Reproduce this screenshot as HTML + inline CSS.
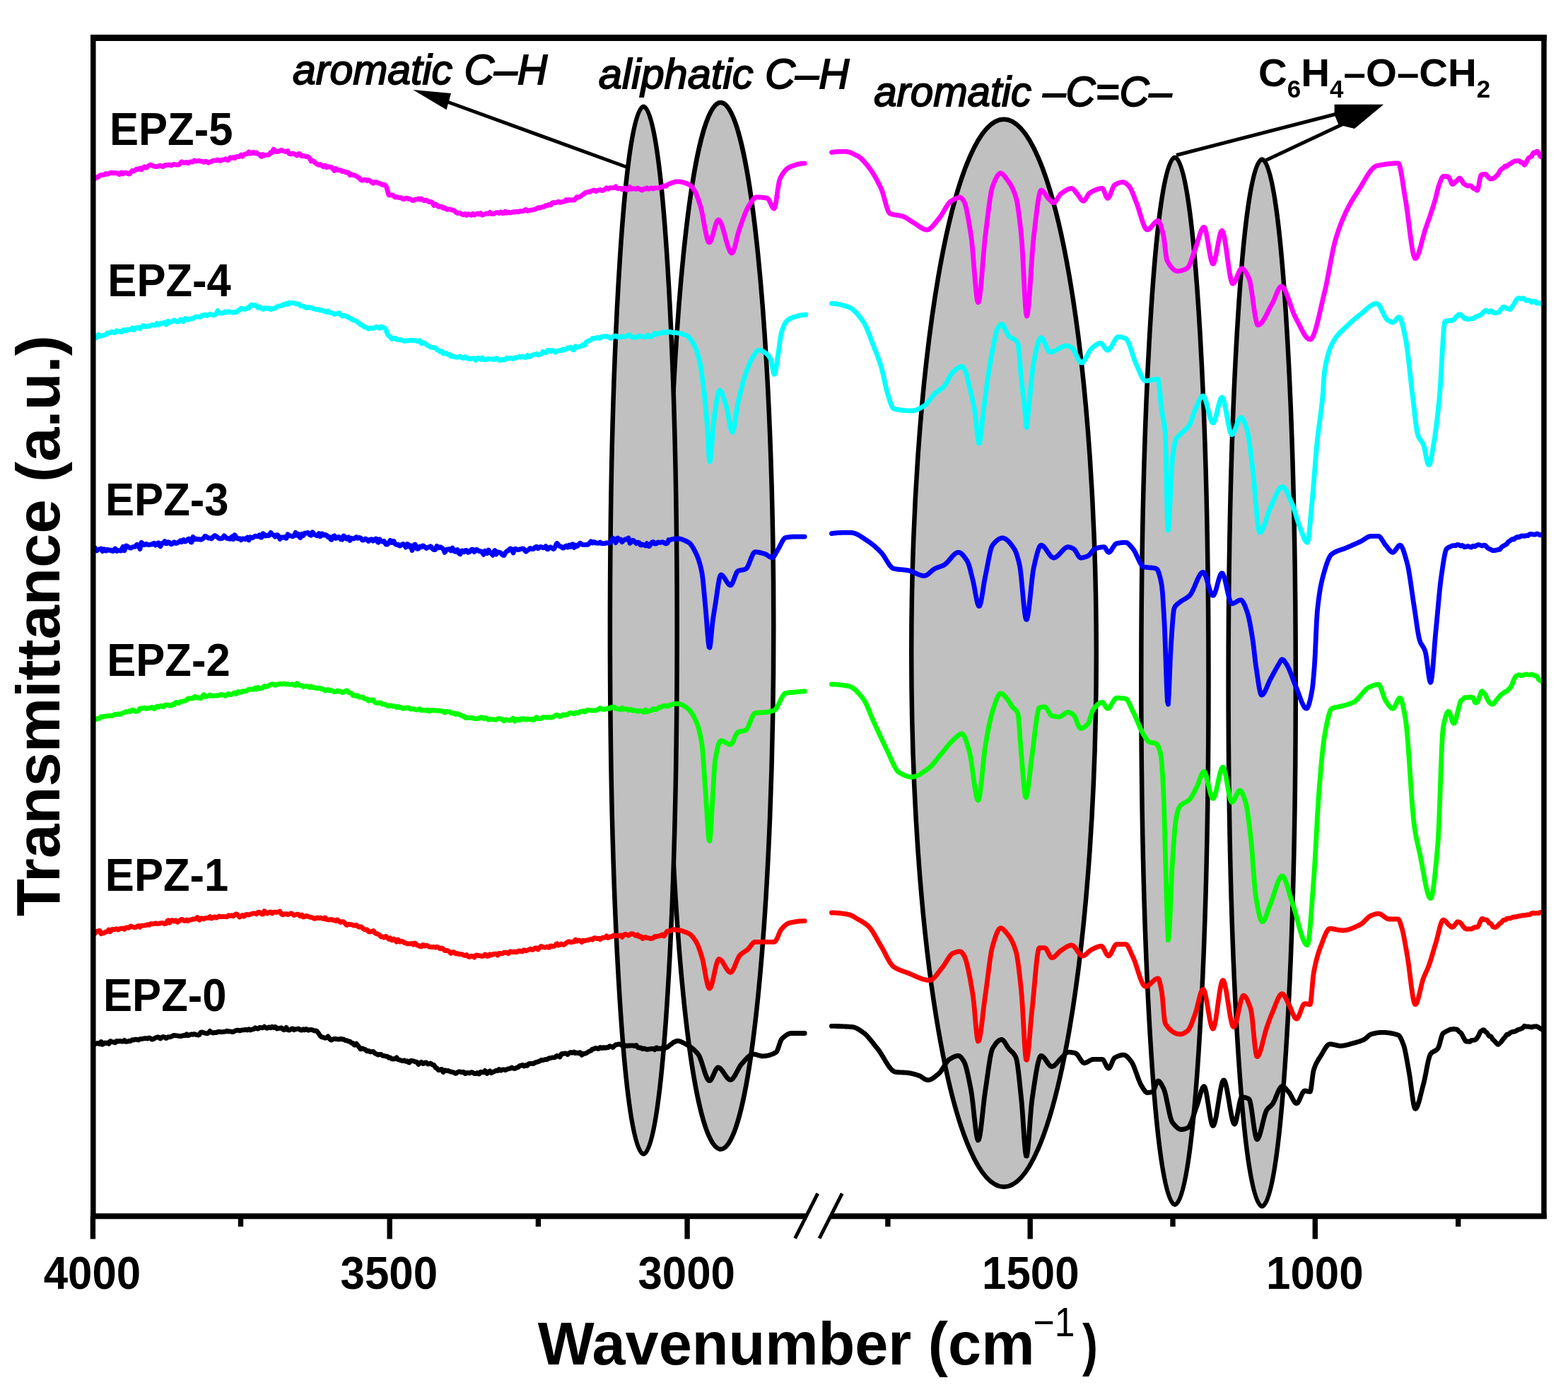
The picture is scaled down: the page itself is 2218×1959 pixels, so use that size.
<!DOCTYPE html>
<html><head><meta charset="utf-8"><title>FTIR spectra EPZ-0 to EPZ-5</title>
<style>
html,body{margin:0;padding:0;background:#fff;}
svg{display:block;}
text{font-family:"Liberation Sans",Arial,sans-serif;fill:#000;}
</style></head><body>
<svg xmlns="http://www.w3.org/2000/svg" width="2218" height="1959" viewBox="0 0 2218 1959">
<rect x="0" y="0" width="2218" height="1959" fill="#fff"/>

<g fill="#C0C0C0" stroke="#000" stroke-width="6.5">
<ellipse cx="1019.5" cy="885.2" rx="74.8" ry="740.3"/>
<ellipse cx="910.3" cy="891.5" rx="47.4" ry="740.8"/>
<ellipse cx="1420.0" cy="923.8" rx="130.8" ry="755.0"/>
<ellipse cx="1661.9" cy="963.3" rx="47.6" ry="740.6"/>
<ellipse cx="1785.2" cy="965.9" rx="47.6" ry="740.3"/>
</g>
<g fill="none" stroke-width="6.8" stroke-linejoin="round" stroke-linecap="round">
<path stroke="#000000" d="M132.0 1479.0L133.0 1477.8L134.0 1476.5L135.0 1476.2L136.0 1476.2L137.0 1475.9L138.0 1475.5L139.0 1475.6L140.0 1476.5L141.0 1476.8L142.0 1475.2L143.0 1473.5L144.0 1475.4L145.0 1477.3L146.0 1476.6L147.0 1475.2L148.0 1474.9L149.0 1475.4L150.0 1475.5L151.0 1475.1L152.0 1474.9L153.0 1475.7L154.0 1476.4L155.0 1474.6L156.0 1472.7L157.0 1472.9L158.0 1473.7L159.0 1473.9L160.0 1473.8L161.0 1473.9L162.0 1474.6L163.0 1474.9L164.0 1473.7L165.0 1472.4L166.0 1472.8L167.0 1473.2L168.0 1472.9L169.0 1472.4L170.0 1472.4L171.0 1472.8L172.0 1473.1L173.0 1473.2L174.0 1473.2L175.0 1472.3L176.0 1471.3L177.0 1472.3L178.0 1473.4L179.0 1473.4L180.0 1473.2L181.0 1472.9L182.0 1472.6L183.0 1472.4L184.0 1472.5L185.0 1472.4L186.0 1471.6L187.0 1470.7L188.0 1470.8L189.0 1471.0L190.0 1470.7L191.0 1470.1L192.0 1470.1L193.0 1470.3L194.0 1470.6L195.0 1470.9L196.0 1471.0L197.0 1470.3L198.0 1469.6L199.0 1469.6L200.0 1469.7L201.0 1469.5L202.0 1469.2L203.0 1469.0L204.0 1468.9L205.0 1468.7L206.0 1468.7L207.0 1468.8L208.0 1469.0L209.0 1469.2L210.0 1468.6L211.0 1467.9L212.0 1468.3L213.0 1468.8L214.0 1469.4L215.0 1470.1L216.0 1470.2L217.0 1469.6L218.0 1469.1L219.0 1468.5L220.0 1468.0L221.0 1467.5L222.0 1467.1L223.0 1467.0L224.0 1466.9L225.0 1467.6L226.0 1468.7L227.0 1469.0L228.0 1468.1L229.0 1467.3L230.0 1466.8L231.0 1466.4L232.0 1466.7L233.0 1467.0L234.0 1467.8L235.0 1468.6L236.0 1468.3L237.0 1467.2L238.0 1466.6L239.0 1466.8L240.0 1466.8L241.0 1466.6L242.0 1466.3L243.0 1465.9L244.0 1465.4L245.0 1464.9L246.0 1464.4L247.0 1464.4L248.0 1464.7L249.0 1464.9L250.0 1464.8L251.0 1464.9L252.0 1465.2L253.0 1465.5L254.0 1465.5L255.0 1465.5L256.0 1465.5L257.0 1465.4L258.0 1465.1L259.0 1464.7L260.0 1464.5L261.0 1464.7L262.0 1464.7L263.0 1463.8L264.0 1462.9L265.0 1463.8L266.0 1464.7L267.0 1464.5L268.0 1464.0L269.0 1463.5L270.0 1463.0L271.0 1462.8L272.0 1463.1L273.0 1463.3L274.0 1462.9L275.0 1462.5L276.0 1463.0L277.0 1463.5L278.0 1463.7L279.0 1463.8L280.0 1464.0L281.0 1464.2L282.0 1463.6L283.0 1461.7L284.0 1460.2L285.0 1460.1L286.0 1460.0L287.0 1460.3L288.0 1460.7L289.0 1461.0L290.0 1461.2L291.0 1461.5L292.0 1461.8L293.0 1461.8L294.0 1461.4L295.0 1460.9L296.0 1459.6L297.0 1458.4L298.0 1459.2L299.0 1459.9L300.0 1460.5L301.0 1461.0L302.0 1460.9L303.0 1460.6L304.0 1460.4L305.0 1460.6L306.0 1460.6L307.0 1460.1L308.0 1459.5L309.0 1459.5L310.0 1459.4L311.0 1459.5L312.0 1459.6L313.0 1459.7L314.0 1459.7L315.0 1459.7L316.0 1459.5L317.0 1459.3L318.0 1459.2L319.0 1459.1L320.0 1458.6L321.0 1458.2L322.0 1458.4L323.0 1458.9L324.0 1459.0L325.0 1458.8L326.0 1458.8L327.0 1459.2L328.0 1459.6L329.0 1459.5L330.0 1459.5L331.0 1458.9L332.0 1458.3L333.0 1457.9L334.0 1457.6L335.0 1457.3L336.0 1457.1L337.0 1457.1L338.0 1457.6L339.0 1457.9L340.0 1457.6L341.0 1457.4L342.0 1457.1L343.0 1456.8L344.0 1456.8L345.0 1456.9L346.0 1456.7L347.0 1456.2L348.0 1456.2L349.0 1456.7L350.0 1457.0L351.0 1456.3L352.0 1455.6L353.0 1456.3L354.0 1457.0L355.0 1456.7L356.0 1456.2L357.0 1455.9L358.0 1455.9L359.0 1455.5L360.0 1454.5L361.0 1453.8L362.0 1454.3L363.0 1454.9L364.0 1455.0L365.0 1455.2L366.0 1454.5L367.0 1453.5L368.0 1453.3L369.0 1453.5L370.0 1453.7L371.0 1453.8L372.0 1453.7L373.0 1452.9L374.0 1452.1L375.0 1452.9L376.0 1453.7L377.0 1454.1L378.0 1454.3L379.0 1453.9L380.0 1453.1L381.0 1452.8L382.0 1453.4L383.0 1453.8L384.0 1453.0L385.0 1452.2L386.0 1452.8L387.0 1453.5L388.0 1453.1L389.0 1452.4L390.0 1452.9L391.0 1454.4L392.0 1455.1L393.0 1454.8L394.0 1454.6L395.0 1454.4L396.0 1454.3L397.0 1454.0L398.0 1453.7L399.0 1454.6L400.0 1455.7L401.0 1456.4L402.0 1456.8L403.0 1456.3L404.0 1454.5L405.0 1453.4L406.0 1455.0L407.0 1456.7L408.0 1456.9L409.0 1457.2L410.0 1456.8L411.0 1456.3L412.0 1455.6L413.0 1454.9L414.0 1454.9L415.0 1456.0L416.0 1456.8L417.0 1456.3L418.0 1455.9L419.0 1455.7L420.0 1455.5L421.0 1455.3L422.0 1455.0L423.0 1455.4L424.0 1456.3L425.0 1456.9L426.0 1457.1L427.0 1457.1L428.0 1456.4L429.0 1455.7L430.0 1456.3L431.0 1456.9L432.0 1456.3L433.0 1455.5L434.0 1455.8L435.0 1456.8L436.0 1457.3L437.0 1456.9L438.0 1456.6L439.0 1456.6L440.0 1456.5L441.0 1456.6L442.0 1456.7L443.0 1457.2L444.0 1457.7L445.0 1458.0L446.0 1458.0L447.0 1458.0L448.0 1458.4L449.0 1459.4L450.0 1460.7L451.0 1462.2L452.0 1463.8L453.0 1465.1L454.0 1466.2L455.0 1466.8L456.0 1467.1L457.0 1467.2L458.0 1467.5L459.0 1468.0L460.0 1468.3L461.0 1468.0L462.0 1467.7L463.0 1466.8L464.0 1465.9L465.0 1467.3L466.0 1469.2L467.0 1470.3L468.0 1471.0L469.0 1471.2L470.0 1470.4L471.0 1469.8L472.0 1469.6L473.0 1469.4L474.0 1469.5L475.0 1469.6L476.0 1469.7L477.0 1469.8L478.0 1469.9L479.0 1470.1L480.0 1470.0L481.0 1469.5L482.0 1469.3L483.0 1469.7L484.0 1470.1L485.0 1470.0L486.0 1469.9L487.0 1470.6L488.0 1471.4L489.0 1471.7L490.0 1471.6L491.0 1471.8L492.0 1472.5L493.0 1473.0L494.0 1473.0L495.0 1473.1L496.0 1474.1L497.0 1475.1L498.0 1475.4L499.0 1475.5L500.0 1476.5L501.0 1478.0L502.0 1478.3L503.0 1476.9L504.0 1476.0L505.0 1477.2L506.0 1478.4L507.0 1479.8L508.0 1481.1L509.0 1482.5L510.0 1483.9L511.0 1483.9L512.0 1483.1L513.0 1482.8L514.0 1483.5L515.0 1484.0L516.0 1484.3L517.0 1484.6L518.0 1485.7L519.0 1486.9L520.0 1486.7L521.0 1486.3L522.0 1486.6L523.0 1487.5L524.0 1487.9L525.0 1487.7L526.0 1487.6L527.0 1487.4L528.0 1487.3L529.0 1488.4L530.0 1489.5L531.0 1490.1L532.0 1490.5L533.0 1491.0L534.0 1491.7L535.0 1492.0L536.0 1491.6L537.0 1491.3L538.0 1491.3L539.0 1491.3L540.0 1492.2L541.0 1493.1L542.0 1493.3L543.0 1493.4L544.0 1493.6L545.0 1493.9L546.0 1494.1L547.0 1494.2L548.0 1494.4L549.0 1495.3L550.0 1496.2L551.0 1496.0L552.0 1495.9L553.0 1496.7L554.0 1497.7L555.0 1498.0L556.0 1497.8L557.0 1497.7L558.0 1497.8L559.0 1497.6L560.0 1496.7L561.0 1495.8L562.0 1497.2L563.0 1498.5L564.0 1498.9L565.0 1499.1L566.0 1499.4L567.0 1499.8L568.0 1500.2L569.0 1500.6L570.0 1500.7L571.0 1500.3L572.0 1499.8L573.0 1500.6L574.0 1501.4L575.0 1501.2L576.0 1500.7L577.0 1501.4L578.0 1502.8L579.0 1503.1L580.0 1501.7L581.0 1500.5L582.0 1500.4L583.0 1500.4L584.0 1500.6L585.0 1500.8L586.0 1501.3L587.0 1501.8L588.0 1502.0L589.0 1502.0L590.0 1502.6L591.0 1504.3L592.0 1505.4L593.0 1504.3L594.0 1503.2L595.0 1502.8L596.0 1502.3L597.0 1503.2L598.0 1504.5L599.0 1504.5L600.0 1503.7L601.0 1503.1L602.0 1502.8L603.0 1502.8L604.0 1503.9L605.0 1505.0L606.0 1504.9L607.0 1504.9L608.0 1504.5L609.0 1504.0L610.0 1504.5L611.0 1505.5L612.0 1506.2L613.0 1506.1L614.0 1506.6L615.0 1508.2L616.0 1510.0L617.0 1510.5L618.0 1510.9L619.0 1512.2L620.0 1513.4L621.0 1513.7L622.0 1513.3L623.0 1512.8L624.0 1512.4L625.0 1512.4L626.0 1514.5L627.0 1516.5L628.0 1515.2L629.0 1513.9L630.0 1514.0L631.0 1514.3L632.0 1514.5L633.0 1514.4L634.0 1514.5L635.0 1514.9L636.0 1515.3L637.0 1515.7L638.0 1516.1L639.0 1516.2L640.0 1516.3L641.0 1516.7L642.0 1517.0L643.0 1517.6L644.0 1518.3L645.0 1518.3L646.0 1517.5L647.0 1516.7L648.0 1516.3L649.0 1515.8L650.0 1515.9L651.0 1516.0L652.0 1516.3L653.0 1516.7L654.0 1516.5L655.0 1516.1L656.0 1516.3L657.0 1517.6L658.0 1518.6L659.0 1517.9L660.0 1517.3L661.0 1517.4L662.0 1517.6L663.0 1517.7L664.0 1517.9L665.0 1517.6L666.0 1516.9L667.0 1516.6L668.0 1516.8L669.0 1517.2L670.0 1517.9L671.0 1518.7L672.0 1518.6L673.0 1518.6L674.0 1518.1L675.0 1517.5L676.0 1517.9L677.0 1519.0L678.0 1519.0L679.0 1517.4L680.0 1516.1L681.0 1516.5L682.0 1516.9L683.0 1516.9L684.0 1516.9L685.0 1515.8L686.0 1514.4L687.0 1515.2L688.0 1517.4L689.0 1518.4L690.0 1517.5L691.0 1516.6L692.0 1515.8L693.0 1514.9L694.0 1516.3L695.0 1517.7L696.0 1517.3L697.0 1516.4L698.0 1516.0L699.0 1515.7L700.0 1515.3L701.0 1514.6L702.0 1514.1L703.0 1514.3L704.0 1514.5L705.0 1513.5L706.0 1512.5L707.0 1513.1L708.0 1514.1L709.0 1514.0L710.0 1513.3L711.0 1512.8L712.0 1512.9L713.0 1513.0L714.0 1513.4L715.0 1513.7L716.0 1513.1L717.0 1512.4L718.0 1512.1L719.0 1511.9L720.0 1511.7L721.0 1511.5L722.0 1511.1L723.0 1510.4L724.0 1510.0L725.0 1510.6L726.0 1511.2L727.0 1511.3L728.0 1511.5L729.0 1511.1L730.0 1510.5L731.0 1510.2L732.0 1510.0L733.0 1509.5L734.0 1508.5L735.0 1507.6L736.0 1507.4L737.0 1507.2L738.0 1506.7L739.0 1506.2L740.0 1506.9L741.0 1508.0L742.0 1507.9L743.0 1506.9L744.0 1506.5L745.0 1507.1L746.0 1507.3L747.0 1505.9L748.0 1504.6L749.0 1504.5L750.0 1504.4L751.0 1504.3L752.0 1504.3L753.0 1504.4L754.0 1504.5L755.0 1504.3L756.0 1503.5L757.0 1502.9L758.0 1502.7L759.0 1502.5L760.0 1502.1L761.0 1501.7L762.0 1501.4L763.0 1501.2L764.0 1500.6L765.0 1499.7L766.0 1499.2L767.0 1499.5L768.0 1499.7L769.0 1499.3L770.0 1498.9L771.0 1498.7L772.0 1498.5L773.0 1498.4L774.0 1498.5L775.0 1498.0L776.0 1497.1L777.0 1496.6L778.0 1496.7L779.0 1496.6L780.0 1496.2L781.0 1495.8L782.0 1495.9L783.0 1495.9L784.0 1495.8L785.0 1495.7L786.0 1494.9L787.0 1493.8L788.0 1493.2L789.0 1493.7L790.0 1494.2L791.0 1494.6L792.0 1495.0L793.0 1493.0L794.0 1490.9L795.0 1490.5L796.0 1490.5L797.0 1490.4L798.0 1490.1L799.0 1489.9L800.0 1490.0L801.0 1490.2L802.0 1490.9L803.0 1491.6L804.0 1490.6L805.0 1489.6L806.0 1489.0L807.0 1488.5L808.0 1488.6L809.0 1489.1L810.0 1489.1L811.0 1488.4L812.0 1488.0L813.0 1488.8L814.0 1489.7L815.0 1489.2L816.0 1488.8L817.0 1489.2L818.0 1489.8L819.0 1489.6L820.0 1488.7L821.0 1488.9L822.0 1490.9L823.0 1492.3L824.0 1491.3L825.0 1490.4L826.0 1490.4L827.0 1490.4L828.0 1490.1L829.0 1489.8L830.0 1489.3L831.0 1488.6L832.0 1488.0L833.0 1487.3L834.0 1486.7L835.0 1486.4L836.0 1486.1L837.0 1485.0L838.0 1484.0L839.0 1483.8L840.0 1483.8L841.0 1483.3L842.0 1482.5L843.0 1482.3L844.0 1482.8L845.0 1483.3L846.0 1483.3L847.0 1483.4L848.0 1482.4L849.0 1481.4L850.0 1481.9L851.0 1482.7L852.0 1482.5L853.0 1481.7L854.0 1481.4L855.0 1482.0L856.0 1482.4L857.0 1481.9L858.0 1481.5L859.0 1481.7L860.0 1481.9L861.0 1481.1L862.0 1479.9L863.0 1479.7L864.0 1480.0L865.0 1480.5L866.0 1481.2L867.0 1481.5L868.0 1480.4L869.0 1479.3L870.0 1478.5L871.0 1477.7L872.0 1477.6L873.0 1477.6L874.0 1477.3L875.0 1477.0L876.0 1476.9L877.0 1477.0L878.0 1477.3L879.0 1478.1L880.0 1478.9L881.0 1479.7L882.0 1480.5L883.0 1479.9L884.0 1479.1L885.0 1478.9L886.0 1479.3L887.0 1479.4L888.0 1479.1L889.0 1479.0L890.0 1479.0L891.0 1479.0L892.0 1478.9L893.0 1478.8L894.0 1478.8L895.0 1478.8L896.0 1479.0L897.0 1479.4L898.0 1479.3L899.0 1478.7L900.0 1478.5L901.0 1479.9L902.0 1481.4L903.0 1481.7L904.0 1482.1L905.0 1482.0L906.0 1481.9L907.0 1482.4L908.0 1483.3L909.0 1483.7L910.0 1483.3L911.0 1483.0L912.0 1483.3L913.0 1483.6L914.0 1484.0L915.0 1484.4L916.0 1484.3L917.0 1484.1L918.0 1484.0L919.0 1483.8L920.0 1483.6L921.0 1483.5L922.0 1483.4L923.0 1483.3L924.0 1483.3L925.0 1484.0L926.0 1484.7L927.0 1483.6L928.0 1482.0L929.0 1482.0L930.0 1483.1L931.0 1483.5L932.0 1483.1L933.0 1482.8L934.0 1483.2L935.0 1483.5L936.0 1483.3L937.0 1483.0L938.0 1481.5L939.0 1479.7L940.0 1479.9L941.0 1481.4L942.0 1482.1L943.0 1481.7L944.0 1481.1L945.0 1480.4L946.0 1479.6L947.0 1478.7L948.0 1477.8L949.0 1477.2L950.0 1476.7L951.0 1475.8L952.0 1474.8L953.0 1474.1L954.0 1473.8L955.0 1473.4L956.0 1472.8L957.0 1472.4L958.0 1472.3L959.0 1472.4L960.0 1472.4L961.0 1472.6L962.0 1472.9L963.0 1473.3L964.0 1473.7L965.0 1474.2L966.0 1474.7L967.0 1475.2L968.0 1475.7L969.0 1476.3L970.0 1476.8L971.0 1477.4L972.0 1477.9L973.0 1478.5L974.0 1479.1L975.0 1479.7L976.0 1480.4L977.0 1481.1L978.0 1481.8L979.0 1482.6L980.0 1483.4L981.0 1484.3L982.0 1485.2L983.0 1486.1L984.0 1487.1L985.0 1488.2L986.0 1489.3L987.0 1490.5L988.0 1491.8L989.0 1493.5L990.0 1495.7L991.0 1498.3L992.0 1501.2L993.0 1504.2L994.0 1507.4L995.0 1510.6L996.0 1513.8L997.0 1516.9L998.0 1519.8L999.0 1522.4L1000.0 1524.7L1001.0 1526.5L1002.0 1527.8L1003.0 1528.6L1004.0 1528.6L1005.0 1528.0L1006.0 1526.8L1007.0 1525.1L1008.0 1523.1L1009.0 1520.9L1010.0 1518.6L1011.0 1516.3L1012.0 1514.2L1013.0 1512.4L1014.0 1511.0L1015.0 1510.1L1016.0 1509.9L1017.0 1510.1L1018.0 1510.7L1019.0 1511.4L1020.0 1512.4L1021.0 1513.6L1022.0 1514.9L1023.0 1516.3L1024.0 1517.8L1025.0 1519.3L1026.0 1520.8L1027.0 1522.2L1028.0 1523.6L1029.0 1524.7L1030.0 1525.8L1031.0 1526.6L1032.0 1527.1L1033.0 1527.4L1034.0 1527.3L1035.0 1526.9L1036.0 1526.1L1037.0 1525.0L1038.0 1523.7L1039.0 1522.2L1040.0 1520.5L1041.0 1518.7L1042.0 1516.8L1043.0 1514.9L1044.0 1513.0L1045.0 1511.1L1046.0 1509.3L1047.0 1507.7L1048.0 1506.2L1049.0 1504.9L1050.0 1503.9L1051.0 1502.8L1052.0 1501.7L1053.0 1500.5L1054.0 1499.4L1055.0 1498.3L1056.0 1497.2L1057.0 1496.2L1058.0 1495.2L1059.0 1494.3L1060.0 1493.5L1061.0 1492.7L1062.0 1492.1L1063.0 1491.7L1064.0 1491.3L1065.0 1491.1L1066.0 1491.1L1067.0 1491.2L1068.0 1491.3L1069.0 1491.5L1070.0 1491.8L1071.0 1492.1L1072.0 1492.4L1073.0 1492.7L1074.0 1493.0L1075.0 1493.2L1076.0 1493.5L1077.0 1493.6L1078.0 1493.8L1079.0 1493.8L1080.0 1493.8L1081.0 1493.7L1082.0 1493.7L1083.0 1493.6L1084.0 1493.4L1085.0 1493.2L1086.0 1493.0L1087.0 1492.8L1088.0 1492.6L1089.0 1492.3L1090.0 1491.9L1091.0 1491.6L1092.0 1491.2L1093.0 1490.8L1094.0 1490.4L1095.0 1489.9L1096.0 1489.4L1097.0 1488.8L1098.0 1488.3L1099.0 1486.9L1100.0 1484.7L1101.0 1482.0L1102.0 1478.9L1103.0 1475.8L1104.0 1473.0L1105.0 1470.8L1106.0 1469.4L1107.0 1468.4L1108.0 1467.5L1109.0 1466.6L1110.0 1465.8L1111.0 1465.0L1112.0 1464.3L1113.0 1463.6L1114.0 1463.0L1115.0 1462.5L1116.0 1462.1L1117.0 1461.8L1118.0 1461.6L1119.0 1461.5L1120.0 1461.5L1121.0 1461.5L1122.0 1461.5L1123.0 1461.5L1124.0 1461.5L1125.0 1461.5L1126.0 1461.5L1127.0 1461.5L1128.0 1461.5L1129.0 1461.5L1130.0 1461.5L1131.0 1461.5L1132.0 1461.5L1133.0 1461.5L1134.0 1461.5L1135.0 1461.5L1136.0 1461.5L1137.0 1461.5L1138.0 1461.5L1138.2 1461.5"/>
<path stroke="#000000" d="M1176.4 1451.4L1177.4 1451.4L1178.4 1451.4L1179.4 1451.4L1180.4 1451.4L1181.4 1451.4L1182.4 1451.4L1183.4 1451.5L1184.4 1451.5L1185.4 1451.5L1186.4 1451.5L1187.4 1451.6L1188.4 1451.6L1189.4 1451.6L1190.4 1451.7L1191.4 1451.7L1192.4 1451.8L1193.4 1451.8L1194.4 1451.9L1195.4 1451.9L1196.4 1452.0L1197.4 1452.0L1198.4 1452.1L1199.4 1452.1L1200.4 1452.2L1201.4 1452.3L1202.4 1452.3L1203.4 1452.4L1204.4 1452.5L1205.4 1452.6L1206.4 1452.7L1207.4 1452.9L1208.4 1453.1L1209.4 1453.5L1210.4 1453.9L1211.4 1454.3L1212.4 1454.8L1213.4 1455.4L1214.4 1456.0L1215.4 1456.6L1216.4 1457.2L1217.4 1457.9L1218.4 1458.6L1219.4 1459.3L1220.4 1460.0L1221.4 1460.7L1222.4 1461.4L1223.4 1462.2L1224.4 1463.1L1225.4 1464.1L1226.4 1465.1L1227.4 1466.2L1228.4 1467.3L1229.4 1468.5L1230.4 1469.6L1231.4 1470.9L1232.4 1472.1L1233.4 1473.4L1234.4 1474.6L1235.4 1475.9L1236.4 1477.2L1237.4 1478.5L1238.4 1479.7L1239.4 1481.0L1240.4 1482.2L1241.4 1483.4L1242.4 1484.7L1243.4 1486.1L1244.4 1487.5L1245.4 1489.0L1246.4 1490.6L1247.4 1492.2L1248.4 1493.9L1249.4 1495.5L1250.4 1497.2L1251.4 1498.9L1252.4 1500.6L1253.4 1502.2L1254.4 1503.8L1255.4 1505.4L1256.4 1506.9L1257.4 1508.3L1258.4 1509.7L1259.4 1510.9L1260.4 1512.1L1261.4 1513.1L1262.4 1514.0L1263.4 1514.8L1264.4 1515.4L1265.4 1515.9L1266.4 1516.2L1267.4 1516.3L1268.4 1516.4L1269.4 1516.5L1270.4 1516.6L1271.4 1516.7L1272.4 1516.7L1273.4 1516.8L1274.4 1516.8L1275.4 1516.9L1276.4 1516.9L1277.4 1517.0L1278.4 1517.0L1279.4 1517.1L1280.4 1517.1L1281.4 1517.2L1282.4 1517.3L1283.4 1517.4L1284.4 1517.5L1285.4 1517.6L1286.4 1517.8L1287.4 1517.9L1288.4 1518.1L1289.4 1518.3L1290.4 1518.6L1291.4 1518.8L1292.4 1519.1L1293.4 1519.3L1294.4 1519.6L1295.4 1519.9L1296.4 1520.2L1297.4 1520.5L1298.4 1520.9L1299.4 1521.2L1300.4 1521.6L1301.4 1522.0L1302.4 1522.6L1303.4 1523.2L1304.4 1523.9L1305.4 1524.6L1306.4 1525.2L1307.4 1525.9L1308.4 1526.5L1309.4 1526.9L1310.4 1527.3L1311.4 1527.6L1312.4 1527.7L1313.4 1527.7L1314.4 1527.5L1315.4 1527.2L1316.4 1526.8L1317.4 1526.4L1318.4 1525.9L1319.4 1525.3L1320.4 1524.6L1321.4 1523.9L1322.4 1523.1L1323.4 1522.3L1324.4 1521.5L1325.4 1520.7L1326.4 1519.9L1327.4 1519.0L1328.4 1518.2L1329.4 1517.1L1330.4 1515.9L1331.4 1514.5L1332.4 1513.0L1333.4 1511.4L1334.4 1509.8L1335.4 1508.1L1336.4 1506.5L1337.4 1504.9L1338.4 1503.4L1339.4 1502.0L1340.4 1500.8L1341.4 1499.7L1342.4 1498.8L1343.4 1498.2L1344.4 1497.6L1345.4 1497.0L1346.4 1496.4L1347.4 1495.8L1348.4 1495.3L1349.4 1494.9L1350.4 1494.4L1351.4 1494.1L1352.4 1493.8L1353.4 1493.5L1354.4 1493.4L1355.4 1493.3L1356.4 1493.4L1357.4 1493.8L1358.4 1494.6L1359.4 1495.5L1360.4 1496.8L1361.4 1498.1L1362.4 1499.6L1363.4 1501.2L1364.4 1503.2L1365.4 1505.8L1366.4 1509.0L1367.4 1512.7L1368.4 1516.9L1369.4 1521.4L1370.4 1526.1L1371.4 1531.0L1372.4 1536.1L1373.4 1541.2L1374.4 1547.1L1375.4 1554.6L1376.4 1563.2L1377.4 1572.5L1378.4 1581.9L1379.4 1590.9L1380.4 1599.0L1381.4 1605.7L1382.4 1610.5L1383.4 1612.8L1384.4 1612.2L1385.4 1609.1L1386.4 1603.9L1387.4 1597.0L1388.4 1588.9L1389.4 1579.9L1390.4 1570.7L1391.4 1561.5L1392.4 1552.8L1393.4 1545.1L1394.4 1538.5L1395.4 1531.7L1396.4 1524.6L1397.4 1517.4L1398.4 1510.4L1399.4 1503.7L1400.4 1497.6L1401.4 1492.2L1402.4 1487.8L1403.4 1484.5L1404.4 1482.5L1405.4 1480.8L1406.4 1479.2L1407.4 1477.8L1408.4 1476.4L1409.4 1475.1L1410.4 1474.0L1411.4 1473.0L1412.4 1472.2L1413.4 1471.5L1414.4 1470.9L1415.4 1470.6L1416.4 1470.4L1417.4 1470.5L1418.4 1471.0L1419.4 1471.9L1420.4 1473.1L1421.4 1474.5L1422.4 1476.1L1423.4 1477.8L1424.4 1479.5L1425.4 1481.1L1426.4 1482.5L1427.4 1483.8L1428.4 1484.9L1429.4 1485.9L1430.4 1486.8L1431.4 1487.7L1432.4 1488.7L1433.4 1489.8L1434.4 1491.1L1435.4 1492.6L1436.4 1494.4L1437.4 1496.7L1438.4 1500.7L1439.4 1506.8L1440.4 1514.3L1441.4 1523.0L1442.4 1532.4L1443.4 1542.1L1444.4 1551.6L1445.4 1561.8L1446.4 1575.0L1447.4 1589.8L1448.4 1604.8L1449.4 1618.4L1450.4 1628.9L1451.4 1635.0L1452.4 1635.1L1453.4 1630.0L1454.4 1620.9L1455.4 1609.1L1456.4 1595.8L1457.4 1582.2L1458.4 1569.6L1459.4 1559.1L1460.4 1551.7L1461.4 1544.9L1462.4 1538.1L1463.4 1531.4L1464.4 1524.9L1465.4 1518.7L1466.4 1513.0L1467.4 1507.7L1468.4 1503.1L1469.4 1499.3L1470.4 1496.3L1471.4 1494.3L1472.4 1493.4L1473.4 1493.4L1474.4 1493.8L1475.4 1494.6L1476.4 1495.6L1477.4 1496.7L1478.4 1498.1L1479.4 1499.5L1480.4 1501.0L1481.4 1502.5L1482.4 1504.0L1483.4 1505.3L1484.4 1506.5L1485.4 1507.4L1486.4 1508.1L1487.4 1508.5L1488.4 1508.6L1489.4 1508.3L1490.4 1507.9L1491.4 1507.2L1492.4 1506.3L1493.4 1505.3L1494.4 1504.3L1495.4 1503.1L1496.4 1501.9L1497.4 1500.7L1498.4 1499.6L1499.4 1498.5L1500.4 1497.5L1501.4 1496.5L1502.4 1495.5L1503.4 1494.3L1504.4 1493.2L1505.4 1492.0L1506.4 1490.9L1507.4 1490.0L1508.4 1489.1L1509.4 1488.6L1510.4 1488.2L1511.4 1488.2L1512.4 1488.2L1513.4 1488.3L1514.4 1488.4L1515.4 1488.5L1516.4 1488.6L1517.4 1488.8L1518.4 1489.0L1519.4 1489.2L1520.4 1489.4L1521.4 1489.6L1522.4 1490.2L1523.4 1491.1L1524.4 1492.3L1525.4 1493.7L1526.4 1495.3L1527.4 1496.9L1528.4 1498.4L1529.4 1499.9L1530.4 1501.2L1531.4 1502.3L1532.4 1503.1L1533.4 1503.5L1534.4 1503.5L1535.4 1503.3L1536.4 1502.9L1537.4 1502.5L1538.4 1502.0L1539.4 1501.4L1540.4 1500.8L1541.4 1500.2L1542.4 1499.7L1543.4 1499.2L1544.4 1498.8L1545.4 1498.5L1546.4 1498.4L1547.4 1498.4L1548.4 1498.4L1549.4 1498.4L1550.4 1498.4L1551.4 1498.4L1552.4 1498.4L1553.4 1498.4L1554.4 1498.4L1555.4 1498.4L1556.4 1498.4L1557.4 1498.4L1558.4 1498.4L1559.4 1498.4L1560.4 1499.0L1561.4 1500.3L1562.4 1502.1L1563.4 1504.2L1564.4 1506.3L1565.4 1508.3L1566.4 1509.9L1567.4 1510.9L1568.4 1511.1L1569.4 1510.3L1570.4 1508.8L1571.4 1506.8L1572.4 1504.5L1573.4 1502.0L1574.4 1499.7L1575.4 1497.8L1576.4 1496.4L1577.4 1495.7L1578.4 1495.2L1579.4 1494.7L1580.4 1494.3L1581.4 1493.8L1582.4 1493.5L1583.4 1493.1L1584.4 1492.8L1585.4 1492.6L1586.4 1492.4L1587.4 1492.2L1588.4 1492.1L1589.4 1492.1L1590.4 1492.2L1591.4 1492.5L1592.4 1493.0L1593.4 1493.7L1594.4 1494.6L1595.4 1495.6L1596.4 1496.7L1597.4 1497.9L1598.4 1499.1L1599.4 1500.4L1600.4 1501.7L1601.4 1503.3L1602.4 1505.2L1603.4 1507.4L1604.4 1509.8L1605.4 1512.4L1606.4 1515.1L1607.4 1517.9L1608.4 1520.7L1609.4 1523.5L1610.4 1526.2L1611.4 1528.8L1612.4 1531.2L1613.4 1533.4L1614.4 1535.3L1615.4 1536.9L1616.4 1538.5L1617.4 1540.1L1618.4 1541.6L1619.4 1543.0L1620.4 1544.2L1621.4 1545.0L1622.4 1545.5L1623.4 1545.5L1624.4 1545.4L1625.4 1545.3L1626.4 1545.2L1627.4 1545.0L1628.4 1544.8L1629.4 1544.5L1630.4 1544.2L1631.4 1543.3L1632.4 1541.3L1633.4 1538.7L1634.4 1535.9L1635.4 1533.1L1636.4 1530.8L1637.4 1529.3L1638.4 1529.0L1639.4 1529.4L1640.4 1530.3L1641.4 1531.5L1642.4 1533.0L1643.4 1534.8L1644.4 1536.6L1645.4 1538.5L1646.4 1540.7L1647.4 1543.6L1648.4 1547.3L1649.4 1551.5L1650.4 1556.2L1651.4 1561.0L1652.4 1565.9L1653.4 1570.7L1654.4 1575.3L1655.4 1579.4L1656.4 1582.9L1657.4 1585.7L1658.4 1587.5L1659.4 1588.8L1660.4 1590.0L1661.4 1591.2L1662.4 1592.3L1663.4 1593.4L1664.4 1594.3L1665.4 1595.2L1666.4 1595.9L1667.4 1596.5L1668.4 1597.0L1669.4 1597.4L1670.4 1597.6L1671.4 1597.6L1672.4 1597.5L1673.4 1597.4L1674.4 1597.2L1675.4 1597.0L1676.4 1596.7L1677.4 1596.3L1678.4 1595.9L1679.4 1595.5L1680.4 1595.0L1681.4 1594.1L1682.4 1592.8L1683.4 1591.0L1684.4 1588.8L1685.4 1586.3L1686.4 1583.6L1687.4 1580.7L1688.4 1577.7L1689.4 1574.7L1690.4 1571.6L1691.4 1568.7L1692.4 1565.9L1693.4 1563.2L1694.4 1560.2L1695.4 1556.7L1696.4 1553.1L1697.4 1549.5L1698.4 1546.0L1699.4 1542.8L1700.4 1540.1L1701.4 1538.1L1702.4 1536.9L1703.4 1536.7L1704.4 1538.2L1705.4 1541.4L1706.4 1546.0L1707.4 1551.5L1708.4 1557.7L1709.4 1564.2L1710.4 1570.8L1711.4 1577.0L1712.4 1582.6L1713.4 1587.3L1714.4 1590.6L1715.4 1592.3L1716.4 1592.2L1717.4 1590.5L1718.4 1587.5L1719.4 1583.3L1720.4 1578.3L1721.4 1572.6L1722.4 1566.5L1723.4 1560.1L1724.4 1553.7L1725.4 1547.6L1726.4 1541.9L1727.4 1536.9L1728.4 1532.7L1729.4 1529.7L1730.4 1528.0L1731.4 1527.8L1732.4 1529.2L1733.4 1531.8L1734.4 1535.6L1735.4 1540.2L1736.4 1545.5L1737.4 1551.3L1738.4 1557.3L1739.4 1563.4L1740.4 1569.4L1741.4 1574.9L1742.4 1579.9L1743.4 1584.1L1744.4 1587.4L1745.4 1589.4L1746.4 1590.0L1747.4 1588.8L1748.4 1585.8L1749.4 1581.6L1750.4 1576.4L1751.4 1570.9L1752.4 1565.4L1753.4 1560.2L1754.4 1556.0L1755.4 1553.0L1756.4 1551.8L1757.4 1551.8L1758.4 1551.9L1759.4 1552.0L1760.4 1552.2L1761.4 1552.4L1762.4 1552.7L1763.4 1553.0L1764.4 1553.4L1765.4 1553.8L1766.4 1554.3L1767.4 1555.3L1768.4 1558.4L1769.4 1563.3L1770.4 1569.4L1771.4 1576.3L1772.4 1583.7L1773.4 1591.0L1774.4 1597.8L1775.4 1603.7L1776.4 1608.3L1777.4 1611.0L1778.4 1611.6L1779.4 1610.7L1780.4 1609.0L1781.4 1606.6L1782.4 1603.5L1783.4 1599.9L1784.4 1596.0L1785.4 1591.9L1786.4 1587.8L1787.4 1583.7L1788.4 1579.8L1789.4 1576.3L1790.4 1573.3L1791.4 1570.9L1792.4 1569.3L1793.4 1568.0L1794.4 1567.0L1795.4 1566.1L1796.4 1565.3L1797.4 1564.4L1798.4 1563.5L1799.4 1562.4L1800.4 1561.0L1801.4 1559.3L1802.4 1557.3L1803.4 1555.1L1804.4 1552.7L1805.4 1550.3L1806.4 1547.8L1807.4 1545.4L1808.4 1543.2L1809.4 1541.2L1810.4 1539.4L1811.4 1538.0L1812.4 1537.1L1813.4 1536.6L1814.4 1536.7L1815.4 1537.0L1816.4 1537.7L1817.4 1538.5L1818.4 1539.5L1819.4 1540.6L1820.4 1541.7L1821.4 1542.9L1822.4 1544.0L1823.4 1545.2L1824.4 1546.6L1825.4 1548.4L1826.4 1550.2L1827.4 1552.1L1828.4 1554.1L1829.4 1555.9L1830.4 1557.5L1831.4 1558.9L1832.4 1560.0L1833.4 1560.6L1834.4 1560.7L1835.4 1560.1L1836.4 1558.8L1837.4 1557.1L1838.4 1555.0L1839.4 1552.7L1840.4 1550.4L1841.4 1548.2L1842.4 1546.1L1843.4 1544.5L1844.4 1543.4L1845.4 1542.9L1846.4 1542.9L1847.4 1543.1L1848.4 1543.3L1849.4 1543.6L1850.4 1543.8L1851.4 1544.0L1852.4 1544.2L1853.4 1544.1L1854.4 1540.5L1855.4 1533.4L1856.4 1525.1L1857.4 1517.6L1858.4 1513.1L1859.4 1510.1L1860.4 1507.5L1861.4 1505.2L1862.4 1503.1L1863.4 1501.3L1864.4 1499.5L1865.4 1497.9L1866.4 1496.4L1867.4 1494.9L1868.4 1493.3L1869.4 1491.7L1870.4 1489.9L1871.4 1488.2L1872.4 1486.4L1873.4 1484.7L1874.4 1483.1L1875.4 1481.5L1876.4 1480.2L1877.4 1479.0L1878.4 1478.0L1879.4 1477.3L1880.4 1476.9L1881.4 1476.8L1882.4 1476.9L1883.4 1477.0L1884.4 1477.1L1885.4 1477.3L1886.4 1477.5L1887.4 1477.7L1888.4 1478.0L1889.4 1478.2L1890.4 1478.4L1891.4 1478.7L1892.4 1478.9L1893.4 1479.0L1894.4 1479.2L1895.4 1479.3L1896.4 1479.3L1897.4 1479.3L1898.4 1479.2L1899.4 1479.1L1900.4 1479.0L1901.4 1478.8L1902.4 1478.6L1903.4 1478.4L1904.4 1478.2L1905.4 1478.0L1906.4 1477.7L1907.4 1477.4L1908.4 1477.1L1909.4 1476.9L1910.4 1476.6L1911.4 1476.3L1912.4 1476.0L1913.4 1475.7L1914.4 1475.4L1915.4 1475.2L1916.4 1474.9L1917.4 1474.7L1918.4 1474.4L1919.4 1474.1L1920.4 1473.8L1921.4 1473.5L1922.4 1473.2L1923.4 1472.8L1924.4 1472.5L1925.4 1472.1L1926.4 1471.7L1927.4 1471.3L1928.4 1470.9L1929.4 1470.4L1930.4 1469.9L1931.4 1469.2L1932.4 1468.3L1933.4 1467.4L1934.4 1466.5L1935.4 1465.6L1936.4 1464.7L1937.4 1463.9L1938.4 1463.3L1939.4 1462.9L1940.4 1462.6L1941.4 1462.3L1942.4 1462.1L1943.4 1461.8L1944.4 1461.6L1945.4 1461.4L1946.4 1461.2L1947.4 1461.0L1948.4 1460.8L1949.4 1460.7L1950.4 1460.6L1951.4 1460.5L1952.4 1460.4L1953.4 1460.3L1954.4 1460.3L1955.4 1460.3L1956.4 1460.3L1957.4 1460.3L1958.4 1460.4L1959.4 1460.4L1960.4 1460.5L1961.4 1460.6L1962.4 1460.7L1963.4 1460.8L1964.4 1460.9L1965.4 1461.0L1966.4 1461.2L1967.4 1461.4L1968.4 1461.5L1969.4 1461.7L1970.4 1462.0L1971.4 1462.2L1972.4 1462.4L1973.4 1462.7L1974.4 1463.0L1975.4 1463.3L1976.4 1463.6L1977.4 1464.0L1978.4 1464.4L1979.4 1465.3L1980.4 1466.7L1981.4 1468.5L1982.4 1470.6L1983.4 1472.9L1984.4 1475.5L1985.4 1478.1L1986.4 1481.3L1987.4 1485.4L1988.4 1490.1L1989.4 1495.4L1990.4 1501.0L1991.4 1506.7L1992.4 1512.4L1993.4 1517.9L1994.4 1524.3L1995.4 1531.6L1996.4 1539.4L1997.4 1547.1L1998.4 1554.3L1999.4 1560.5L2000.4 1565.2L2001.4 1567.9L2002.4 1568.3L2003.4 1567.5L2004.4 1565.9L2005.4 1563.6L2006.4 1560.7L2007.4 1557.3L2008.4 1553.6L2009.4 1549.7L2010.4 1545.7L2011.4 1541.6L2012.4 1537.7L2013.4 1534.0L2014.4 1530.1L2015.4 1525.5L2016.4 1520.5L2017.4 1515.3L2018.4 1510.0L2019.4 1505.0L2020.4 1500.4L2021.4 1496.4L2022.4 1493.2L2023.4 1491.1L2024.4 1489.9L2025.4 1488.9L2026.4 1488.2L2027.4 1487.6L2028.4 1487.1L2029.4 1486.6L2030.4 1486.1L2031.4 1485.4L2032.4 1484.6L2033.4 1483.7L2034.4 1482.2L2035.4 1479.7L2036.4 1476.4L2037.4 1472.6L2038.4 1468.9L2039.4 1465.5L2040.4 1462.9L2041.4 1461.5L2042.4 1460.8L2043.4 1460.2L2044.4 1459.6L2045.4 1459.0L2046.4 1458.5L2047.4 1458.0L2048.4 1457.5L2049.4 1457.1L2050.4 1456.6L2051.4 1456.1L2052.4 1455.9L2053.4 1455.9L2054.4 1455.8L2055.4 1455.6L2056.4 1455.4L2057.4 1455.6L2058.4 1455.8L2059.4 1455.8L2060.4 1455.9L2061.4 1456.3L2062.4 1457.4L2063.4 1458.6L2064.4 1459.6L2065.4 1460.2L2066.4 1460.8L2067.4 1462.3L2068.4 1464.0L2069.4 1466.0L2070.4 1468.0L2071.4 1469.8L2072.4 1471.5L2073.4 1472.7L2074.4 1473.2L2075.4 1473.1L2076.4 1472.9L2077.4 1473.3L2078.4 1473.7L2079.4 1473.4L2080.4 1472.4L2081.4 1471.5L2082.4 1471.4L2083.4 1471.3L2084.4 1471.2L2085.4 1471.1L2086.4 1470.9L2087.4 1470.4L2088.4 1469.4L2089.4 1468.2L2090.4 1466.7L2091.4 1465.1L2092.4 1462.8L2093.4 1460.5L2094.4 1459.0L2095.4 1458.2L2096.4 1457.9L2097.4 1457.0L2098.4 1456.6L2099.4 1457.0L2100.4 1458.2L2101.4 1459.6L2102.4 1460.2L2103.4 1461.0L2104.4 1462.3L2105.4 1463.9L2106.4 1465.5L2107.4 1465.6L2108.4 1465.6L2109.4 1466.5L2110.4 1468.2L2111.4 1470.0L2112.4 1470.9L2113.4 1471.8L2114.4 1472.8L2115.4 1474.1L2116.4 1475.2L2117.4 1476.3L2118.4 1477.1L2119.4 1477.3L2120.4 1476.6L2121.4 1475.6L2122.4 1474.8L2123.4 1473.7L2124.4 1472.4L2125.4 1471.0L2126.4 1469.6L2127.4 1468.5L2128.4 1467.5L2129.4 1466.2L2130.4 1464.6L2131.4 1463.2L2132.4 1463.2L2133.4 1463.2L2134.4 1462.7L2135.4 1461.7L2136.4 1460.7L2137.4 1460.3L2138.4 1459.8L2139.4 1459.5L2140.4 1459.3L2141.4 1459.1L2142.4 1459.0L2143.4 1458.8L2144.4 1458.3L2145.4 1457.6L2146.4 1456.9L2147.4 1456.6L2148.4 1456.2L2149.4 1455.9L2150.4 1455.6L2151.4 1455.3L2152.4 1454.8L2153.4 1454.3L2154.4 1453.5L2155.4 1452.4L2156.4 1451.2L2157.4 1451.6L2158.4 1452.0L2159.4 1452.2L2160.4 1452.1L2161.4 1452.0L2162.4 1452.1L2163.4 1452.3L2164.4 1452.5L2165.4 1452.7L2166.4 1453.0L2167.4 1452.6L2168.4 1452.2L2169.4 1452.0L2170.4 1452.0L2171.4 1451.9L2172.4 1451.8L2173.4 1451.7L2174.4 1452.0L2175.4 1452.6L2176.4 1453.2L2177.4 1453.8L2178.4 1454.4L2179.4 1455.0L2180.4 1455.6L2181.3 1456.2"/>
<path stroke="#FF0000" d="M132.0 1320.1L133.0 1320.4L134.0 1320.8L135.0 1319.5L136.0 1317.8L137.0 1317.2L138.0 1317.3L139.0 1317.1L140.0 1316.5L141.0 1316.4L142.0 1318.6L143.0 1320.8L144.0 1320.3L145.0 1319.8L146.0 1319.7L147.0 1319.8L148.0 1319.3L149.0 1318.4L150.0 1317.9L151.0 1317.8L152.0 1317.5L153.0 1316.2L154.0 1315.0L155.0 1316.4L156.0 1317.8L157.0 1316.7L158.0 1315.0L159.0 1314.4L160.0 1314.5L161.0 1314.5L162.0 1314.5L163.0 1314.4L164.0 1314.1L165.0 1313.7L166.0 1314.4L167.0 1315.0L168.0 1314.6L169.0 1313.9L170.0 1313.6L171.0 1313.5L172.0 1313.4L173.0 1313.2L174.0 1313.1L175.0 1313.8L176.0 1314.4L177.0 1313.3L178.0 1312.1L179.0 1312.0L180.0 1312.0L181.0 1312.2L182.0 1312.3L183.0 1311.9L184.0 1310.8L185.0 1309.9L186.0 1310.3L187.0 1310.8L188.0 1311.2L189.0 1311.5L190.0 1311.7L191.0 1311.9L192.0 1311.6L193.0 1310.9L194.0 1310.3L195.0 1309.8L196.0 1309.5L197.0 1310.4L198.0 1311.4L199.0 1310.4L200.0 1309.4L201.0 1309.2L202.0 1309.2L203.0 1309.2L204.0 1309.1L205.0 1309.0L206.0 1308.7L207.0 1308.4L208.0 1308.0L209.0 1307.7L210.0 1308.0L211.0 1308.4L212.0 1307.7L213.0 1306.8L214.0 1306.5L215.0 1306.7L216.0 1306.8L217.0 1306.7L218.0 1306.6L219.0 1306.2L220.0 1305.8L221.0 1306.1L222.0 1306.5L223.0 1306.5L224.0 1306.4L225.0 1306.3L226.0 1306.1L227.0 1305.9L228.0 1305.7L229.0 1305.5L230.0 1305.7L231.0 1305.9L232.0 1306.4L233.0 1306.8L234.0 1306.5L235.0 1306.1L236.0 1304.5L237.0 1302.3L238.0 1301.8L239.0 1303.8L240.0 1305.1L241.0 1303.5L242.0 1301.8L243.0 1301.7L244.0 1301.6L245.0 1302.3L246.0 1303.1L247.0 1302.9L248.0 1302.0L249.0 1302.0L250.0 1303.4L251.0 1304.3L252.0 1303.7L253.0 1303.2L254.0 1302.3L255.0 1301.4L256.0 1300.8L257.0 1300.3L258.0 1300.6L259.0 1301.4L260.0 1302.1L261.0 1302.4L262.0 1302.5L263.0 1301.8L264.0 1301.1L265.0 1301.9L266.0 1302.7L267.0 1302.2L268.0 1301.4L269.0 1301.1L270.0 1301.1L271.0 1300.9L272.0 1300.2L273.0 1299.7L274.0 1300.0L275.0 1300.2L276.0 1299.8L277.0 1299.4L278.0 1298.6L279.0 1297.6L280.0 1298.5L281.0 1300.6L282.0 1301.3L283.0 1299.9L284.0 1298.8L285.0 1298.8L286.0 1298.8L287.0 1299.4L288.0 1299.9L289.0 1299.4L290.0 1298.7L291.0 1298.4L292.0 1298.4L293.0 1298.4L294.0 1298.4L295.0 1298.3L296.0 1297.4L297.0 1296.5L298.0 1297.8L299.0 1299.0L300.0 1298.8L301.0 1298.1L302.0 1297.5L303.0 1296.9L304.0 1296.9L305.0 1297.6L306.0 1298.1L307.0 1297.7L308.0 1297.3L309.0 1296.6L310.0 1295.9L311.0 1296.1L312.0 1296.6L313.0 1296.7L314.0 1296.6L315.0 1296.5L316.0 1296.6L317.0 1296.7L318.0 1296.6L319.0 1296.6L320.0 1296.7L321.0 1296.8L322.0 1295.9L323.0 1294.9L324.0 1294.8L325.0 1295.3L326.0 1295.4L327.0 1294.9L328.0 1294.6L329.0 1295.2L330.0 1295.9L331.0 1294.9L332.0 1293.9L333.0 1293.3L334.0 1292.8L335.0 1293.0L336.0 1293.8L337.0 1294.9L338.0 1296.3L339.0 1297.2L340.0 1296.4L341.0 1295.7L342.0 1295.0L343.0 1294.4L344.0 1295.2L345.0 1296.3L346.0 1295.8L347.0 1294.4L348.0 1293.5L349.0 1293.3L350.0 1293.3L351.0 1293.7L352.0 1294.1L353.0 1293.7L354.0 1293.3L355.0 1292.9L356.0 1292.6L357.0 1292.3L358.0 1292.0L359.0 1291.8L360.0 1291.8L361.0 1292.0L362.0 1292.4L363.0 1292.9L364.0 1291.6L365.0 1290.3L366.0 1290.2L367.0 1290.4L368.0 1291.0L369.0 1291.9L370.0 1292.7L371.0 1293.2L372.0 1293.1L373.0 1290.9L374.0 1288.6L375.0 1289.7L376.0 1290.8L377.0 1291.5L378.0 1292.1L379.0 1291.7L380.0 1290.8L381.0 1290.2L382.0 1290.0L383.0 1290.1L384.0 1291.1L385.0 1292.0L386.0 1291.2L387.0 1290.3L388.0 1290.2L389.0 1290.1L390.0 1290.2L391.0 1290.4L392.0 1290.4L393.0 1290.1L394.0 1289.7L395.0 1289.4L396.0 1289.0L397.0 1290.9L398.0 1292.8L399.0 1293.4L400.0 1293.8L401.0 1293.6L402.0 1293.0L403.0 1292.6L404.0 1292.6L405.0 1292.6L406.0 1293.1L407.0 1293.6L408.0 1293.4L409.0 1293.2L410.0 1292.6L411.0 1292.0L412.0 1291.9L413.0 1292.3L414.0 1292.9L415.0 1293.9L416.0 1294.6L417.0 1294.3L418.0 1294.0L419.0 1293.5L420.0 1293.1L421.0 1293.1L422.0 1293.3L423.0 1294.1L424.0 1295.5L425.0 1295.8L426.0 1294.7L427.0 1294.1L428.0 1295.5L429.0 1297.0L430.0 1296.8L431.0 1296.6L432.0 1296.1L433.0 1295.5L434.0 1295.5L435.0 1296.0L436.0 1296.4L437.0 1296.8L438.0 1297.1L439.0 1297.3L440.0 1297.6L441.0 1297.7L442.0 1297.8L443.0 1298.4L444.0 1299.1L445.0 1299.3L446.0 1299.2L447.0 1298.9L448.0 1298.3L449.0 1298.0L450.0 1298.3L451.0 1298.6L452.0 1298.4L453.0 1298.2L454.0 1298.4L455.0 1298.8L456.0 1299.2L457.0 1299.6L458.0 1299.5L459.0 1298.4L460.0 1297.9L461.0 1299.3L462.0 1300.7L463.0 1300.7L464.0 1300.8L465.0 1300.9L466.0 1301.0L467.0 1300.8L468.0 1300.4L469.0 1300.4L470.0 1301.0L471.0 1301.4L472.0 1301.5L473.0 1301.6L474.0 1302.1L475.0 1302.7L476.0 1302.0L477.0 1301.0L478.0 1301.3L479.0 1302.6L480.0 1303.5L481.0 1304.1L482.0 1304.5L483.0 1304.0L484.0 1303.6L485.0 1303.7L486.0 1303.9L487.0 1304.8L488.0 1305.9L489.0 1307.0L490.0 1308.2L491.0 1308.5L492.0 1307.8L493.0 1307.2L494.0 1307.4L495.0 1307.7L496.0 1307.6L497.0 1307.6L498.0 1308.0L499.0 1308.6L500.0 1309.0L501.0 1309.2L502.0 1309.1L503.0 1308.6L504.0 1308.4L505.0 1309.3L506.0 1310.2L507.0 1310.8L508.0 1311.4L509.0 1311.1L510.0 1310.7L511.0 1311.0L512.0 1311.9L513.0 1312.8L514.0 1313.7L515.0 1314.4L516.0 1314.7L517.0 1314.9L518.0 1314.9L519.0 1314.8L520.0 1316.0L521.0 1317.4L522.0 1318.0L523.0 1317.9L524.0 1317.8L525.0 1317.6L526.0 1317.4L527.0 1317.0L528.0 1316.5L529.0 1317.8L530.0 1319.1L531.0 1319.8L532.0 1320.5L533.0 1320.9L534.0 1321.0L535.0 1321.4L536.0 1322.0L537.0 1322.7L538.0 1323.9L539.0 1325.1L540.0 1325.0L541.0 1324.9L542.0 1325.4L543.0 1326.0L544.0 1325.6L545.0 1324.6L546.0 1324.4L547.0 1325.4L548.0 1326.5L549.0 1327.4L550.0 1328.4L551.0 1327.7L552.0 1326.9L553.0 1328.2L554.0 1329.9L555.0 1329.8L556.0 1328.5L557.0 1328.0L558.0 1328.6L559.0 1329.4L560.0 1330.8L561.0 1332.2L562.0 1330.6L563.0 1329.1L564.0 1330.2L565.0 1331.9L566.0 1332.2L567.0 1331.4L568.0 1331.1L569.0 1331.4L570.0 1331.8L571.0 1332.7L572.0 1333.5L573.0 1333.7L574.0 1333.9L575.0 1334.3L576.0 1334.9L577.0 1335.0L578.0 1334.8L579.0 1334.8L580.0 1334.9L581.0 1334.9L582.0 1334.6L583.0 1334.3L584.0 1335.2L585.0 1336.1L586.0 1335.3L587.0 1334.0L588.0 1334.5L589.0 1336.2L590.0 1337.2L591.0 1337.1L592.0 1337.2L593.0 1337.9L594.0 1338.6L595.0 1338.7L596.0 1338.8L597.0 1337.8L598.0 1336.5L599.0 1336.6L600.0 1337.7L601.0 1338.2L602.0 1337.6L603.0 1337.2L604.0 1337.4L605.0 1337.7L606.0 1338.5L607.0 1339.2L608.0 1339.4L609.0 1339.3L610.0 1339.4L611.0 1339.6L612.0 1339.6L613.0 1339.5L614.0 1339.5L615.0 1339.8L616.0 1340.1L617.0 1339.6L618.0 1339.2L619.0 1339.5L620.0 1340.0L621.0 1340.7L622.0 1341.6L623.0 1341.9L624.0 1341.4L625.0 1341.0L626.0 1341.6L627.0 1342.3L628.0 1343.3L629.0 1344.4L630.0 1344.5L631.0 1344.5L632.0 1344.5L633.0 1344.5L634.0 1344.8L635.0 1345.8L636.0 1346.7L637.0 1347.5L638.0 1348.4L639.0 1347.6L640.0 1346.8L641.0 1346.6L642.0 1346.7L643.0 1347.4L644.0 1348.4L645.0 1349.0L646.0 1348.7L647.0 1348.6L648.0 1349.1L649.0 1349.5L650.0 1349.6L651.0 1349.6L652.0 1349.7L653.0 1349.7L654.0 1350.0L655.0 1350.6L656.0 1351.1L657.0 1351.4L658.0 1351.5L659.0 1351.0L660.0 1350.5L661.0 1351.7L662.0 1352.8L663.0 1353.3L664.0 1353.6L665.0 1353.2L666.0 1352.6L667.0 1352.2L668.0 1352.5L669.0 1352.8L670.0 1353.4L671.0 1354.1L672.0 1352.7L673.0 1351.3L674.0 1351.0L675.0 1351.1L676.0 1351.3L677.0 1351.6L678.0 1351.8L679.0 1352.0L680.0 1352.1L681.0 1352.4L682.0 1352.6L683.0 1352.3L684.0 1352.1L685.0 1351.1L686.0 1350.0L687.0 1350.3L688.0 1351.7L689.0 1352.5L690.0 1352.4L691.0 1352.2L692.0 1351.0L693.0 1349.8L694.0 1350.4L695.0 1351.0L696.0 1350.6L697.0 1349.8L698.0 1349.5L699.0 1349.5L700.0 1349.4L701.0 1349.1L702.0 1349.1L703.0 1350.1L704.0 1351.1L705.0 1349.7L706.0 1348.3L707.0 1348.3L708.0 1348.6L709.0 1348.8L710.0 1348.9L711.0 1348.7L712.0 1347.8L713.0 1347.2L714.0 1347.3L715.0 1347.5L716.0 1347.5L717.0 1347.4L718.0 1348.0L719.0 1348.8L720.0 1348.1L721.0 1346.5L722.0 1345.7L723.0 1346.3L724.0 1346.7L725.0 1346.7L726.0 1346.6L727.0 1346.3L728.0 1345.9L729.0 1346.4L730.0 1347.0L731.0 1346.8L732.0 1346.0L733.0 1345.4L734.0 1345.0L735.0 1344.8L736.0 1345.3L737.0 1345.8L738.0 1345.9L739.0 1345.9L740.0 1345.0L741.0 1343.8L742.0 1343.7L743.0 1344.4L744.0 1344.8L745.0 1344.6L746.0 1344.3L747.0 1343.7L748.0 1343.2L749.0 1342.7L750.0 1342.1L751.0 1342.6L752.0 1343.3L753.0 1343.4L754.0 1343.1L755.0 1342.6L756.0 1341.6L757.0 1340.9L758.0 1340.9L759.0 1341.0L760.0 1342.0L761.0 1342.9L762.0 1342.0L763.0 1340.7L764.0 1339.6L765.0 1338.7L766.0 1338.5L767.0 1339.2L768.0 1339.8L769.0 1339.9L770.0 1339.9L771.0 1340.1L772.0 1340.2L773.0 1339.6L774.0 1338.9L775.0 1339.2L776.0 1340.3L777.0 1340.3L778.0 1338.9L779.0 1337.8L780.0 1338.0L781.0 1338.2L782.0 1338.5L783.0 1338.8L784.0 1338.3L785.0 1337.6L786.0 1336.4L787.0 1335.0L788.0 1334.7L789.0 1336.1L790.0 1337.1L791.0 1336.7L792.0 1336.3L793.0 1335.7L794.0 1335.0L795.0 1335.5L796.0 1336.2L797.0 1336.3L798.0 1336.1L799.0 1335.6L800.0 1334.6L801.0 1333.7L802.0 1333.0L803.0 1332.4L804.0 1332.0L805.0 1331.7L806.0 1332.1L807.0 1332.7L808.0 1332.8L809.0 1332.4L810.0 1332.2L811.0 1332.2L812.0 1332.0L813.0 1330.5L814.0 1329.1L815.0 1330.2L816.0 1331.4L817.0 1331.0L818.0 1330.2L819.0 1330.0L820.0 1330.3L821.0 1330.9L822.0 1332.0L823.0 1332.7L824.0 1331.4L825.0 1330.1L826.0 1330.5L827.0 1330.8L828.0 1330.5L829.0 1330.1L830.0 1329.9L831.0 1329.9L832.0 1329.8L833.0 1329.3L834.0 1328.9L835.0 1328.6L836.0 1328.4L837.0 1328.8L838.0 1329.3L839.0 1328.3L840.0 1327.0L841.0 1326.6L842.0 1326.8L843.0 1327.1L844.0 1327.5L845.0 1327.8L846.0 1327.5L847.0 1327.2L848.0 1328.0L849.0 1328.8L850.0 1328.0L851.0 1326.9L852.0 1326.3L853.0 1326.1L854.0 1326.1L855.0 1326.1L856.0 1326.0L857.0 1324.9L858.0 1323.9L859.0 1325.3L860.0 1326.6L861.0 1326.1L862.0 1325.1L863.0 1324.9L864.0 1325.2L865.0 1325.1L866.0 1324.2L867.0 1323.5L868.0 1323.1L869.0 1322.7L870.0 1323.2L871.0 1323.8L872.0 1323.7L873.0 1323.5L874.0 1323.6L875.0 1323.8L876.0 1323.7L877.0 1323.0L878.0 1322.8L879.0 1324.2L880.0 1325.5L881.0 1324.2L882.0 1322.9L883.0 1322.1L884.0 1321.3L885.0 1321.3L886.0 1321.7L887.0 1322.2L888.0 1322.8L889.0 1323.2L890.0 1322.5L891.0 1321.8L892.0 1321.2L893.0 1320.6L894.0 1320.6L895.0 1320.8L896.0 1321.3L897.0 1322.0L898.0 1322.7L899.0 1323.2L900.0 1323.5L901.0 1322.7L902.0 1322.0L903.0 1323.4L904.0 1325.0L905.0 1324.7L906.0 1324.1L907.0 1324.9L908.0 1326.7L909.0 1327.5L910.0 1326.7L911.0 1326.0L912.0 1325.7L913.0 1325.4L914.0 1326.0L915.0 1326.5L916.0 1326.7L917.0 1326.7L918.0 1327.0L919.0 1327.3L920.0 1327.5L921.0 1327.5L922.0 1327.4L923.0 1327.0L924.0 1326.6L925.0 1325.6L926.0 1324.6L927.0 1324.7L928.0 1325.0L929.0 1324.8L930.0 1324.3L931.0 1324.1L932.0 1324.0L933.0 1323.9L934.0 1323.4L935.0 1322.8L936.0 1322.4L937.0 1321.9L938.0 1322.8L939.0 1324.0L940.0 1323.2L941.0 1321.1L942.0 1319.4L943.0 1318.1L944.0 1317.1L945.0 1317.0L946.0 1316.9L947.0 1316.8L948.0 1316.7L949.0 1316.2L950.0 1315.6L951.0 1315.0L952.0 1314.6L953.0 1314.6L954.0 1314.9L955.0 1315.2L956.0 1315.3L957.0 1315.4L958.0 1315.3L959.0 1315.3L960.0 1315.6L961.0 1315.8L962.0 1316.0L963.0 1316.2L964.0 1316.5L965.0 1316.8L966.0 1317.1L967.0 1317.5L968.0 1317.8L969.0 1318.2L970.0 1318.5L971.0 1318.9L972.0 1319.3L973.0 1319.8L974.0 1320.2L975.0 1320.7L976.0 1321.4L977.0 1322.2L978.0 1323.2L979.0 1324.2L980.0 1325.4L981.0 1326.7L982.0 1328.1L983.0 1329.5L984.0 1331.0L985.0 1332.6L986.0 1334.5L987.0 1336.7L988.0 1339.1L989.0 1341.9L990.0 1344.7L991.0 1347.8L992.0 1350.9L993.0 1354.1L994.0 1357.9L995.0 1362.6L996.0 1367.8L997.0 1373.4L998.0 1378.9L999.0 1384.3L1000.0 1389.1L1001.0 1393.1L1002.0 1396.2L1003.0 1397.9L1004.0 1398.1L1005.0 1396.9L1006.0 1394.7L1007.0 1391.6L1008.0 1387.8L1009.0 1383.5L1010.0 1379.0L1011.0 1374.3L1012.0 1369.9L1013.0 1365.7L1014.0 1362.1L1015.0 1359.2L1016.0 1357.3L1017.0 1356.5L1018.0 1356.7L1019.0 1357.2L1020.0 1358.1L1021.0 1359.2L1022.0 1360.6L1023.0 1362.2L1024.0 1363.8L1025.0 1365.6L1026.0 1367.3L1027.0 1369.0L1028.0 1370.6L1029.0 1372.0L1030.0 1373.3L1031.0 1374.3L1032.0 1375.0L1033.0 1375.3L1034.0 1375.1L1035.0 1374.4L1036.0 1373.2L1037.0 1371.5L1038.0 1369.6L1039.0 1367.3L1040.0 1364.9L1041.0 1362.5L1042.0 1360.0L1043.0 1357.6L1044.0 1355.4L1045.0 1353.5L1046.0 1351.9L1047.0 1350.8L1048.0 1349.9L1049.0 1349.0L1050.0 1348.3L1051.0 1347.6L1052.0 1346.9L1053.0 1346.3L1054.0 1345.6L1055.0 1345.0L1056.0 1344.3L1057.0 1343.5L1058.0 1342.6L1059.0 1341.6L1060.0 1340.4L1061.0 1339.0L1062.0 1337.7L1063.0 1336.4L1064.0 1335.1L1065.0 1334.0L1066.0 1333.2L1067.0 1332.6L1068.0 1332.3L1069.0 1332.3L1070.0 1332.3L1071.0 1332.3L1072.0 1332.3L1073.0 1332.3L1074.0 1332.3L1075.0 1332.3L1076.0 1332.3L1077.0 1332.3L1078.0 1332.3L1079.0 1332.3L1080.0 1332.3L1081.0 1332.3L1082.0 1332.3L1083.0 1332.3L1084.0 1332.3L1085.0 1332.3L1086.0 1332.3L1087.0 1332.3L1088.0 1332.3L1089.0 1332.3L1090.0 1332.3L1091.0 1332.3L1092.0 1332.3L1093.0 1332.3L1094.0 1332.3L1095.0 1332.3L1096.0 1332.1L1097.0 1331.1L1098.0 1329.7L1099.0 1327.8L1100.0 1325.6L1101.0 1323.2L1102.0 1320.8L1103.0 1318.5L1104.0 1316.4L1105.0 1314.7L1106.0 1313.4L1107.0 1312.4L1108.0 1311.3L1109.0 1310.4L1110.0 1309.4L1111.0 1308.6L1112.0 1307.8L1113.0 1307.1L1114.0 1306.5L1115.0 1306.0L1116.0 1305.6L1117.0 1305.3L1118.0 1305.1L1119.0 1304.9L1120.0 1304.7L1121.0 1304.5L1122.0 1304.3L1123.0 1304.1L1124.0 1303.9L1125.0 1303.8L1126.0 1303.6L1127.0 1303.5L1128.0 1303.4L1129.0 1303.2L1130.0 1303.1L1131.0 1303.0L1132.0 1302.9L1133.0 1302.9L1134.0 1302.8L1135.0 1302.8L1136.0 1302.7L1137.0 1302.7L1138.0 1302.7L1138.2 1302.7"/>
<path stroke="#FF0000" d="M1176.4 1291.0L1177.4 1291.0L1178.4 1291.0L1179.4 1291.0L1180.4 1291.1L1181.4 1291.1L1182.4 1291.2L1183.4 1291.3L1184.4 1291.3L1185.4 1291.4L1186.4 1291.5L1187.4 1291.6L1188.4 1291.7L1189.4 1291.8L1190.4 1292.0L1191.4 1292.1L1192.4 1292.2L1193.4 1292.4L1194.4 1292.5L1195.4 1292.7L1196.4 1292.9L1197.4 1293.0L1198.4 1293.2L1199.4 1293.4L1200.4 1293.6L1201.4 1293.8L1202.4 1294.1L1203.4 1294.5L1204.4 1294.9L1205.4 1295.4L1206.4 1295.9L1207.4 1296.5L1208.4 1297.1L1209.4 1297.7L1210.4 1298.3L1211.4 1298.9L1212.4 1299.5L1213.4 1300.1L1214.4 1300.7L1215.4 1301.2L1216.4 1301.8L1217.4 1302.4L1218.4 1302.9L1219.4 1303.5L1220.4 1304.1L1221.4 1304.8L1222.4 1305.4L1223.4 1306.1L1224.4 1306.8L1225.4 1307.6L1226.4 1308.4L1227.4 1309.2L1228.4 1310.1L1229.4 1311.1L1230.4 1312.2L1231.4 1313.4L1232.4 1314.8L1233.4 1316.2L1234.4 1317.7L1235.4 1319.3L1236.4 1321.0L1237.4 1322.7L1238.4 1324.4L1239.4 1326.2L1240.4 1328.0L1241.4 1329.8L1242.4 1331.6L1243.4 1333.3L1244.4 1335.0L1245.4 1336.7L1246.4 1338.4L1247.4 1340.0L1248.4 1341.8L1249.4 1343.6L1250.4 1345.5L1251.4 1347.5L1252.4 1349.4L1253.4 1351.4L1254.4 1353.3L1255.4 1355.2L1256.4 1357.0L1257.4 1358.8L1258.4 1360.5L1259.4 1362.1L1260.4 1363.5L1261.4 1364.8L1262.4 1365.9L1263.4 1366.9L1264.4 1367.6L1265.4 1368.3L1266.4 1368.9L1267.4 1369.5L1268.4 1370.0L1269.4 1370.5L1270.4 1371.0L1271.4 1371.5L1272.4 1371.9L1273.4 1372.3L1274.4 1372.7L1275.4 1373.1L1276.4 1373.4L1277.4 1373.8L1278.4 1374.1L1279.4 1374.5L1280.4 1374.8L1281.4 1375.2L1282.4 1375.5L1283.4 1375.9L1284.4 1376.3L1285.4 1376.6L1286.4 1377.1L1287.4 1377.5L1288.4 1377.9L1289.4 1378.3L1290.4 1378.8L1291.4 1379.2L1292.4 1379.7L1293.4 1380.1L1294.4 1380.6L1295.4 1381.0L1296.4 1381.4L1297.4 1381.9L1298.4 1382.3L1299.4 1382.7L1300.4 1383.1L1301.4 1383.5L1302.4 1383.9L1303.4 1384.2L1304.4 1384.6L1305.4 1384.9L1306.4 1385.2L1307.4 1385.5L1308.4 1385.7L1309.4 1385.9L1310.4 1386.1L1311.4 1386.3L1312.4 1386.4L1313.4 1386.4L1314.4 1386.5L1315.4 1386.5L1316.4 1386.3L1317.4 1385.9L1318.4 1385.4L1319.4 1384.7L1320.4 1383.9L1321.4 1382.9L1322.4 1381.9L1323.4 1380.8L1324.4 1379.5L1325.4 1378.3L1326.4 1377.0L1327.4 1375.6L1328.4 1374.3L1329.4 1373.0L1330.4 1371.6L1331.4 1370.4L1332.4 1369.2L1333.4 1368.0L1334.4 1366.7L1335.4 1365.2L1336.4 1363.7L1337.4 1362.1L1338.4 1360.4L1339.4 1358.8L1340.4 1357.1L1341.4 1355.6L1342.4 1354.1L1343.4 1352.6L1344.4 1351.4L1345.4 1350.3L1346.4 1349.3L1347.4 1348.6L1348.4 1348.2L1349.4 1347.8L1350.4 1347.4L1351.4 1347.1L1352.4 1346.8L1353.4 1346.5L1354.4 1346.2L1355.4 1346.0L1356.4 1345.9L1357.4 1345.8L1358.4 1345.8L1359.4 1346.2L1360.4 1347.0L1361.4 1348.2L1362.4 1349.6L1363.4 1351.1L1364.4 1352.9L1365.4 1355.4L1366.4 1358.4L1367.4 1361.9L1368.4 1365.9L1369.4 1370.3L1370.4 1375.0L1371.4 1380.1L1372.4 1385.4L1373.4 1391.0L1374.4 1396.7L1375.4 1402.6L1376.4 1408.8L1377.4 1417.3L1378.4 1428.0L1379.4 1439.7L1380.4 1451.2L1381.4 1461.4L1382.4 1469.0L1383.4 1472.8L1384.4 1472.4L1385.4 1469.7L1386.4 1465.0L1387.4 1458.9L1388.4 1451.5L1389.4 1443.4L1390.4 1434.9L1391.4 1426.2L1392.4 1417.9L1393.4 1410.3L1394.4 1403.4L1395.4 1396.1L1396.4 1388.4L1397.4 1380.6L1398.4 1372.7L1399.4 1365.0L1400.4 1357.7L1401.4 1351.0L1402.4 1345.2L1403.4 1340.5L1404.4 1336.8L1405.4 1333.5L1406.4 1330.3L1407.4 1327.1L1408.4 1324.2L1409.4 1321.5L1410.4 1319.0L1411.4 1316.9L1412.4 1315.2L1413.4 1313.9L1414.4 1313.0L1415.4 1312.7L1416.4 1312.8L1417.4 1313.2L1418.4 1313.9L1419.4 1314.7L1420.4 1315.7L1421.4 1316.8L1422.4 1318.0L1423.4 1319.2L1424.4 1320.4L1425.4 1321.6L1426.4 1322.9L1427.4 1324.3L1428.4 1325.7L1429.4 1327.3L1430.4 1329.1L1431.4 1331.0L1432.4 1333.1L1433.4 1335.3L1434.4 1337.8L1435.4 1340.6L1436.4 1343.6L1437.4 1346.9L1438.4 1351.3L1439.4 1357.1L1440.4 1364.0L1441.4 1371.8L1442.4 1380.4L1443.4 1389.5L1444.4 1398.9L1445.4 1409.9L1446.4 1425.1L1447.4 1442.9L1448.4 1461.2L1449.4 1477.9L1450.4 1491.1L1451.4 1498.7L1452.4 1499.2L1453.4 1495.1L1454.4 1487.9L1455.4 1478.3L1456.4 1467.1L1457.4 1455.3L1458.4 1443.6L1459.4 1432.8L1460.4 1423.6L1461.4 1413.7L1462.4 1402.9L1463.4 1391.6L1464.4 1380.4L1465.4 1369.7L1466.4 1360.0L1467.4 1351.8L1468.4 1345.5L1469.4 1341.7L1470.4 1340.7L1471.4 1340.7L1472.4 1340.7L1473.4 1340.7L1474.4 1340.7L1475.4 1340.7L1476.4 1340.7L1477.4 1340.7L1478.4 1340.8L1479.4 1341.6L1480.4 1343.0L1481.4 1344.7L1482.4 1346.7L1483.4 1348.7L1484.4 1350.7L1485.4 1352.4L1486.4 1353.8L1487.4 1354.6L1488.4 1354.7L1489.4 1354.4L1490.4 1354.0L1491.4 1353.3L1492.4 1352.5L1493.4 1351.6L1494.4 1350.5L1495.4 1349.5L1496.4 1348.4L1497.4 1347.3L1498.4 1346.3L1499.4 1345.4L1500.4 1344.7L1501.4 1344.1L1502.4 1343.4L1503.4 1342.7L1504.4 1342.1L1505.4 1341.4L1506.4 1340.7L1507.4 1340.1L1508.4 1339.5L1509.4 1338.9L1510.4 1338.4L1511.4 1337.9L1512.4 1337.6L1513.4 1337.3L1514.4 1337.0L1515.4 1336.9L1516.4 1336.9L1517.4 1337.3L1518.4 1337.9L1519.4 1338.8L1520.4 1340.0L1521.4 1341.3L1522.4 1342.7L1523.4 1344.2L1524.4 1345.7L1525.4 1347.1L1526.4 1348.5L1527.4 1349.7L1528.4 1350.7L1529.4 1351.5L1530.4 1352.0L1531.4 1352.1L1532.4 1351.9L1533.4 1351.6L1534.4 1351.0L1535.4 1350.3L1536.4 1349.5L1537.4 1348.6L1538.4 1347.7L1539.4 1346.7L1540.4 1345.8L1541.4 1344.9L1542.4 1344.2L1543.4 1343.5L1544.4 1343.0L1545.4 1342.5L1546.4 1342.0L1547.4 1341.5L1548.4 1341.0L1549.4 1340.6L1550.4 1340.1L1551.4 1339.7L1552.4 1339.3L1553.4 1339.0L1554.4 1338.7L1555.4 1338.5L1556.4 1338.3L1557.4 1338.2L1558.4 1338.3L1559.4 1339.0L1560.4 1340.3L1561.4 1342.0L1562.4 1343.9L1563.4 1346.0L1564.4 1347.9L1565.4 1349.7L1566.4 1351.1L1567.4 1351.9L1568.4 1352.1L1569.4 1351.5L1570.4 1350.4L1571.4 1348.8L1572.4 1346.9L1573.4 1344.8L1574.4 1342.7L1575.4 1340.6L1576.4 1338.7L1577.4 1337.2L1578.4 1336.1L1579.4 1335.6L1580.4 1335.6L1581.4 1335.6L1582.4 1335.6L1583.4 1335.6L1584.4 1335.6L1585.4 1335.6L1586.4 1335.6L1587.4 1335.6L1588.4 1335.6L1589.4 1335.6L1590.4 1335.6L1591.4 1335.6L1592.4 1335.6L1593.4 1336.0L1594.4 1336.9L1595.4 1338.2L1596.4 1340.0L1597.4 1342.0L1598.4 1344.2L1599.4 1346.5L1600.4 1348.8L1601.4 1351.1L1602.4 1353.2L1603.4 1355.3L1604.4 1357.7L1605.4 1360.4L1606.4 1363.3L1607.4 1366.3L1608.4 1369.4L1609.4 1372.6L1610.4 1375.7L1611.4 1378.8L1612.4 1381.8L1613.4 1384.6L1614.4 1387.2L1615.4 1389.5L1616.4 1391.6L1617.4 1393.2L1618.4 1394.4L1619.4 1395.2L1620.4 1395.4L1621.4 1395.3L1622.4 1395.0L1623.4 1394.5L1624.4 1393.9L1625.4 1393.1L1626.4 1392.3L1627.4 1391.4L1628.4 1390.4L1629.4 1389.5L1630.4 1388.5L1631.4 1387.6L1632.4 1386.7L1633.4 1385.9L1634.4 1385.2L1635.4 1384.6L1636.4 1384.2L1637.4 1384.0L1638.4 1384.0L1639.4 1385.5L1640.4 1388.6L1641.4 1392.9L1642.4 1397.7L1643.4 1402.9L1644.4 1411.6L1645.4 1423.2L1646.4 1434.9L1647.4 1444.0L1648.4 1447.8L1649.4 1449.3L1650.4 1450.8L1651.4 1452.1L1652.4 1453.3L1653.4 1454.5L1654.4 1455.6L1655.4 1456.5L1656.4 1457.4L1657.4 1458.3L1658.4 1459.0L1659.4 1459.7L1660.4 1460.3L1661.4 1460.8L1662.4 1461.3L1663.4 1461.7L1664.4 1462.0L1665.4 1462.3L1666.4 1462.5L1667.4 1462.6L1668.4 1462.7L1669.4 1462.8L1670.4 1462.8L1671.4 1462.7L1672.4 1462.4L1673.4 1462.1L1674.4 1461.7L1675.4 1461.1L1676.4 1460.5L1677.4 1459.8L1678.4 1459.1L1679.4 1458.3L1680.4 1457.5L1681.4 1456.4L1682.4 1454.8L1683.4 1452.9L1684.4 1450.7L1685.4 1448.3L1686.4 1445.7L1687.4 1443.0L1688.4 1440.2L1689.4 1437.5L1690.4 1434.8L1691.4 1431.9L1692.4 1428.4L1693.4 1424.5L1694.4 1420.3L1695.4 1416.2L1696.4 1412.1L1697.4 1408.3L1698.4 1405.0L1699.4 1402.2L1700.4 1400.3L1701.4 1399.3L1702.4 1399.5L1703.4 1401.2L1704.4 1404.3L1705.4 1408.4L1706.4 1413.4L1707.4 1418.9L1708.4 1424.8L1709.4 1430.8L1710.4 1436.6L1711.4 1442.1L1712.4 1446.9L1713.4 1450.8L1714.4 1453.6L1715.4 1455.1L1716.4 1454.8L1717.4 1452.7L1718.4 1449.0L1719.4 1443.9L1720.4 1437.8L1721.4 1431.0L1722.4 1423.8L1723.4 1416.4L1724.4 1409.3L1725.4 1402.6L1726.4 1396.7L1727.4 1391.9L1728.4 1388.4L1729.4 1386.7L1730.4 1386.8L1731.4 1388.5L1732.4 1391.6L1733.4 1395.9L1734.4 1401.0L1735.4 1406.8L1736.4 1413.1L1737.4 1419.6L1738.4 1426.0L1739.4 1432.3L1740.4 1438.1L1741.4 1443.2L1742.4 1447.5L1743.4 1450.6L1744.4 1452.3L1745.4 1452.5L1746.4 1451.4L1747.4 1449.1L1748.4 1446.0L1749.4 1442.2L1750.4 1437.8L1751.4 1433.2L1752.4 1428.4L1753.4 1423.8L1754.4 1419.4L1755.4 1415.4L1756.4 1412.1L1757.4 1409.7L1758.4 1408.3L1759.4 1408.1L1760.4 1408.6L1761.4 1409.5L1762.4 1410.8L1763.4 1412.4L1764.4 1414.4L1765.4 1416.7L1766.4 1419.2L1767.4 1421.9L1768.4 1424.8L1769.4 1427.9L1770.4 1433.3L1771.4 1441.3L1772.4 1451.1L1773.4 1461.6L1774.4 1472.1L1775.4 1481.5L1776.4 1489.0L1777.4 1493.6L1778.4 1494.6L1779.4 1493.9L1780.4 1492.5L1781.4 1490.4L1782.4 1487.7L1783.4 1484.6L1784.4 1481.1L1785.4 1477.4L1786.4 1473.4L1787.4 1469.5L1788.4 1465.5L1789.4 1461.6L1790.4 1458.0L1791.4 1454.7L1792.4 1451.8L1793.4 1448.9L1794.4 1446.1L1795.4 1443.3L1796.4 1440.6L1797.4 1437.9L1798.4 1435.4L1799.4 1433.0L1800.4 1430.7L1801.4 1428.2L1802.4 1425.7L1803.4 1423.2L1804.4 1420.6L1805.4 1418.1L1806.4 1415.7L1807.4 1413.4L1808.4 1411.4L1809.4 1409.5L1810.4 1408.0L1811.4 1406.8L1812.4 1406.0L1813.4 1405.6L1814.4 1405.8L1815.4 1406.5L1816.4 1407.7L1817.4 1409.3L1818.4 1411.2L1819.4 1413.2L1820.4 1415.3L1821.4 1417.4L1822.4 1419.3L1823.4 1421.1L1824.4 1423.2L1825.4 1425.6L1826.4 1428.0L1827.4 1430.5L1828.4 1433.0L1829.4 1435.3L1830.4 1437.3L1831.4 1439.0L1832.4 1440.3L1833.4 1441.0L1834.4 1441.2L1835.4 1440.4L1836.4 1438.9L1837.4 1436.8L1838.4 1434.3L1839.4 1431.5L1840.4 1428.7L1841.4 1426.0L1842.4 1423.5L1843.4 1421.5L1844.4 1420.2L1845.4 1419.6L1846.4 1419.6L1847.4 1419.8L1848.4 1420.0L1849.4 1420.2L1850.4 1420.4L1851.4 1420.6L1852.4 1420.8L1853.4 1420.6L1854.4 1415.5L1855.4 1405.5L1856.4 1393.5L1857.4 1382.5L1858.4 1375.2L1859.4 1370.0L1860.4 1365.2L1861.4 1360.9L1862.4 1356.9L1863.4 1353.2L1864.4 1349.7L1865.4 1346.6L1866.4 1343.6L1867.4 1340.8L1868.4 1338.2L1869.4 1335.6L1870.4 1332.9L1871.4 1330.2L1872.4 1327.5L1873.4 1325.0L1874.4 1322.5L1875.4 1320.3L1876.4 1318.3L1877.4 1316.6L1878.4 1315.2L1879.4 1314.2L1880.4 1313.6L1881.4 1313.5L1882.4 1313.5L1883.4 1313.6L1884.4 1313.7L1885.4 1313.9L1886.4 1314.0L1887.4 1314.2L1888.4 1314.4L1889.4 1314.6L1890.4 1314.8L1891.4 1315.0L1892.4 1315.2L1893.4 1315.4L1894.4 1315.6L1895.4 1315.7L1896.4 1315.9L1897.4 1315.9L1898.4 1316.0L1899.4 1316.0L1900.4 1316.0L1901.4 1315.9L1902.4 1315.8L1903.4 1315.6L1904.4 1315.5L1905.4 1315.3L1906.4 1315.0L1907.4 1314.8L1908.4 1314.5L1909.4 1314.2L1910.4 1313.8L1911.4 1313.5L1912.4 1313.1L1913.4 1312.7L1914.4 1312.3L1915.4 1311.9L1916.4 1311.4L1917.4 1311.0L1918.4 1310.5L1919.4 1310.0L1920.4 1309.6L1921.4 1309.1L1922.4 1308.6L1923.4 1308.1L1924.4 1307.6L1925.4 1307.0L1926.4 1306.3L1927.4 1305.5L1928.4 1304.6L1929.4 1303.7L1930.4 1302.7L1931.4 1301.7L1932.4 1300.6L1933.4 1299.6L1934.4 1298.6L1935.4 1297.7L1936.4 1296.8L1937.4 1296.1L1938.4 1295.5L1939.4 1295.0L1940.4 1294.6L1941.4 1294.2L1942.4 1293.9L1943.4 1293.5L1944.4 1293.2L1945.4 1292.9L1946.4 1292.7L1947.4 1292.5L1948.4 1292.4L1949.4 1292.3L1950.4 1292.3L1951.4 1292.5L1952.4 1292.9L1953.4 1293.4L1954.4 1294.0L1955.4 1294.6L1956.4 1295.4L1957.4 1296.1L1958.4 1296.9L1959.4 1297.6L1960.4 1298.3L1961.4 1298.9L1962.4 1299.4L1963.4 1299.7L1964.4 1300.0L1965.4 1300.0L1966.4 1300.0L1967.4 1300.0L1968.4 1300.0L1969.4 1300.0L1970.4 1300.0L1971.4 1300.0L1972.4 1300.0L1973.4 1300.0L1974.4 1300.0L1975.4 1300.0L1976.4 1300.0L1977.4 1300.0L1978.4 1300.3L1979.4 1301.8L1980.4 1304.2L1981.4 1307.4L1982.4 1310.7L1983.4 1314.1L1984.4 1318.0L1985.4 1322.6L1986.4 1327.8L1987.4 1333.3L1988.4 1339.0L1989.4 1344.7L1990.4 1350.3L1991.4 1356.3L1992.4 1363.3L1993.4 1370.9L1994.4 1378.9L1995.4 1387.0L1996.4 1394.9L1997.4 1402.3L1998.4 1408.8L1999.4 1414.2L2000.4 1418.2L2001.4 1420.4L2002.4 1420.7L2003.4 1419.7L2004.4 1417.7L2005.4 1414.8L2006.4 1411.4L2007.4 1407.4L2008.4 1403.2L2009.4 1398.9L2010.4 1394.6L2011.4 1390.6L2012.4 1386.9L2013.4 1383.9L2014.4 1381.3L2015.4 1379.0L2016.4 1376.7L2017.4 1374.6L2018.4 1372.4L2019.4 1370.1L2020.4 1367.7L2021.4 1365.0L2022.4 1362.1L2023.4 1359.1L2024.4 1355.9L2025.4 1352.6L2026.4 1349.2L2027.4 1345.8L2028.4 1342.4L2029.4 1339.0L2030.4 1335.7L2031.4 1332.5L2032.4 1328.9L2033.4 1325.0L2034.4 1320.9L2035.4 1316.7L2036.4 1312.7L2037.4 1309.0L2038.4 1305.9L2039.4 1303.4L2040.4 1301.8L2041.4 1301.2L2042.4 1301.4L2043.4 1301.9L2044.4 1302.6L2045.4 1303.6L2046.4 1304.8L2047.4 1306.0L2048.4 1307.1L2049.4 1308.1L2050.4 1309.0L2051.4 1309.7L2052.4 1310.6L2053.4 1311.3L2054.4 1311.5L2055.4 1311.0L2056.4 1310.3L2057.4 1309.1L2058.4 1307.7L2059.4 1306.3L2060.4 1305.1L2061.4 1303.9L2062.4 1303.9L2063.4 1304.1L2064.4 1304.4L2065.4 1304.9L2066.4 1305.9L2067.4 1307.1L2068.4 1308.5L2069.4 1309.9L2070.4 1311.1L2071.4 1312.2L2072.4 1313.1L2073.4 1313.8L2074.4 1314.0L2075.4 1314.1L2076.4 1314.1L2077.4 1314.0L2078.4 1313.9L2079.4 1313.9L2080.4 1314.0L2081.4 1314.1L2082.4 1313.5L2083.4 1312.9L2084.4 1312.4L2085.4 1311.9L2086.4 1311.4L2087.4 1311.4L2088.4 1311.5L2089.4 1311.4L2090.4 1310.9L2091.4 1309.6L2092.4 1307.4L2093.4 1304.9L2094.4 1302.6L2095.4 1300.6L2096.4 1299.3L2097.4 1299.4L2098.4 1300.2L2099.4 1300.7L2100.4 1300.8L2101.4 1301.0L2102.4 1301.1L2103.4 1301.3L2104.4 1302.3L2105.4 1304.0L2106.4 1305.7L2107.4 1305.8L2108.4 1306.0L2109.4 1306.9L2110.4 1308.7L2111.4 1310.4L2112.4 1311.0L2113.4 1311.4L2114.4 1311.6L2115.4 1311.6L2116.4 1311.2L2117.4 1310.4L2118.4 1309.4L2119.4 1308.4L2120.4 1307.4L2121.4 1306.3L2122.4 1305.7L2123.4 1305.0L2124.4 1304.0L2125.4 1302.7L2126.4 1301.6L2127.4 1301.4L2128.4 1301.4L2129.4 1301.1L2130.4 1300.2L2131.4 1299.4L2132.4 1299.2L2133.4 1298.9L2134.4 1298.8L2135.4 1298.9L2136.4 1299.0L2137.4 1298.5L2138.4 1298.0L2139.4 1297.6L2140.4 1297.3L2141.4 1297.0L2142.4 1297.0L2143.4 1296.9L2144.4 1296.8L2145.4 1296.6L2146.4 1296.4L2147.4 1296.1L2148.4 1295.8L2149.4 1295.6L2150.4 1295.5L2151.4 1295.4L2152.4 1295.1L2153.4 1294.8L2154.4 1294.7L2155.4 1294.7L2156.4 1294.7L2157.4 1294.5L2158.4 1294.3L2159.4 1294.1L2160.4 1294.0L2161.4 1293.9L2162.4 1293.9L2163.4 1293.8L2164.4 1293.4L2165.4 1292.7L2166.4 1291.9L2167.4 1291.7L2168.4 1291.4L2169.4 1291.4L2170.4 1291.6L2171.4 1291.8L2172.4 1291.7L2173.4 1291.7L2174.4 1291.7L2175.4 1291.7L2176.4 1291.8L2177.4 1291.2L2178.4 1290.6L2179.4 1290.4L2180.4 1290.8L2181.3 1291.1"/>
<path stroke="#00FF00" d="M132.0 1018.3L133.0 1018.3L134.0 1018.3L135.0 1017.9L136.0 1017.4L137.0 1016.9L138.0 1016.4L139.0 1016.2L140.0 1016.3L141.0 1016.1L142.0 1014.9L143.0 1013.7L144.0 1013.7L145.0 1013.8L146.0 1013.6L147.0 1013.3L148.0 1013.2L149.0 1013.3L150.0 1013.3L151.0 1013.0L152.0 1012.7L153.0 1012.5L154.0 1012.4L155.0 1012.5L156.0 1012.5L157.0 1012.4L158.0 1012.3L159.0 1012.1L160.0 1011.8L161.0 1011.3L162.0 1010.6L163.0 1010.2L164.0 1010.5L165.0 1010.8L166.0 1010.2L167.0 1009.7L168.0 1010.1L169.0 1010.7L170.0 1010.5L171.0 1009.9L172.0 1009.3L173.0 1008.8L174.0 1008.4L175.0 1008.1L176.0 1007.9L177.0 1007.3L178.0 1006.7L179.0 1006.8L180.0 1007.2L181.0 1006.8L182.0 1006.1L183.0 1005.8L184.0 1006.3L185.0 1006.4L186.0 1005.2L187.0 1004.1L188.0 1004.2L189.0 1004.3L190.0 1005.1L191.0 1006.1L192.0 1006.4L193.0 1006.3L194.0 1006.1L195.0 1005.8L196.0 1005.2L197.0 1003.7L198.0 1002.1L199.0 1002.0L200.0 1002.0L201.0 1001.9L202.0 1001.7L203.0 1001.5L204.0 1001.2L205.0 1001.3L206.0 1002.0L207.0 1002.5L208.0 1002.0L209.0 1001.5L210.0 1001.6L211.0 1001.7L212.0 1001.4L213.0 1001.0L214.0 1000.6L215.0 1000.3L216.0 1000.6L217.0 1001.7L218.0 1002.5L219.0 1001.6L220.0 1000.8L221.0 999.9L222.0 999.0L223.0 999.5L224.0 1000.4L225.0 1000.1L226.0 999.1L227.0 998.4L228.0 998.4L229.0 998.6L230.0 999.2L231.0 999.7L232.0 998.6L233.0 997.4L234.0 997.2L235.0 997.2L236.0 997.1L237.0 996.9L238.0 997.1L239.0 997.8L240.0 998.3L241.0 998.2L242.0 998.1L243.0 997.1L244.0 996.1L245.0 996.3L246.0 996.8L247.0 996.0L248.0 994.2L249.0 993.3L250.0 993.5L251.0 993.8L252.0 994.2L253.0 994.6L254.0 993.6L255.0 992.6L256.0 992.4L257.0 992.3L258.0 992.1L259.0 991.7L260.0 991.5L261.0 991.4L262.0 991.2L263.0 990.7L264.0 990.2L265.0 989.1L266.0 988.0L267.0 988.0L268.0 988.2L269.0 988.0L270.0 987.6L271.0 987.5L272.0 987.8L273.0 987.9L274.0 986.6L275.0 985.3L276.0 985.5L277.0 985.7L278.0 986.4L279.0 987.1L280.0 987.1L281.0 986.6L282.0 986.6L283.0 987.4L284.0 987.8L285.0 986.6L286.0 985.3L287.0 984.0L288.0 982.7L289.0 983.7L290.0 985.2L291.0 985.6L292.0 985.1L293.0 984.7L294.0 984.4L295.0 984.0L296.0 983.5L297.0 982.9L298.0 983.4L299.0 983.8L300.0 984.1L301.0 984.4L302.0 984.4L303.0 984.2L304.0 984.0L305.0 983.8L306.0 983.7L307.0 983.9L308.0 984.0L309.0 983.7L310.0 983.5L311.0 982.9L312.0 982.3L313.0 982.3L314.0 982.8L315.0 983.2L316.0 983.2L317.0 983.3L318.0 983.8L319.0 984.4L320.0 983.4L321.0 982.5L322.0 981.8L323.0 981.2L324.0 981.5L325.0 982.4L326.0 982.8L327.0 982.4L328.0 982.0L329.0 981.3L330.0 980.6L331.0 980.1L332.0 979.7L333.0 980.4L334.0 981.5L335.0 980.9L336.0 979.3L337.0 978.4L338.0 978.6L339.0 978.9L340.0 979.1L341.0 979.3L342.0 978.4L343.0 977.6L344.0 977.5L345.0 977.6L346.0 977.7L347.0 977.8L348.0 977.5L349.0 976.9L350.0 976.2L351.0 975.5L352.0 974.9L353.0 974.9L354.0 974.9L355.0 974.9L356.0 974.9L357.0 975.1L358.0 975.4L359.0 975.0L360.0 973.8L361.0 973.0L362.0 973.9L363.0 974.8L364.0 973.5L365.0 972.2L366.0 972.6L367.0 973.4L368.0 973.8L369.0 973.9L370.0 973.7L371.0 973.1L372.0 972.4L373.0 971.4L374.0 970.5L375.0 971.1L376.0 971.6L377.0 971.3L378.0 970.9L379.0 970.3L380.0 969.8L381.0 969.2L382.0 968.7L383.0 968.2L384.0 967.9L385.0 967.7L386.0 967.6L387.0 967.6L388.0 968.4L389.0 969.4L390.0 969.3L391.0 968.4L392.0 967.9L393.0 967.9L394.0 967.8L395.0 967.4L396.0 967.0L397.0 967.4L398.0 967.8L399.0 967.6L400.0 967.4L401.0 967.2L402.0 967.1L403.0 967.2L404.0 967.6L405.0 967.9L406.0 967.7L407.0 967.5L408.0 967.8L409.0 968.2L410.0 968.2L411.0 968.2L412.0 968.1L413.0 967.9L414.0 968.0L415.0 968.6L416.0 969.2L417.0 969.3L418.0 969.4L419.0 967.9L420.0 966.5L421.0 967.2L422.0 968.5L423.0 969.1L424.0 969.3L425.0 969.4L426.0 969.5L427.0 969.8L428.0 970.7L429.0 971.5L430.0 971.2L431.0 970.8L432.0 970.7L433.0 970.6L434.0 970.6L435.0 970.7L436.0 971.0L437.0 971.9L438.0 972.4L439.0 971.5L440.0 970.7L441.0 971.5L442.0 972.3L443.0 972.5L444.0 972.5L445.0 972.7L446.0 973.0L447.0 973.3L448.0 973.5L449.0 973.6L450.0 973.4L451.0 973.2L452.0 973.4L453.0 973.5L454.0 974.1L455.0 974.7L456.0 974.9L457.0 974.7L458.0 975.0L459.0 976.1L460.0 977.0L461.0 976.6L462.0 976.2L463.0 975.7L464.0 975.2L465.0 975.7L466.0 976.6L467.0 976.8L468.0 976.6L469.0 976.6L470.0 976.9L471.0 977.3L472.0 978.0L473.0 978.7L474.0 978.5L475.0 978.4L476.0 977.8L477.0 977.0L478.0 977.2L479.0 978.0L480.0 978.3L481.0 978.0L482.0 978.0L483.0 978.8L484.0 979.6L485.0 979.2L486.0 978.9L487.0 978.4L488.0 977.9L489.0 977.3L490.0 976.6L491.0 976.8L492.0 978.2L493.0 979.5L494.0 979.6L495.0 979.8L496.0 980.2L497.0 980.5L498.0 981.9L499.0 983.6L500.0 983.9L501.0 983.4L502.0 983.3L503.0 984.1L504.0 984.6L505.0 984.2L506.0 983.7L507.0 984.9L508.0 986.0L509.0 986.1L510.0 986.0L511.0 985.9L512.0 985.8L513.0 986.1L514.0 987.0L515.0 987.9L516.0 988.3L517.0 988.7L518.0 988.6L519.0 988.4L520.0 989.5L521.0 991.0L522.0 991.4L523.0 991.0L524.0 990.7L525.0 990.3L526.0 989.9L527.0 989.8L528.0 989.7L529.0 991.4L530.0 993.2L531.0 993.8L532.0 994.1L533.0 994.3L534.0 994.5L535.0 994.5L536.0 994.1L537.0 993.8L538.0 994.0L539.0 994.3L540.0 995.3L541.0 996.2L542.0 996.2L543.0 996.0L544.0 996.2L545.0 996.6L546.0 997.1L547.0 997.6L548.0 998.1L549.0 998.5L550.0 998.9L551.0 998.3L552.0 997.6L553.0 997.9L554.0 998.3L555.0 998.7L556.0 999.1L557.0 999.2L558.0 999.0L559.0 999.0L560.0 999.9L561.0 1000.8L562.0 1000.0L563.0 999.2L564.0 999.8L565.0 1000.6L566.0 1000.8L567.0 1000.5L568.0 1000.7L569.0 1001.7L570.0 1002.3L571.0 1001.9L572.0 1001.6L573.0 1001.3L574.0 1001.1L575.0 1001.3L576.0 1001.6L577.0 1001.5L578.0 1001.2L579.0 1001.4L580.0 1002.4L581.0 1003.2L582.0 1002.9L583.0 1002.6L584.0 1002.7L585.0 1002.8L586.0 1003.1L587.0 1003.5L588.0 1003.8L589.0 1003.9L590.0 1003.8L591.0 1003.5L592.0 1003.2L593.0 1002.9L594.0 1002.7L595.0 1003.8L596.0 1004.9L597.0 1004.9L598.0 1004.7L599.0 1004.5L600.0 1004.5L601.0 1004.6L602.0 1004.9L603.0 1005.1L604.0 1004.7L605.0 1004.2L606.0 1005.1L607.0 1006.0L608.0 1005.6L609.0 1004.8L610.0 1004.6L611.0 1004.6L612.0 1004.7L613.0 1004.9L614.0 1005.1L615.0 1004.9L616.0 1004.8L617.0 1004.9L618.0 1005.1L619.0 1005.2L620.0 1005.4L621.0 1005.3L622.0 1005.0L623.0 1005.1L624.0 1005.7L625.0 1006.2L626.0 1006.1L627.0 1006.0L628.0 1007.0L629.0 1008.0L630.0 1007.5L631.0 1006.6L632.0 1006.3L633.0 1006.3L634.0 1006.3L635.0 1006.5L636.0 1006.8L637.0 1007.7L638.0 1008.5L639.0 1008.7L640.0 1008.9L641.0 1008.8L642.0 1008.5L643.0 1009.1L644.0 1010.2L645.0 1010.5L646.0 1009.7L647.0 1009.2L648.0 1009.8L649.0 1010.4L650.0 1010.9L651.0 1011.4L652.0 1011.9L653.0 1012.4L654.0 1012.5L655.0 1012.4L656.0 1012.8L657.0 1014.1L658.0 1015.2L659.0 1015.3L660.0 1015.4L661.0 1015.1L662.0 1014.9L663.0 1014.9L664.0 1015.1L665.0 1015.2L666.0 1015.2L667.0 1015.3L668.0 1015.4L669.0 1015.6L670.0 1016.0L671.0 1016.4L672.0 1016.5L673.0 1016.6L674.0 1016.6L675.0 1016.5L676.0 1016.2L677.0 1015.9L678.0 1015.6L679.0 1015.1L680.0 1014.7L681.0 1014.7L682.0 1014.7L683.0 1015.6L684.0 1016.5L685.0 1016.2L686.0 1015.5L687.0 1015.5L688.0 1015.9L689.0 1016.5L690.0 1017.4L691.0 1018.0L692.0 1017.7L693.0 1017.4L694.0 1017.3L695.0 1017.2L696.0 1017.3L697.0 1017.3L698.0 1017.5L699.0 1017.8L700.0 1018.0L701.0 1018.1L702.0 1017.9L703.0 1017.3L704.0 1016.6L705.0 1016.5L706.0 1016.4L707.0 1016.6L708.0 1016.7L709.0 1017.0L710.0 1017.4L711.0 1018.1L712.0 1019.1L713.0 1019.8L714.0 1018.9L715.0 1018.0L716.0 1018.0L717.0 1018.0L718.0 1018.3L719.0 1018.8L720.0 1018.9L721.0 1018.9L722.0 1018.6L723.0 1017.8L724.0 1017.1L725.0 1016.5L726.0 1015.9L727.0 1018.0L728.0 1020.2L729.0 1019.5L730.0 1018.1L731.0 1017.5L732.0 1017.5L733.0 1017.7L734.0 1018.5L735.0 1018.9L736.0 1017.9L737.0 1016.8L738.0 1017.1L739.0 1017.3L740.0 1016.9L741.0 1016.4L742.0 1016.8L743.0 1017.8L744.0 1018.1L745.0 1017.3L746.0 1016.7L747.0 1017.0L748.0 1017.3L749.0 1017.5L750.0 1017.8L751.0 1017.4L752.0 1016.8L753.0 1017.2L754.0 1018.3L755.0 1018.4L756.0 1017.2L757.0 1016.1L758.0 1015.3L759.0 1014.5L760.0 1015.5L761.0 1016.5L762.0 1016.6L763.0 1016.6L764.0 1016.5L765.0 1016.4L766.0 1016.0L767.0 1015.1L768.0 1014.4L769.0 1014.4L770.0 1014.3L771.0 1014.4L772.0 1014.5L773.0 1014.8L774.0 1015.1L775.0 1014.9L776.0 1014.3L777.0 1014.1L778.0 1014.6L779.0 1015.0L780.0 1014.6L781.0 1014.3L782.0 1014.1L783.0 1013.9L784.0 1013.2L785.0 1012.4L786.0 1011.7L787.0 1011.1L788.0 1011.1L789.0 1011.9L790.0 1012.6L791.0 1013.0L792.0 1013.5L793.0 1013.1L794.0 1012.7L795.0 1011.9L796.0 1010.9L797.0 1010.9L798.0 1011.4L799.0 1011.6L800.0 1011.1L801.0 1010.7L802.0 1010.7L803.0 1010.8L804.0 1009.8L805.0 1008.8L806.0 1008.5L807.0 1008.4L808.0 1008.5L809.0 1008.7L810.0 1009.0L811.0 1009.4L812.0 1009.6L813.0 1008.7L814.0 1007.8L815.0 1007.8L816.0 1007.9L817.0 1008.2L818.0 1008.6L819.0 1008.1L820.0 1007.1L821.0 1006.4L822.0 1006.3L823.0 1006.1L824.0 1005.9L825.0 1005.6L826.0 1006.3L827.0 1007.1L828.0 1006.5L829.0 1005.6L830.0 1004.9L831.0 1004.4L832.0 1004.1L833.0 1004.3L834.0 1004.6L835.0 1004.8L836.0 1005.1L837.0 1004.9L838.0 1004.8L839.0 1004.8L840.0 1004.8L841.0 1004.9L842.0 1005.1L843.0 1005.0L844.0 1004.4L845.0 1003.9L846.0 1003.4L847.0 1002.9L848.0 1002.2L849.0 1001.4L850.0 1001.9L851.0 1002.8L852.0 1003.2L853.0 1003.4L854.0 1003.4L855.0 1003.1L856.0 1003.0L857.0 1002.9L858.0 1002.9L859.0 1002.2L860.0 1001.6L861.0 1001.9L862.0 1002.4L863.0 1001.9L864.0 1000.8L865.0 1000.2L866.0 1000.3L867.0 1000.4L868.0 1000.2L869.0 1000.0L870.0 1001.2L871.0 1002.5L872.0 1002.7L873.0 1002.7L874.0 1002.7L875.0 1002.8L876.0 1003.0L877.0 1003.6L878.0 1003.8L879.0 1002.6L880.0 1001.4L881.0 1002.2L882.0 1003.0L883.0 1003.0L884.0 1002.8L885.0 1002.8L886.0 1002.8L887.0 1003.1L888.0 1003.9L889.0 1004.5L890.0 1004.1L891.0 1003.8L892.0 1003.6L893.0 1003.4L894.0 1004.2L895.0 1005.1L896.0 1005.3L897.0 1004.8L898.0 1004.7L899.0 1005.0L900.0 1005.3L901.0 1005.8L902.0 1006.4L903.0 1005.9L904.0 1005.5L905.0 1005.4L906.0 1005.4L907.0 1005.7L908.0 1006.1L909.0 1006.5L910.0 1007.1L911.0 1007.2L912.0 1005.7L913.0 1004.1L914.0 1005.5L915.0 1006.9L916.0 1006.8L917.0 1006.3L918.0 1005.9L919.0 1005.4L920.0 1005.1L921.0 1004.9L922.0 1004.6L923.0 1003.5L924.0 1002.5L925.0 1002.9L926.0 1003.4L927.0 1003.5L928.0 1003.6L929.0 1003.2L930.0 1002.5L931.0 1001.6L932.0 1000.6L933.0 999.9L934.0 1000.2L935.0 1000.5L936.0 999.8L937.0 999.0L938.0 998.7L939.0 998.5L940.0 998.3L941.0 998.1L942.0 998.2L943.0 998.7L944.0 999.0L945.0 998.8L946.0 998.7L947.0 997.8L948.0 997.0L949.0 996.8L950.0 996.8L951.0 996.4L952.0 995.9L953.0 995.5L954.0 995.4L955.0 995.3L956.0 995.4L957.0 995.4L958.0 995.4L959.0 995.4L960.0 995.4L961.0 995.6L962.0 995.9L963.0 996.2L964.0 996.6L965.0 997.1L966.0 997.6L967.0 998.2L968.0 998.8L969.0 999.5L970.0 1000.2L971.0 1000.9L972.0 1001.7L973.0 1002.4L974.0 1003.2L975.0 1004.1L976.0 1005.1L977.0 1006.3L978.0 1007.7L979.0 1009.2L980.0 1010.9L981.0 1012.7L982.0 1014.6L983.0 1016.7L984.0 1018.9L985.0 1021.2L986.0 1023.7L987.0 1026.5L988.0 1029.7L989.0 1033.4L990.0 1037.5L991.0 1042.2L992.0 1047.6L993.0 1053.7L994.0 1062.9L995.0 1075.8L996.0 1090.7L997.0 1106.0L998.0 1120.0L999.0 1134.6L1000.0 1151.1L1001.0 1167.2L1002.0 1180.6L1003.0 1188.8L1004.0 1189.4L1005.0 1180.2L1006.0 1164.6L1007.0 1146.5L1008.0 1130.0L1009.0 1113.6L1010.0 1095.8L1011.0 1081.0L1012.0 1072.8L1013.0 1067.3L1014.0 1062.3L1015.0 1057.9L1016.0 1054.2L1017.0 1051.3L1018.0 1049.2L1019.0 1047.9L1020.0 1047.6L1021.0 1047.7L1022.0 1048.0L1023.0 1048.4L1024.0 1048.8L1025.0 1049.4L1026.0 1050.0L1027.0 1050.6L1028.0 1051.2L1029.0 1051.7L1030.0 1052.2L1031.0 1052.6L1032.0 1052.9L1033.0 1053.0L1034.0 1052.8L1035.0 1051.9L1036.0 1050.4L1037.0 1048.5L1038.0 1046.3L1039.0 1044.0L1040.0 1041.7L1041.0 1039.5L1042.0 1037.7L1043.0 1036.3L1044.0 1035.5L1045.0 1035.1L1046.0 1034.8L1047.0 1034.6L1048.0 1034.4L1049.0 1034.2L1050.0 1034.0L1051.0 1033.9L1052.0 1033.7L1053.0 1033.4L1054.0 1033.1L1055.0 1032.7L1056.0 1031.8L1057.0 1030.4L1058.0 1028.6L1059.0 1026.5L1060.0 1024.1L1061.0 1021.5L1062.0 1019.0L1063.0 1016.5L1064.0 1014.2L1065.0 1012.1L1066.0 1010.5L1067.0 1009.3L1068.0 1008.6L1069.0 1008.5L1070.0 1008.4L1071.0 1008.2L1072.0 1008.2L1073.0 1008.1L1074.0 1008.0L1075.0 1008.0L1076.0 1007.9L1077.0 1007.9L1078.0 1007.8L1079.0 1007.7L1080.0 1007.7L1081.0 1007.6L1082.0 1007.5L1083.0 1007.5L1084.0 1007.3L1085.0 1007.2L1086.0 1007.1L1087.0 1006.9L1088.0 1006.7L1089.0 1006.5L1090.0 1006.3L1091.0 1006.0L1092.0 1005.7L1093.0 1005.4L1094.0 1005.1L1095.0 1004.7L1096.0 1004.1L1097.0 1003.2L1098.0 1002.0L1099.0 1000.4L1100.0 998.7L1101.0 996.7L1102.0 994.7L1103.0 992.6L1104.0 990.5L1105.0 988.4L1106.0 986.5L1107.0 984.8L1108.0 983.2L1109.0 981.9L1110.0 981.0L1111.0 980.5L1112.0 980.3L1113.0 980.1L1114.0 980.0L1115.0 979.8L1116.0 979.7L1117.0 979.6L1118.0 979.5L1119.0 979.5L1120.0 979.4L1121.0 979.3L1122.0 979.2L1123.0 979.2L1124.0 979.1L1125.0 979.0L1126.0 978.9L1127.0 978.8L1128.0 978.7L1129.0 978.6L1130.0 978.5L1131.0 978.4L1132.0 978.3L1133.0 978.2L1134.0 978.1L1135.0 978.0L1136.0 977.9L1137.0 977.8L1138.0 977.7L1138.2 977.7"/>
<path stroke="#00FF00" d="M1176.4 968.0L1177.4 968.0L1178.4 968.0L1179.4 968.0L1180.4 968.1L1181.4 968.1L1182.4 968.2L1183.4 968.2L1184.4 968.3L1185.4 968.4L1186.4 968.5L1187.4 968.6L1188.4 968.7L1189.4 968.8L1190.4 968.9L1191.4 969.0L1192.4 969.2L1193.4 969.3L1194.4 969.5L1195.4 969.6L1196.4 969.8L1197.4 969.9L1198.4 970.1L1199.4 970.3L1200.4 970.5L1201.4 970.7L1202.4 971.0L1203.4 971.4L1204.4 971.9L1205.4 972.5L1206.4 973.1L1207.4 973.8L1208.4 974.6L1209.4 975.5L1210.4 976.4L1211.4 977.3L1212.4 978.3L1213.4 979.4L1214.4 980.5L1215.4 981.6L1216.4 982.8L1217.4 983.9L1218.4 985.2L1219.4 986.4L1220.4 987.7L1221.4 989.0L1222.4 990.5L1223.4 992.2L1224.4 994.1L1225.4 996.1L1226.4 998.3L1227.4 1000.6L1228.4 1002.9L1229.4 1005.4L1230.4 1007.8L1231.4 1010.3L1232.4 1012.8L1233.4 1015.2L1234.4 1017.6L1235.4 1019.9L1236.4 1022.0L1237.4 1024.2L1238.4 1026.4L1239.4 1028.6L1240.4 1030.7L1241.4 1032.9L1242.4 1035.1L1243.4 1037.3L1244.4 1039.5L1245.4 1041.6L1246.4 1043.8L1247.4 1045.9L1248.4 1048.1L1249.4 1050.2L1250.4 1052.3L1251.4 1054.3L1252.4 1056.4L1253.4 1058.4L1254.4 1060.4L1255.4 1062.5L1256.4 1064.6L1257.4 1066.9L1258.4 1069.1L1259.4 1071.4L1260.4 1073.7L1261.4 1075.9L1262.4 1078.1L1263.4 1080.2L1264.4 1082.3L1265.4 1084.2L1266.4 1086.0L1267.4 1087.7L1268.4 1089.2L1269.4 1090.4L1270.4 1091.5L1271.4 1092.3L1272.4 1093.0L1273.4 1093.5L1274.4 1094.1L1275.4 1094.7L1276.4 1095.2L1277.4 1095.7L1278.4 1096.2L1279.4 1096.6L1280.4 1097.0L1281.4 1097.4L1282.4 1097.8L1283.4 1098.1L1284.4 1098.3L1285.4 1098.6L1286.4 1098.7L1287.4 1098.9L1288.4 1099.0L1289.4 1099.0L1290.4 1099.0L1291.4 1098.9L1292.4 1098.7L1293.4 1098.5L1294.4 1098.3L1295.4 1097.9L1296.4 1097.6L1297.4 1097.1L1298.4 1096.7L1299.4 1096.2L1300.4 1095.6L1301.4 1095.0L1302.4 1094.4L1303.4 1093.8L1304.4 1093.2L1305.4 1092.5L1306.4 1091.8L1307.4 1091.1L1308.4 1090.4L1309.4 1089.7L1310.4 1089.0L1311.4 1088.3L1312.4 1087.6L1313.4 1086.8L1314.4 1086.0L1315.4 1085.2L1316.4 1084.2L1317.4 1083.2L1318.4 1082.2L1319.4 1081.1L1320.4 1079.9L1321.4 1078.7L1322.4 1077.5L1323.4 1076.3L1324.4 1075.1L1325.4 1073.8L1326.4 1072.5L1327.4 1071.3L1328.4 1070.0L1329.4 1068.8L1330.4 1067.5L1331.4 1066.3L1332.4 1065.2L1333.4 1064.0L1334.4 1062.8L1335.4 1061.6L1336.4 1060.3L1337.4 1059.1L1338.4 1057.8L1339.4 1056.5L1340.4 1055.3L1341.4 1054.0L1342.4 1052.8L1343.4 1051.6L1344.4 1050.5L1345.4 1049.4L1346.4 1048.4L1347.4 1047.4L1348.4 1046.5L1349.4 1045.6L1350.4 1044.7L1351.4 1043.7L1352.4 1042.8L1353.4 1041.9L1354.4 1041.0L1355.4 1040.2L1356.4 1039.5L1357.4 1038.9L1358.4 1038.4L1359.4 1038.1L1360.4 1037.9L1361.4 1038.0L1362.4 1038.8L1363.4 1040.2L1364.4 1042.1L1365.4 1044.5L1366.4 1047.2L1367.4 1050.3L1368.4 1053.5L1369.4 1056.8L1370.4 1060.1L1371.4 1063.5L1372.4 1068.1L1373.4 1073.8L1374.4 1080.4L1375.4 1087.6L1376.4 1095.1L1377.4 1102.7L1378.4 1109.9L1379.4 1116.6L1380.4 1122.5L1381.4 1127.2L1382.4 1130.4L1383.4 1132.0L1384.4 1131.3L1385.4 1127.7L1386.4 1121.8L1387.4 1113.9L1388.4 1104.7L1389.4 1094.7L1390.4 1084.5L1391.4 1074.6L1392.4 1065.5L1393.4 1057.7L1394.4 1051.6L1395.4 1045.8L1396.4 1040.2L1397.4 1034.7L1398.4 1029.5L1399.4 1024.5L1400.4 1019.9L1401.4 1015.5L1402.4 1011.6L1403.4 1008.0L1404.4 1004.9L1405.4 1001.8L1406.4 998.7L1407.4 995.6L1408.4 992.7L1409.4 989.9L1410.4 987.4L1411.4 985.2L1412.4 983.4L1413.4 982.0L1414.4 981.1L1415.4 980.7L1416.4 980.8L1417.4 981.2L1418.4 981.9L1419.4 982.7L1420.4 983.7L1421.4 984.8L1422.4 986.0L1423.4 987.2L1424.4 988.3L1425.4 989.5L1426.4 991.0L1427.4 992.5L1428.4 994.2L1429.4 995.9L1430.4 997.5L1431.4 999.0L1432.4 1000.3L1433.4 1001.3L1434.4 1002.2L1435.4 1003.0L1436.4 1003.8L1437.4 1004.9L1438.4 1006.3L1439.4 1008.1L1440.4 1012.1L1441.4 1022.0L1442.4 1035.7L1443.4 1050.4L1444.4 1063.8L1445.4 1075.1L1446.4 1087.5L1447.4 1100.1L1448.4 1111.7L1449.4 1121.1L1450.4 1126.9L1451.4 1128.1L1452.4 1125.8L1453.4 1121.0L1454.4 1114.4L1455.4 1106.4L1456.4 1097.6L1457.4 1088.5L1458.4 1079.6L1459.4 1071.5L1460.4 1064.4L1461.4 1056.9L1462.4 1048.7L1463.4 1040.2L1464.4 1031.7L1465.4 1023.6L1466.4 1016.2L1467.4 1009.9L1468.4 1005.1L1469.4 1002.0L1470.4 1000.9L1471.4 1000.7L1472.4 1000.4L1473.4 1000.2L1474.4 1000.1L1475.4 999.9L1476.4 999.8L1477.4 999.8L1478.4 999.9L1479.4 1000.6L1480.4 1001.7L1481.4 1003.2L1482.4 1005.0L1483.4 1006.8L1484.4 1008.5L1485.4 1010.1L1486.4 1011.4L1487.4 1012.3L1488.4 1012.6L1489.4 1012.8L1490.4 1013.0L1491.4 1013.2L1492.4 1013.3L1493.4 1013.5L1494.4 1013.6L1495.4 1013.7L1496.4 1013.8L1497.4 1013.8L1498.4 1013.8L1499.4 1013.6L1500.4 1013.3L1501.4 1012.8L1502.4 1012.2L1503.4 1011.5L1504.4 1010.7L1505.4 1010.0L1506.4 1009.2L1507.4 1008.6L1508.4 1008.0L1509.4 1007.6L1510.4 1007.4L1511.4 1007.4L1512.4 1007.6L1513.4 1007.9L1514.4 1008.4L1515.4 1009.0L1516.4 1009.6L1517.4 1010.4L1518.4 1011.1L1519.4 1012.2L1520.4 1013.9L1521.4 1016.1L1522.4 1018.6L1523.4 1021.2L1524.4 1023.8L1525.4 1026.2L1526.4 1028.1L1527.4 1029.6L1528.4 1030.3L1529.4 1030.3L1530.4 1030.1L1531.4 1029.7L1532.4 1029.3L1533.4 1028.7L1534.4 1028.0L1535.4 1027.2L1536.4 1026.4L1537.4 1025.4L1538.4 1024.4L1539.4 1023.2L1540.4 1021.1L1541.4 1018.3L1542.4 1015.0L1543.4 1011.6L1544.4 1008.4L1545.4 1005.7L1546.4 1003.7L1547.4 1002.4L1548.4 1001.2L1549.4 1000.0L1550.4 998.9L1551.4 997.8L1552.4 996.9L1553.4 996.0L1554.4 995.2L1555.4 994.6L1556.4 994.0L1557.4 993.7L1558.4 993.5L1559.4 993.4L1560.4 994.0L1561.4 995.2L1562.4 996.8L1563.4 998.6L1564.4 1000.2L1565.4 1001.5L1566.4 1002.2L1567.4 1002.2L1568.4 1001.6L1569.4 1000.7L1570.4 999.4L1571.4 997.8L1572.4 996.1L1573.4 994.3L1574.4 992.6L1575.4 990.9L1576.4 989.5L1577.4 988.3L1578.4 987.5L1579.4 987.1L1580.4 987.1L1581.4 987.1L1582.4 987.2L1583.4 987.2L1584.4 987.3L1585.4 987.4L1586.4 987.5L1587.4 987.6L1588.4 987.7L1589.4 987.8L1590.4 988.0L1591.4 988.1L1592.4 988.3L1593.4 988.8L1594.4 989.8L1595.4 991.2L1596.4 993.0L1597.4 995.0L1598.4 997.1L1599.4 999.4L1600.4 1001.7L1601.4 1003.9L1602.4 1005.9L1603.4 1007.9L1604.4 1010.0L1605.4 1012.2L1606.4 1014.5L1607.4 1016.8L1608.4 1019.2L1609.4 1021.6L1610.4 1024.0L1611.4 1026.3L1612.4 1028.6L1613.4 1030.9L1614.4 1033.0L1615.4 1035.1L1616.4 1037.0L1617.4 1038.7L1618.4 1040.3L1619.4 1042.0L1620.4 1043.6L1621.4 1045.2L1622.4 1046.6L1623.4 1047.8L1624.4 1048.8L1625.4 1049.4L1626.4 1049.8L1627.4 1050.1L1628.4 1050.3L1629.4 1050.4L1630.4 1050.6L1631.4 1050.7L1632.4 1050.9L1633.4 1051.1L1634.4 1051.4L1635.4 1051.9L1636.4 1052.6L1637.4 1053.9L1638.4 1055.8L1639.4 1058.3L1640.4 1061.4L1641.4 1065.1L1642.4 1070.1L1643.4 1080.2L1644.4 1094.8L1645.4 1112.4L1646.4 1135.2L1647.4 1169.0L1648.4 1207.1L1649.4 1242.2L1650.4 1276.3L1651.4 1310.6L1652.4 1329.8L1653.4 1326.2L1654.4 1310.8L1655.4 1288.2L1656.4 1262.8L1657.4 1238.6L1658.4 1219.8L1659.4 1205.1L1660.4 1190.8L1661.4 1177.8L1662.4 1167.0L1663.4 1159.4L1664.4 1154.2L1665.4 1149.8L1666.4 1146.1L1667.4 1143.3L1668.4 1141.3L1669.4 1140.0L1670.4 1138.9L1671.4 1138.0L1672.4 1137.3L1673.4 1136.6L1674.4 1136.0L1675.4 1135.5L1676.4 1135.0L1677.4 1134.5L1678.4 1134.0L1679.4 1133.4L1680.4 1132.8L1681.4 1132.0L1682.4 1131.1L1683.4 1130.0L1684.4 1128.7L1685.4 1127.2L1686.4 1125.5L1687.4 1123.7L1688.4 1121.9L1689.4 1119.9L1690.4 1117.9L1691.4 1115.9L1692.4 1114.0L1693.4 1112.0L1694.4 1109.6L1695.4 1107.0L1696.4 1104.2L1697.4 1101.4L1698.4 1098.7L1699.4 1096.2L1700.4 1094.1L1701.4 1092.5L1702.4 1091.6L1703.4 1091.5L1704.4 1092.5L1705.4 1094.7L1706.4 1097.8L1707.4 1101.5L1708.4 1105.8L1709.4 1110.2L1710.4 1114.7L1711.4 1118.9L1712.4 1122.8L1713.4 1125.9L1714.4 1128.2L1715.4 1129.4L1716.4 1129.3L1717.4 1127.9L1718.4 1125.5L1719.4 1122.2L1720.4 1118.2L1721.4 1113.8L1722.4 1109.2L1723.4 1104.4L1724.4 1099.8L1725.4 1095.4L1726.4 1091.6L1727.4 1088.5L1728.4 1086.2L1729.4 1085.1L1730.4 1085.3L1731.4 1087.2L1732.4 1090.4L1733.4 1094.7L1734.4 1099.8L1735.4 1105.4L1736.4 1111.3L1737.4 1117.0L1738.4 1122.4L1739.4 1127.2L1740.4 1131.0L1741.4 1133.5L1742.4 1134.6L1743.4 1134.3L1744.4 1133.4L1745.4 1131.9L1746.4 1130.1L1747.4 1128.1L1748.4 1125.9L1749.4 1123.8L1750.4 1121.8L1751.4 1120.1L1752.4 1118.9L1753.4 1118.2L1754.4 1118.2L1755.4 1118.9L1756.4 1120.2L1757.4 1122.0L1758.4 1124.3L1759.4 1126.9L1760.4 1129.7L1761.4 1132.7L1762.4 1136.2L1763.4 1141.0L1764.4 1146.9L1765.4 1153.6L1766.4 1161.1L1767.4 1169.1L1768.4 1177.5L1769.4 1185.9L1770.4 1196.3L1771.4 1208.5L1772.4 1221.9L1773.4 1235.4L1774.4 1248.3L1775.4 1259.5L1776.4 1268.1L1777.4 1274.1L1778.4 1279.6L1779.4 1284.9L1780.4 1289.8L1781.4 1294.2L1782.4 1297.9L1783.4 1300.8L1784.4 1302.8L1785.4 1303.7L1786.4 1303.6L1787.4 1302.8L1788.4 1301.4L1789.4 1299.4L1790.4 1297.1L1791.4 1294.5L1792.4 1291.7L1793.4 1288.7L1794.4 1285.8L1795.4 1282.9L1796.4 1280.2L1797.4 1277.8L1798.4 1275.3L1799.4 1272.6L1800.4 1269.7L1801.4 1266.6L1802.4 1263.4L1803.4 1260.2L1804.4 1257.1L1805.4 1254.0L1806.4 1251.1L1807.4 1248.3L1808.4 1245.8L1809.4 1243.6L1810.4 1241.8L1811.4 1240.4L1812.4 1239.4L1813.4 1238.9L1814.4 1239.1L1815.4 1239.9L1816.4 1241.3L1817.4 1243.3L1818.4 1245.7L1819.4 1248.5L1820.4 1251.6L1821.4 1254.9L1822.4 1258.4L1823.4 1261.9L1824.4 1265.4L1825.4 1268.8L1826.4 1272.0L1827.4 1275.0L1828.4 1277.8L1829.4 1280.8L1830.4 1284.0L1831.4 1287.5L1832.4 1291.0L1833.4 1294.7L1834.4 1298.4L1835.4 1302.2L1836.4 1306.0L1837.4 1309.7L1838.4 1313.3L1839.4 1316.8L1840.4 1320.1L1841.4 1323.3L1842.4 1326.2L1843.4 1328.8L1844.4 1331.1L1845.4 1333.1L1846.4 1334.7L1847.4 1335.9L1848.4 1336.6L1849.4 1336.8L1850.4 1334.5L1851.4 1328.7L1852.4 1320.2L1853.4 1309.4L1854.4 1297.0L1855.4 1283.5L1856.4 1269.6L1857.4 1255.8L1858.4 1242.7L1859.4 1228.1L1860.4 1211.4L1861.4 1193.4L1862.4 1175.0L1863.4 1156.9L1864.4 1139.8L1865.4 1124.7L1866.4 1111.9L1867.4 1099.7L1868.4 1087.9L1869.4 1076.7L1870.4 1066.4L1871.4 1057.1L1872.4 1049.0L1873.4 1042.4L1874.4 1036.7L1875.4 1031.2L1876.4 1025.8L1877.4 1020.8L1878.4 1016.3L1879.4 1012.2L1880.4 1008.7L1881.4 1005.8L1882.4 1003.7L1883.4 1002.5L1884.4 1002.0L1885.4 1001.6L1886.4 1001.2L1887.4 1000.9L1888.4 1000.6L1889.4 1000.4L1890.4 1000.2L1891.4 1000.0L1892.4 999.8L1893.4 999.7L1894.4 999.5L1895.4 999.3L1896.4 999.1L1897.4 998.9L1898.4 998.7L1899.4 998.4L1900.4 998.1L1901.4 997.8L1902.4 997.5L1903.4 997.3L1904.4 997.0L1905.4 996.7L1906.4 996.4L1907.4 996.1L1908.4 995.7L1909.4 995.4L1910.4 995.0L1911.4 994.6L1912.4 994.2L1913.4 993.8L1914.4 993.3L1915.4 992.7L1916.4 992.1L1917.4 991.3L1918.4 990.4L1919.4 989.5L1920.4 988.5L1921.4 987.4L1922.4 986.3L1923.4 985.1L1924.4 983.9L1925.4 982.8L1926.4 981.6L1927.4 980.4L1928.4 979.2L1929.4 978.1L1930.4 977.1L1931.4 976.0L1932.4 975.1L1933.4 974.2L1934.4 973.4L1935.4 972.7L1936.4 972.1L1937.4 971.7L1938.4 971.2L1939.4 970.8L1940.4 970.4L1941.4 970.0L1942.4 969.6L1943.4 969.2L1944.4 968.9L1945.4 968.6L1946.4 968.4L1947.4 968.2L1948.4 968.1L1949.4 968.0L1950.4 968.2L1951.4 969.2L1952.4 971.0L1953.4 973.3L1954.4 976.1L1955.4 979.1L1956.4 982.1L1957.4 985.0L1958.4 987.7L1959.4 989.9L1960.4 991.5L1961.4 993.0L1962.4 994.6L1963.4 996.1L1964.4 997.6L1965.4 998.9L1966.4 1000.1L1967.4 1001.0L1968.4 1001.8L1969.4 1002.2L1970.4 1002.3L1971.4 1001.7L1972.4 1000.5L1973.4 998.8L1974.4 996.7L1975.4 994.5L1976.4 992.3L1977.4 990.3L1978.4 988.6L1979.4 987.5L1980.4 987.1L1981.4 987.8L1982.4 989.9L1983.4 993.2L1984.4 997.3L1985.4 1002.1L1986.4 1007.4L1987.4 1012.9L1988.4 1018.8L1989.4 1026.7L1990.4 1036.9L1991.4 1048.9L1992.4 1062.3L1993.4 1076.6L1994.4 1091.4L1995.4 1106.3L1996.4 1120.8L1997.4 1134.6L1998.4 1147.1L1999.4 1158.0L2000.4 1166.8L2001.4 1173.6L2002.4 1179.5L2003.4 1184.8L2004.4 1189.7L2005.4 1194.3L2006.4 1198.7L2007.4 1203.1L2008.4 1207.6L2009.4 1212.4L2010.4 1217.5L2011.4 1222.9L2012.4 1228.4L2013.4 1234.0L2014.4 1239.5L2015.4 1244.8L2016.4 1249.9L2017.4 1254.7L2018.4 1259.0L2019.4 1262.8L2020.4 1265.9L2021.4 1268.4L2022.4 1270.0L2023.4 1270.7L2024.4 1270.0L2025.4 1267.4L2026.4 1263.0L2027.4 1257.0L2028.4 1249.6L2029.4 1241.0L2030.4 1231.4L2031.4 1221.1L2032.4 1210.2L2033.4 1199.0L2034.4 1185.9L2035.4 1165.5L2036.4 1139.8L2037.4 1111.6L2038.4 1083.6L2039.4 1058.7L2040.4 1039.5L2041.4 1029.0L2042.4 1023.9L2043.4 1019.3L2044.4 1015.3L2045.4 1011.9L2046.4 1009.2L2047.4 1007.3L2048.4 1006.3L2049.4 1006.3L2050.4 1007.6L2051.4 1009.9L2052.4 1013.3L2053.4 1016.9L2054.4 1020.1L2055.4 1022.3L2056.4 1023.3L2057.4 1022.8L2058.4 1020.7L2059.4 1017.5L2060.4 1013.6L2061.4 1009.1L2062.4 1005.1L2063.4 1001.3L2064.4 997.3L2065.4 993.5L2066.4 990.9L2067.4 990.4L2068.4 990.1L2069.4 989.3L2070.4 988.0L2071.4 986.9L2072.4 986.7L2073.4 986.5L2074.4 986.5L2075.4 986.6L2076.4 986.8L2077.4 986.4L2078.4 986.0L2079.4 985.9L2080.4 986.0L2081.4 986.6L2082.4 986.5L2083.4 986.7L2084.4 988.2L2085.4 991.0L2086.4 993.7L2087.4 993.8L2088.4 993.7L2089.4 993.3L2090.4 992.2L2091.4 989.5L2092.4 986.7L2093.4 983.6L2094.4 980.5L2095.4 978.2L2096.4 977.5L2097.4 978.3L2098.4 979.6L2099.4 980.8L2100.4 981.8L2101.4 983.1L2102.4 985.4L2103.4 987.7L2104.4 989.8L2105.4 991.6L2106.4 993.2L2107.4 994.2L2108.4 994.9L2109.4 995.6L2110.4 996.1L2111.4 996.2L2112.4 995.5L2113.4 994.5L2114.4 993.3L2115.4 992.0L2116.4 990.6L2117.4 989.4L2118.4 988.2L2119.4 987.0L2120.4 985.8L2121.4 984.6L2122.4 983.5L2123.4 982.6L2124.4 981.8L2125.4 981.1L2126.4 980.4L2127.4 979.6L2128.4 978.8L2129.4 978.3L2130.4 978.1L2131.4 977.8L2132.4 976.7L2133.4 975.5L2134.4 974.5L2135.4 973.8L2136.4 972.7L2137.4 971.0L2138.4 969.0L2139.4 966.6L2140.4 963.9L2141.4 961.2L2142.4 959.4L2143.4 957.9L2144.4 956.6L2145.4 955.6L2146.4 955.2L2147.4 954.9L2148.4 954.7L2149.4 954.8L2150.4 955.2L2151.4 955.7L2152.4 955.4L2153.4 955.1L2154.4 954.9L2155.4 954.6L2156.4 954.4L2157.4 954.1L2158.4 953.8L2159.4 953.8L2160.4 954.1L2161.4 954.4L2162.4 954.4L2163.4 954.5L2164.4 954.3L2165.4 954.1L2166.4 953.8L2167.4 954.0L2168.4 954.4L2169.4 954.8L2170.4 955.3L2171.4 955.9L2172.4 955.9L2173.4 956.0L2174.4 957.1L2175.4 959.0L2176.4 961.0L2177.4 961.7L2178.4 962.5L2179.4 963.0L2180.4 963.2L2181.4 963.5L2182.4 965.7L2183.4 968.0L2183.9 969.1"/>
<path stroke="#0000FF" d="M132.0 776.8L133.0 775.7L134.0 774.6L135.0 776.3L136.0 778.7L137.0 779.0L138.0 777.9L139.0 777.2L140.0 777.0L141.0 776.8L142.0 776.4L143.0 776.0L144.0 777.8L145.0 779.6L146.0 778.5L147.0 776.7L148.0 777.0L149.0 778.6L150.0 779.1L151.0 778.0L152.0 777.3L153.0 777.8L154.0 778.4L155.0 778.1L156.0 777.9L157.0 778.4L158.0 779.1L159.0 779.4L160.0 779.5L161.0 778.8L162.0 777.0L163.0 776.0L164.0 777.8L165.0 779.5L166.0 779.1L167.0 778.6L168.0 778.6L169.0 778.7L170.0 778.9L171.0 779.1L172.0 778.0L173.0 775.1L174.0 773.3L175.0 776.1L176.0 778.9L177.0 775.5L178.0 772.2L179.0 772.0L180.0 772.6L181.0 773.3L182.0 774.0L183.0 774.6L184.0 775.0L185.0 775.3L186.0 774.7L187.0 774.1L188.0 773.7L189.0 773.3L190.0 773.3L191.0 773.3L192.0 772.4L193.0 770.8L194.0 770.2L195.0 771.1L196.0 772.2L197.0 774.4L198.0 776.6L199.0 771.9L200.0 767.3L201.0 768.0L202.0 769.9L203.0 770.7L204.0 770.8L205.0 770.5L206.0 769.7L207.0 769.2L208.0 769.8L209.0 770.4L210.0 770.6L211.0 770.7L212.0 770.4L213.0 770.1L214.0 770.0L215.0 770.0L216.0 769.7L217.0 768.7L218.0 768.2L219.0 769.7L220.0 771.2L221.0 770.0L222.0 768.8L223.0 768.2L224.0 767.7L225.0 769.2L226.0 772.0L227.0 772.8L228.0 770.3L229.0 768.3L230.0 768.3L231.0 768.3L232.0 766.9L233.0 765.5L234.0 766.9L235.0 768.9L236.0 768.9L237.0 767.5L238.0 766.7L239.0 767.0L240.0 767.4L241.0 768.6L242.0 769.8L243.0 769.5L244.0 769.2L245.0 768.2L246.0 766.9L247.0 767.0L248.0 768.0L249.0 768.6L250.0 768.3L251.0 768.0L252.0 767.3L253.0 766.6L254.0 765.7L255.0 764.8L256.0 765.6L257.0 766.7L258.0 765.9L259.0 763.9L260.0 763.4L261.0 764.9L262.0 766.1L263.0 765.5L264.0 765.0L265.0 763.7L266.0 762.4L267.0 762.1L268.0 762.1L269.0 763.9L270.0 766.9L271.0 767.0L272.0 762.7L273.0 759.6L274.0 761.3L275.0 763.1L276.0 762.6L277.0 762.0L278.0 762.3L279.0 762.9L280.0 762.9L281.0 762.7L282.0 762.6L283.0 763.0L284.0 763.3L285.0 762.9L286.0 762.6L287.0 761.8L288.0 761.0L289.0 759.7L290.0 758.3L291.0 758.3L292.0 759.2L293.0 760.0L294.0 760.6L295.0 761.1L296.0 761.0L297.0 761.0L298.0 761.5L299.0 762.0L300.0 761.1L301.0 759.8L302.0 758.8L303.0 757.8L304.0 757.5L305.0 758.0L306.0 758.7L307.0 759.4L308.0 760.2L309.0 760.9L310.0 761.6L311.0 761.8L312.0 761.9L313.0 761.8L314.0 761.7L315.0 760.9L316.0 759.1L317.0 757.9L318.0 758.7L319.0 759.6L320.0 760.6L321.0 761.5L322.0 761.7L323.0 761.6L324.0 761.9L325.0 762.4L326.0 762.1L327.0 760.3L328.0 759.2L329.0 761.0L330.0 762.7L331.0 759.7L332.0 756.7L333.0 757.8L334.0 760.0L335.0 761.2L336.0 761.8L337.0 762.0L338.0 761.6L339.0 761.6L340.0 762.7L341.0 763.8L342.0 762.9L343.0 761.9L344.0 761.8L345.0 761.9L346.0 762.3L347.0 762.8L348.0 762.5L349.0 760.9L350.0 760.1L351.0 762.0L352.0 764.0L353.0 761.9L354.0 759.7L355.0 760.0L356.0 760.9L357.0 760.9L358.0 760.3L359.0 759.6L360.0 758.8L361.0 758.2L362.0 758.4L363.0 758.7L364.0 758.6L365.0 758.6L366.0 757.8L367.0 756.9L368.0 757.8L369.0 760.0L370.0 760.1L371.0 757.0L372.0 754.7L373.0 755.5L374.0 756.3L375.0 757.2L376.0 758.1L377.0 757.8L378.0 757.2L379.0 757.2L380.0 757.8L381.0 757.1L382.0 754.8L383.0 753.3L384.0 754.6L385.0 755.9L386.0 756.3L387.0 756.7L388.0 757.9L389.0 759.2L390.0 758.7L391.0 757.0L392.0 756.4L393.0 757.3L394.0 758.4L395.0 760.4L396.0 762.4L397.0 761.2L398.0 760.0L399.0 760.0L400.0 760.1L401.0 760.0L402.0 759.6L403.0 759.9L404.0 761.1L405.0 761.4L406.0 758.6L407.0 755.8L408.0 756.6L409.0 757.5L410.0 757.8L411.0 757.8L412.0 758.2L413.0 758.6L414.0 758.8L415.0 758.4L416.0 757.8L417.0 755.6L418.0 753.4L419.0 755.3L420.0 757.1L421.0 756.5L422.0 755.4L423.0 756.9L424.0 760.0L425.0 760.6L426.0 757.6L427.0 755.4L428.0 756.4L429.0 757.5L430.0 755.8L431.0 754.2L432.0 754.0L433.0 754.2L434.0 753.9L435.0 753.3L436.0 753.5L437.0 755.1L438.0 756.4L439.0 756.8L440.0 757.3L441.0 755.0L442.0 752.7L443.0 753.6L444.0 755.3L445.0 756.2L446.0 756.5L447.0 756.9L448.0 757.6L449.0 757.8L450.0 756.2L451.0 754.7L452.0 756.7L453.0 758.7L454.0 757.3L455.0 755.0L456.0 754.9L457.0 756.4L458.0 757.1L459.0 756.6L460.0 756.3L461.0 756.7L462.0 757.0L463.0 758.4L464.0 759.8L465.0 759.9L466.0 759.5L467.0 760.7L468.0 763.1L469.0 763.4L470.0 760.9L471.0 758.7L472.0 758.2L473.0 757.8L474.0 759.6L475.0 761.5L476.0 761.3L477.0 760.6L478.0 759.9L479.0 759.4L480.0 759.7L481.0 761.4L482.0 762.8L483.0 763.0L484.0 763.2L485.0 760.6L486.0 758.0L487.0 758.4L488.0 759.4L489.0 760.7L490.0 762.2L491.0 762.4L492.0 760.7L493.0 759.8L494.0 762.1L495.0 764.4L496.0 762.8L497.0 761.2L498.0 761.3L499.0 761.9L500.0 762.0L501.0 761.8L502.0 761.3L503.0 760.2L504.0 759.5L505.0 760.4L506.0 761.3L507.0 760.9L508.0 760.5L509.0 760.6L510.0 761.0L511.0 762.0L512.0 763.4L513.0 764.2L514.0 763.9L515.0 763.5L516.0 762.7L517.0 762.0L518.0 762.6L519.0 763.1L520.0 764.2L521.0 765.5L522.0 765.2L523.0 763.8L524.0 763.0L525.0 762.7L526.0 762.8L527.0 764.0L528.0 765.1L529.0 764.0L530.0 763.0L531.0 762.4L532.0 761.9L533.0 763.5L534.0 766.5L535.0 767.2L536.0 764.6L537.0 762.8L538.0 764.1L539.0 765.4L540.0 765.8L541.0 766.2L542.0 765.9L543.0 765.3L544.0 766.4L545.0 768.6L546.0 770.0L547.0 770.2L548.0 770.1L549.0 768.9L550.0 767.6L551.0 766.0L552.0 764.4L553.0 765.6L554.0 767.5L555.0 767.2L556.0 765.4L557.0 765.3L558.0 767.6L559.0 769.6L560.0 770.0L561.0 770.5L562.0 770.3L563.0 770.1L564.0 770.9L565.0 772.0L566.0 772.1L567.0 771.3L568.0 770.6L569.0 769.8L570.0 769.4L571.0 770.1L572.0 770.8L573.0 772.4L574.0 774.1L575.0 772.2L576.0 769.4L577.0 769.7L578.0 772.2L579.0 773.2L580.0 772.0L581.0 771.7L582.0 775.1L583.0 778.6L584.0 775.2L585.0 771.8L586.0 770.6L587.0 770.0L588.0 771.5L589.0 774.6L590.0 776.4L591.0 776.3L592.0 776.0L593.0 774.5L594.0 772.9L595.0 773.4L596.0 773.8L597.0 773.0L598.0 771.8L599.0 772.0L600.0 773.0L601.0 773.9L602.0 774.8L603.0 775.5L604.0 774.9L605.0 774.4L606.0 774.0L607.0 773.7L608.0 773.2L609.0 772.7L610.0 773.5L611.0 775.2L612.0 776.4L613.0 777.2L614.0 777.7L615.0 777.5L616.0 777.3L617.0 774.8L618.0 772.3L619.0 773.1L620.0 774.6L621.0 774.8L622.0 774.0L623.0 773.7L624.0 774.3L625.0 775.0L626.0 775.9L627.0 776.7L628.0 779.0L629.0 781.4L630.0 780.2L631.0 778.1L632.0 777.2L633.0 777.1L634.0 776.9L635.0 776.6L636.0 776.6L637.0 777.8L638.0 779.0L639.0 777.0L640.0 775.1L641.0 776.6L642.0 778.9L643.0 780.0L644.0 780.3L645.0 779.9L646.0 778.3L647.0 777.5L648.0 780.0L649.0 782.5L650.0 783.2L651.0 783.9L652.0 781.8L653.0 779.0L654.0 778.8L655.0 780.3L656.0 780.8L657.0 779.6L658.0 778.7L659.0 778.5L660.0 778.3L661.0 779.8L662.0 781.3L663.0 781.3L664.0 780.8L665.0 779.8L666.0 778.3L667.0 777.3L668.0 777.1L669.0 777.3L670.0 779.0L671.0 780.6L672.0 779.1L673.0 777.6L674.0 777.4L675.0 777.6L676.0 778.3L677.0 779.3L678.0 779.8L679.0 779.6L680.0 779.6L681.0 780.5L682.0 781.3L683.0 782.9L684.0 784.4L685.0 782.3L686.0 779.2L687.0 779.6L688.0 782.2L689.0 782.7L690.0 780.0L691.0 778.1L692.0 779.5L693.0 780.9L694.0 781.9L695.0 782.8L696.0 784.0L697.0 785.3L698.0 783.5L699.0 779.7L700.0 778.7L701.0 781.9L702.0 784.1L703.0 782.4L704.0 780.7L705.0 781.0L706.0 781.2L707.0 781.5L708.0 781.9L709.0 782.8L710.0 784.1L711.0 785.0L712.0 785.5L713.0 785.5L714.0 783.5L715.0 781.6L716.0 780.6L717.0 779.6L718.0 779.2L719.0 778.9L720.0 778.0L721.0 776.5L722.0 775.9L723.0 776.4L724.0 777.2L725.0 779.6L726.0 782.0L727.0 779.2L728.0 776.5L729.0 776.2L730.0 776.5L731.0 777.0L732.0 777.5L733.0 777.6L734.0 777.4L735.0 777.1L736.0 776.8L737.0 776.5L738.0 776.3L739.0 776.0L740.0 776.2L741.0 776.4L742.0 777.6L743.0 779.4L744.0 780.2L745.0 779.3L746.0 778.6L747.0 777.9L748.0 777.2L749.0 776.3L750.0 775.4L751.0 775.7L752.0 776.4L753.0 776.7L754.0 776.7L755.0 776.2L756.0 775.0L757.0 774.0L758.0 773.6L759.0 773.3L760.0 774.5L761.0 775.7L762.0 775.2L763.0 774.1L764.0 773.6L765.0 773.5L766.0 773.7L767.0 774.3L768.0 774.8L769.0 774.6L770.0 774.5L771.0 773.6L772.0 772.6L773.0 774.3L774.0 776.7L775.0 776.9L776.0 775.6L777.0 774.6L778.0 774.1L779.0 773.8L780.0 774.6L781.0 775.4L782.0 775.9L783.0 776.5L784.0 775.5L785.0 774.1L786.0 772.1L787.0 769.5L788.0 768.5L789.0 769.7L790.0 770.9L791.0 771.9L792.0 772.9L793.0 773.0L794.0 773.1L795.0 774.1L796.0 775.2L797.0 775.1L798.0 774.2L799.0 773.3L800.0 772.5L801.0 772.0L802.0 773.0L803.0 774.0L804.0 772.5L805.0 771.1L806.0 771.9L807.0 773.4L808.0 772.5L809.0 770.0L810.0 769.7L811.0 772.5L812.0 774.5L813.0 772.7L814.0 771.0L815.0 771.9L816.0 772.8L817.0 772.1L818.0 771.0L819.0 769.8L820.0 768.6L821.0 768.3L822.0 769.3L823.0 770.2L824.0 770.3L825.0 770.5L826.0 770.6L827.0 770.7L828.0 770.5L829.0 770.3L830.0 770.3L831.0 770.5L832.0 770.2L833.0 769.2L834.0 768.2L835.0 767.0L836.0 765.8L837.0 766.9L838.0 768.0L839.0 767.4L840.0 766.4L841.0 766.7L842.0 767.7L843.0 768.2L844.0 768.0L845.0 767.9L846.0 768.1L847.0 768.3L848.0 767.7L849.0 767.0L850.0 767.7L851.0 768.6L852.0 768.9L853.0 768.8L854.0 768.7L855.0 768.7L856.0 768.6L857.0 768.2L858.0 767.7L859.0 768.0L860.0 768.2L861.0 768.2L862.0 768.2L863.0 767.6L864.0 766.7L865.0 765.2L866.0 762.8L867.0 761.2L868.0 762.5L869.0 763.8L870.0 765.7L871.0 767.6L872.0 765.1L873.0 761.4L874.0 761.1L875.0 763.1L876.0 764.0L877.0 763.2L878.0 762.9L879.0 764.8L880.0 766.6L881.0 765.5L882.0 764.4L883.0 763.7L884.0 763.0L885.0 762.9L886.0 763.2L887.0 762.8L888.0 761.4L889.0 761.0L890.0 764.7L891.0 768.4L892.0 767.5L893.0 766.7L894.0 765.6L895.0 764.5L896.0 764.5L897.0 765.2L898.0 766.2L899.0 767.7L900.0 768.7L901.0 767.9L902.0 767.1L903.0 767.3L904.0 767.5L905.0 769.0L906.0 770.8L907.0 771.1L908.0 770.3L909.0 770.0L910.0 770.5L911.0 771.0L912.0 771.5L913.0 771.9L914.0 770.3L915.0 768.6L916.0 770.0L917.0 772.1L918.0 772.6L919.0 771.9L920.0 770.8L921.0 768.8L922.0 767.2L923.0 766.8L924.0 766.5L925.0 767.7L926.0 768.9L927.0 769.2L928.0 769.2L929.0 768.6L930.0 767.4L931.0 766.9L932.0 767.2L933.0 767.4L934.0 767.3L935.0 767.2L936.0 766.9L937.0 766.6L938.0 767.0L939.0 767.4L940.0 768.1L941.0 768.7L942.0 769.0L943.0 768.8L944.0 768.1L945.0 765.7L946.0 763.5L947.0 763.7L948.0 763.8L949.0 763.4L950.0 762.8L951.0 762.6L952.0 762.6L953.0 762.4L954.0 762.1L955.0 762.0L956.0 762.2L957.0 762.3L958.0 762.1L959.0 761.9L960.0 761.9L961.0 762.0L962.0 762.2L963.0 762.5L964.0 762.7L965.0 763.0L966.0 763.4L967.0 763.7L968.0 764.2L969.0 764.6L970.0 765.1L971.0 765.6L972.0 766.1L973.0 766.6L974.0 767.2L975.0 767.9L976.0 768.8L977.0 769.9L978.0 771.2L979.0 772.6L980.0 774.2L981.0 775.9L982.0 777.8L983.0 779.7L984.0 781.7L985.0 783.8L986.0 786.0L987.0 788.5L988.0 791.2L989.0 794.3L990.0 797.7L991.0 801.5L992.0 805.9L993.0 810.8L994.0 817.9L995.0 827.3L996.0 838.2L997.0 849.4L998.0 860.0L999.0 871.5L1000.0 884.7L1001.0 897.7L1002.0 908.6L1003.0 915.4L1004.0 916.0L1005.0 910.0L1006.0 900.1L1007.0 889.1L1008.0 880.0L1009.0 873.0L1010.0 866.4L1011.0 860.2L1012.0 854.2L1013.0 847.6L1014.0 840.6L1015.0 833.6L1016.0 826.9L1017.0 821.1L1018.0 816.6L1019.0 813.8L1020.0 813.0L1021.0 813.3L1022.0 814.1L1023.0 815.1L1024.0 816.4L1025.0 817.9L1026.0 819.5L1027.0 821.1L1028.0 822.7L1029.0 824.3L1030.0 825.6L1031.0 826.7L1032.0 827.4L1033.0 827.8L1034.0 827.6L1035.0 826.5L1036.0 824.8L1037.0 822.6L1038.0 820.0L1039.0 817.3L1040.0 814.7L1041.0 812.2L1042.0 810.0L1043.0 808.5L1044.0 807.6L1045.0 807.2L1046.0 806.9L1047.0 806.7L1048.0 806.5L1049.0 806.3L1050.0 806.1L1051.0 806.0L1052.0 805.8L1053.0 805.5L1054.0 805.2L1055.0 804.8L1056.0 803.9L1057.0 802.5L1058.0 800.6L1059.0 798.4L1060.0 796.0L1061.0 793.4L1062.0 790.8L1063.0 788.3L1064.0 786.0L1065.0 783.9L1066.0 782.3L1067.0 781.2L1068.0 780.7L1069.0 780.7L1070.0 780.8L1071.0 780.9L1072.0 781.0L1073.0 781.2L1074.0 781.4L1075.0 781.6L1076.0 781.8L1077.0 782.1L1078.0 782.3L1079.0 782.6L1080.0 782.9L1081.0 783.2L1082.0 783.5L1083.0 783.9L1084.0 784.4L1085.0 785.0L1086.0 785.7L1087.0 786.4L1088.0 787.0L1089.0 787.6L1090.0 788.1L1091.0 788.5L1092.0 788.7L1093.0 788.6L1094.0 787.9L1095.0 786.7L1096.0 785.2L1097.0 783.4L1098.0 781.5L1099.0 779.6L1100.0 778.0L1101.0 776.4L1102.0 774.6L1103.0 772.7L1104.0 770.7L1105.0 768.7L1106.0 766.8L1107.0 765.0L1108.0 763.4L1109.0 762.1L1110.0 761.1L1111.0 760.6L1112.0 760.4L1113.0 760.2L1114.0 760.0L1115.0 759.8L1116.0 759.7L1117.0 759.6L1118.0 759.5L1119.0 759.4L1120.0 759.3L1121.0 759.2L1122.0 759.2L1123.0 759.1L1124.0 759.1L1125.0 759.1L1126.0 759.1L1127.0 759.1L1128.0 759.1L1129.0 759.1L1130.0 759.1L1131.0 759.1L1132.0 759.1L1133.0 759.1L1134.0 759.1L1135.0 759.1L1136.0 759.1L1137.0 759.1L1138.0 759.1L1138.2 759.1"/>
<path stroke="#0000FF" d="M1176.4 754.6L1177.4 754.5L1178.4 754.3L1179.4 754.2L1180.4 754.1L1181.4 754.0L1182.4 753.9L1183.4 753.8L1184.4 753.7L1185.4 753.7L1186.4 753.6L1187.4 753.6L1188.4 753.5L1189.4 753.5L1190.4 753.4L1191.4 753.4L1192.4 753.4L1193.4 753.4L1194.4 753.3L1195.4 753.3L1196.4 753.3L1197.4 753.3L1198.4 753.3L1199.4 753.3L1200.4 753.3L1201.4 753.3L1202.4 753.3L1203.4 753.3L1204.4 753.4L1205.4 753.5L1206.4 753.6L1207.4 753.9L1208.4 754.2L1209.4 754.5L1210.4 754.9L1211.4 755.3L1212.4 755.8L1213.4 756.3L1214.4 756.8L1215.4 757.4L1216.4 758.0L1217.4 758.6L1218.4 759.2L1219.4 759.9L1220.4 760.5L1221.4 761.2L1222.4 761.9L1223.4 762.6L1224.4 763.3L1225.4 763.9L1226.4 764.6L1227.4 765.3L1228.4 765.9L1229.4 766.6L1230.4 767.3L1231.4 768.0L1232.4 768.7L1233.4 769.5L1234.4 770.3L1235.4 771.1L1236.4 771.9L1237.4 772.8L1238.4 773.7L1239.4 774.6L1240.4 775.5L1241.4 776.4L1242.4 777.4L1243.4 778.4L1244.4 779.4L1245.4 780.4L1246.4 781.4L1247.4 782.5L1248.4 783.8L1249.4 785.2L1250.4 786.7L1251.4 788.3L1252.4 789.9L1253.4 791.6L1254.4 793.2L1255.4 794.8L1256.4 796.4L1257.4 797.9L1258.4 799.3L1259.4 800.6L1260.4 801.7L1261.4 802.7L1262.4 803.4L1263.4 804.0L1264.4 804.3L1265.4 804.5L1266.4 804.7L1267.4 804.8L1268.4 805.0L1269.4 805.1L1270.4 805.3L1271.4 805.4L1272.4 805.5L1273.4 805.6L1274.4 805.6L1275.4 805.7L1276.4 805.8L1277.4 805.9L1278.4 806.0L1279.4 806.1L1280.4 806.2L1281.4 806.3L1282.4 806.5L1283.4 806.6L1284.4 806.8L1285.4 807.0L1286.4 807.2L1287.4 807.5L1288.4 807.9L1289.4 808.2L1290.4 808.6L1291.4 809.1L1292.4 809.5L1293.4 810.0L1294.4 810.4L1295.4 810.9L1296.4 811.3L1297.4 811.8L1298.4 812.2L1299.4 812.6L1300.4 813.0L1301.4 813.3L1302.4 813.6L1303.4 813.9L1304.4 814.1L1305.4 814.3L1306.4 814.4L1307.4 814.4L1308.4 814.3L1309.4 814.0L1310.4 813.6L1311.4 813.0L1312.4 812.4L1313.4 811.6L1314.4 810.8L1315.4 809.9L1316.4 809.0L1317.4 808.1L1318.4 807.2L1319.4 806.4L1320.4 805.6L1321.4 804.9L1322.4 804.3L1323.4 803.8L1324.4 803.4L1325.4 803.0L1326.4 802.6L1327.4 802.3L1328.4 801.9L1329.4 801.6L1330.4 801.2L1331.4 800.9L1332.4 800.5L1333.4 800.1L1334.4 799.6L1335.4 799.1L1336.4 798.5L1337.4 797.7L1338.4 796.9L1339.4 795.9L1340.4 794.9L1341.4 793.8L1342.4 792.6L1343.4 791.4L1344.4 790.2L1345.4 789.0L1346.4 787.9L1347.4 786.7L1348.4 785.7L1349.4 784.7L1350.4 783.8L1351.4 783.0L1352.4 782.3L1353.4 781.8L1354.4 781.5L1355.4 781.3L1356.4 781.4L1357.4 781.6L1358.4 782.0L1359.4 782.7L1360.4 783.5L1361.4 784.4L1362.4 785.5L1363.4 786.7L1364.4 788.0L1365.4 789.4L1366.4 790.9L1367.4 792.4L1368.4 794.0L1369.4 796.0L1370.4 798.8L1371.4 802.0L1372.4 805.7L1373.4 809.7L1374.4 813.7L1375.4 817.7L1376.4 821.6L1377.4 826.2L1378.4 831.4L1379.4 837.0L1380.4 842.5L1381.4 847.6L1382.4 852.0L1383.4 855.3L1384.4 857.3L1385.4 857.4L1386.4 855.6L1387.4 852.0L1388.4 847.2L1389.4 841.4L1390.4 835.1L1391.4 828.6L1392.4 822.4L1393.4 816.8L1394.4 812.1L1395.4 807.1L1396.4 801.9L1397.4 796.6L1398.4 791.4L1399.4 786.4L1400.4 781.8L1401.4 777.8L1402.4 774.5L1403.4 772.1L1404.4 770.6L1405.4 769.4L1406.4 768.2L1407.4 767.1L1408.4 766.1L1409.4 765.1L1410.4 764.3L1411.4 763.5L1412.4 762.8L1413.4 762.3L1414.4 761.8L1415.4 761.4L1416.4 761.2L1417.4 761.0L1418.4 761.0L1419.4 761.1L1420.4 761.4L1421.4 761.8L1422.4 762.3L1423.4 763.0L1424.4 763.8L1425.4 764.6L1426.4 765.6L1427.4 766.6L1428.4 767.8L1429.4 769.0L1430.4 770.2L1431.4 771.6L1432.4 773.0L1433.4 774.4L1434.4 775.9L1435.4 777.5L1436.4 779.6L1437.4 782.1L1438.4 785.0L1439.4 788.2L1440.4 791.8L1441.4 795.8L1442.4 800.0L1443.4 806.3L1444.4 814.9L1445.4 825.0L1446.4 836.0L1447.4 846.9L1448.4 857.2L1449.4 865.9L1450.4 872.5L1451.4 876.2L1452.4 876.3L1453.4 873.4L1454.4 868.0L1455.4 860.8L1456.4 852.2L1457.4 842.8L1458.4 833.2L1459.4 823.7L1460.4 815.0L1461.4 807.7L1462.4 802.1L1463.4 797.9L1464.4 793.6L1465.4 789.4L1466.4 785.4L1467.4 781.7L1468.4 778.4L1469.4 775.6L1470.4 773.4L1471.4 771.9L1472.4 771.1L1473.4 771.2L1474.4 771.6L1475.4 772.2L1476.4 773.1L1477.4 774.2L1478.4 775.4L1479.4 776.8L1480.4 778.3L1481.4 779.7L1482.4 781.3L1483.4 782.7L1484.4 784.1L1485.4 785.4L1486.4 786.6L1487.4 787.6L1488.4 788.3L1489.4 788.8L1490.4 789.0L1491.4 788.9L1492.4 788.6L1493.4 788.2L1494.4 787.5L1495.4 786.8L1496.4 785.9L1497.4 784.9L1498.4 783.9L1499.4 782.8L1500.4 781.7L1501.4 780.6L1502.4 779.5L1503.4 778.4L1504.4 777.4L1505.4 776.4L1506.4 775.6L1507.4 774.9L1508.4 774.3L1509.4 773.9L1510.4 773.7L1511.4 773.7L1512.4 773.8L1513.4 774.1L1514.4 774.4L1515.4 774.7L1516.4 775.2L1517.4 775.7L1518.4 776.1L1519.4 776.9L1520.4 778.0L1521.4 779.5L1522.4 781.1L1523.4 782.9L1524.4 784.6L1525.4 786.2L1526.4 787.5L1527.4 788.5L1528.4 789.0L1529.4 789.0L1530.4 788.9L1531.4 788.8L1532.4 788.6L1533.4 788.3L1534.4 788.0L1535.4 787.7L1536.4 787.4L1537.4 787.0L1538.4 786.6L1539.4 786.2L1540.4 785.4L1541.4 784.4L1542.4 783.2L1543.4 781.9L1544.4 780.6L1545.4 779.3L1546.4 778.2L1547.4 777.2L1548.4 776.5L1549.4 776.1L1550.4 775.7L1551.4 775.4L1552.4 775.1L1553.4 774.9L1554.4 774.6L1555.4 774.4L1556.4 774.2L1557.4 774.0L1558.4 773.9L1559.4 773.8L1560.4 773.7L1561.4 773.7L1562.4 773.9L1563.4 774.9L1564.4 776.5L1565.4 778.3L1566.4 779.9L1567.4 781.0L1568.4 781.3L1569.4 780.9L1570.4 780.0L1571.4 778.9L1572.4 777.5L1573.4 775.9L1574.4 774.3L1575.4 772.8L1576.4 771.3L1577.4 770.1L1578.4 769.2L1579.4 768.6L1580.4 768.5L1581.4 768.3L1582.4 768.1L1583.4 768.0L1584.4 767.8L1585.4 767.7L1586.4 767.6L1587.4 767.5L1588.4 767.4L1589.4 767.4L1590.4 767.3L1591.4 767.3L1592.4 767.3L1593.4 767.5L1594.4 767.9L1595.4 768.5L1596.4 769.3L1597.4 770.3L1598.4 771.4L1599.4 772.5L1600.4 773.7L1601.4 774.9L1602.4 776.1L1603.4 777.3L1604.4 778.9L1605.4 780.6L1606.4 782.6L1607.4 784.7L1608.4 786.9L1609.4 789.1L1610.4 791.2L1611.4 793.3L1612.4 795.3L1613.4 797.1L1614.4 798.7L1615.4 800.0L1616.4 801.0L1617.4 801.6L1618.4 801.9L1619.4 802.1L1620.4 802.3L1621.4 802.4L1622.4 802.5L1623.4 802.6L1624.4 802.7L1625.4 802.8L1626.4 802.8L1627.4 802.9L1628.4 803.0L1629.4 803.1L1630.4 803.2L1631.4 803.3L1632.4 803.5L1633.4 803.7L1634.4 803.9L1635.4 804.2L1636.4 804.8L1637.4 806.2L1638.4 808.2L1639.4 811.0L1640.4 814.4L1641.4 818.4L1642.4 823.0L1643.4 828.3L1644.4 838.1L1645.4 852.6L1646.4 869.6L1647.4 887.9L1648.4 914.3L1649.4 945.0L1650.4 973.3L1651.4 992.6L1652.4 996.2L1653.4 981.5L1654.4 956.7L1655.4 931.4L1656.4 913.9L1657.4 898.2L1658.4 883.4L1659.4 871.0L1660.4 862.6L1661.4 859.4L1662.4 857.7L1663.4 856.3L1664.4 855.3L1665.4 854.4L1666.4 853.7L1667.4 852.9L1668.4 852.2L1669.4 851.3L1670.4 850.6L1671.4 849.9L1672.4 849.3L1673.4 848.7L1674.4 848.1L1675.4 847.5L1676.4 847.0L1677.4 846.4L1678.4 845.7L1679.4 845.1L1680.4 844.4L1681.4 843.6L1682.4 842.7L1683.4 841.6L1684.4 840.3L1685.4 838.7L1686.4 836.9L1687.4 834.8L1688.4 832.6L1689.4 830.3L1690.4 828.0L1691.4 825.6L1692.4 823.2L1693.4 820.9L1694.4 818.7L1695.4 816.6L1696.4 814.7L1697.4 813.0L1698.4 811.6L1699.4 810.5L1700.4 809.7L1701.4 809.3L1702.4 809.5L1703.4 810.5L1704.4 812.3L1705.4 814.7L1706.4 817.7L1707.4 821.0L1708.4 824.4L1709.4 828.0L1710.4 831.4L1711.4 834.6L1712.4 837.5L1713.4 839.8L1714.4 841.5L1715.4 842.3L1716.4 842.2L1717.4 841.0L1718.4 838.9L1719.4 836.2L1720.4 832.9L1721.4 829.3L1722.4 825.6L1723.4 821.9L1724.4 818.4L1725.4 815.4L1726.4 812.9L1727.4 811.3L1728.4 810.6L1729.4 811.1L1730.4 812.8L1731.4 815.4L1732.4 818.8L1733.4 822.8L1734.4 827.2L1735.4 831.7L1736.4 836.3L1737.4 840.8L1738.4 844.9L1739.4 848.4L1740.4 851.2L1741.4 853.0L1742.4 853.8L1743.4 853.7L1744.4 853.5L1745.4 853.1L1746.4 852.7L1747.4 852.1L1748.4 851.5L1749.4 850.9L1750.4 850.3L1751.4 849.8L1752.4 849.3L1753.4 849.0L1754.4 848.8L1755.4 848.7L1756.4 849.1L1757.4 850.1L1758.4 851.6L1759.4 853.4L1760.4 855.6L1761.4 858.1L1762.4 860.7L1763.4 863.4L1764.4 866.2L1765.4 869.5L1766.4 873.6L1767.4 878.2L1768.4 883.4L1769.4 889.0L1770.4 894.8L1771.4 900.9L1772.4 907.5L1773.4 915.4L1774.4 924.1L1775.4 932.9L1776.4 940.9L1777.4 947.6L1778.4 954.3L1779.4 961.2L1780.4 967.8L1781.4 973.8L1782.4 978.6L1783.4 981.8L1784.4 983.2L1785.4 983.0L1786.4 982.3L1787.4 981.1L1788.4 979.6L1789.4 977.7L1790.4 975.6L1791.4 973.4L1792.4 971.0L1793.4 968.6L1794.4 966.3L1795.4 964.0L1796.4 961.9L1797.4 960.0L1798.4 958.2L1799.4 956.4L1800.4 954.5L1801.4 952.7L1802.4 950.8L1803.4 949.0L1804.4 947.1L1805.4 945.4L1806.4 943.6L1807.4 941.9L1808.4 940.3L1809.4 938.6L1810.4 936.7L1811.4 934.9L1812.4 933.5L1813.4 932.7L1814.4 932.8L1815.4 933.5L1816.4 934.5L1817.4 935.9L1818.4 937.4L1819.4 938.9L1820.4 940.5L1821.4 942.2L1822.4 944.2L1823.4 946.4L1824.4 948.8L1825.4 951.3L1826.4 953.9L1827.4 956.6L1828.4 959.3L1829.4 962.0L1830.4 964.7L1831.4 967.2L1832.4 969.6L1833.4 971.9L1834.4 974.3L1835.4 976.9L1836.4 979.7L1837.4 982.4L1838.4 985.2L1839.4 987.9L1840.4 990.5L1841.4 993.0L1842.4 995.3L1843.4 997.4L1844.4 999.1L1845.4 1000.6L1846.4 1001.6L1847.4 1002.2L1848.4 1002.2L1849.4 1001.4L1850.4 999.5L1851.4 996.8L1852.4 993.3L1853.4 989.2L1854.4 984.6L1855.4 979.7L1856.4 973.8L1857.4 965.0L1858.4 954.0L1859.4 941.3L1860.4 924.1L1861.4 901.1L1862.4 879.0L1863.4 864.3L1864.4 855.0L1865.4 846.8L1866.4 839.7L1867.4 833.6L1868.4 828.2L1869.4 823.5L1870.4 819.2L1871.4 815.4L1872.4 811.7L1873.4 808.1L1874.4 804.7L1875.4 801.4L1876.4 798.3L1877.4 795.5L1878.4 792.9L1879.4 790.5L1880.4 788.4L1881.4 786.7L1882.4 785.2L1883.4 784.2L1884.4 783.4L1885.4 782.6L1886.4 782.0L1887.4 781.4L1888.4 780.9L1889.4 780.4L1890.4 779.9L1891.4 779.5L1892.4 779.1L1893.4 778.7L1894.4 778.4L1895.4 778.0L1896.4 777.7L1897.4 777.4L1898.4 777.1L1899.4 776.7L1900.4 776.4L1901.4 776.0L1902.4 775.7L1903.4 775.3L1904.4 774.8L1905.4 774.4L1906.4 774.0L1907.4 773.5L1908.4 773.1L1909.4 772.7L1910.4 772.2L1911.4 771.8L1912.4 771.4L1913.4 770.9L1914.4 770.5L1915.4 770.1L1916.4 769.6L1917.4 769.2L1918.4 768.7L1919.4 768.3L1920.4 767.8L1921.4 767.4L1922.4 766.9L1923.4 766.5L1924.4 766.0L1925.4 765.5L1926.4 764.9L1927.4 764.3L1928.4 763.7L1929.4 763.0L1930.4 762.3L1931.4 761.7L1932.4 761.1L1933.4 760.5L1934.4 759.9L1935.4 759.4L1936.4 759.0L1937.4 758.7L1938.4 758.5L1939.4 758.4L1940.4 758.4L1941.4 758.4L1942.4 758.4L1943.4 758.4L1944.4 758.4L1945.4 758.4L1946.4 758.4L1947.4 758.4L1948.4 758.4L1949.4 758.4L1950.4 758.5L1951.4 759.0L1952.4 759.9L1953.4 761.1L1954.4 762.6L1955.4 764.1L1956.4 765.8L1957.4 767.4L1958.4 769.0L1959.4 770.4L1960.4 771.6L1961.4 772.8L1962.4 774.1L1963.4 775.4L1964.4 776.7L1965.4 778.0L1966.4 779.1L1967.4 780.0L1968.4 780.7L1969.4 781.2L1970.4 781.3L1971.4 780.9L1972.4 780.1L1973.4 778.9L1974.4 777.5L1975.4 776.1L1976.4 774.6L1977.4 773.2L1978.4 772.1L1979.4 771.4L1980.4 771.1L1981.4 771.5L1982.4 772.6L1983.4 774.3L1984.4 776.5L1985.4 779.2L1986.4 782.2L1987.4 785.5L1988.4 789.0L1989.4 792.6L1990.4 796.2L1991.4 800.2L1992.4 805.2L1993.4 810.8L1994.4 817.1L1995.4 823.8L1996.4 830.8L1997.4 837.9L1998.4 845.0L1999.4 851.8L2000.4 858.3L2001.4 864.7L2002.4 871.4L2003.4 878.5L2004.4 885.4L2005.4 892.0L2006.4 897.8L2007.4 902.7L2008.4 906.3L2009.4 908.9L2010.4 910.9L2011.4 912.5L2012.4 914.0L2013.4 915.5L2014.4 917.3L2015.4 919.6L2016.4 922.6L2017.4 927.9L2018.4 935.0L2019.4 942.9L2020.4 950.8L2021.4 957.8L2022.4 962.9L2023.4 965.3L2024.4 963.8L2025.4 958.0L2026.4 948.9L2027.4 937.4L2028.4 924.7L2029.4 911.6L2030.4 899.3L2031.4 888.7L2032.4 878.3L2033.4 867.5L2034.4 856.5L2035.4 845.7L2036.4 835.5L2037.4 826.1L2038.4 817.9L2039.4 811.0L2040.4 804.2L2041.4 797.6L2042.4 791.4L2043.4 785.8L2044.4 781.3L2045.4 778.0L2046.4 776.2L2047.4 775.4L2048.4 774.6L2049.4 774.0L2050.4 773.6L2051.4 773.4L2052.4 772.8L2053.4 772.2L2054.4 771.8L2055.4 771.7L2056.4 771.6L2057.4 771.7L2058.4 771.8L2059.4 771.6L2060.4 770.9L2061.4 770.3L2062.4 770.5L2063.4 770.7L2064.4 771.1L2065.4 771.6L2066.4 772.2L2067.4 771.8L2068.4 771.4L2069.4 771.8L2070.4 772.9L2071.4 773.9L2072.4 773.7L2073.4 773.5L2074.4 773.2L2075.4 772.8L2076.4 772.3L2077.4 772.8L2078.4 773.2L2079.4 773.5L2080.4 773.9L2081.4 774.2L2082.4 773.4L2083.4 772.5L2084.4 772.2L2085.4 772.6L2086.4 773.0L2087.4 772.3L2088.4 771.6L2089.4 771.1L2090.4 770.8L2091.4 770.5L2092.4 770.8L2093.4 771.0L2094.4 771.3L2095.4 771.7L2096.4 772.1L2097.4 771.7L2098.4 771.3L2099.4 771.2L2100.4 771.4L2101.4 771.6L2102.4 772.8L2103.4 774.1L2104.4 775.0L2105.4 775.6L2106.4 776.3L2107.4 776.7L2108.4 777.1L2109.4 777.6L2110.4 778.2L2111.4 778.7L2112.4 778.7L2113.4 778.7L2114.4 778.6L2115.4 778.4L2116.4 778.1L2117.4 777.9L2118.4 777.6L2119.4 777.4L2120.4 777.4L2121.4 777.3L2122.4 775.9L2123.4 774.6L2124.4 773.6L2125.4 772.9L2126.4 772.3L2127.4 771.7L2128.4 771.2L2129.4 770.6L2130.4 770.1L2131.4 769.5L2132.4 768.1L2133.4 766.7L2134.4 765.8L2135.4 765.2L2136.4 764.6L2137.4 763.7L2138.4 762.9L2139.4 762.6L2140.4 762.8L2141.4 763.0L2142.4 762.0L2143.4 761.1L2144.4 760.4L2145.4 760.0L2146.4 759.5L2147.4 759.7L2148.4 759.9L2149.4 759.6L2150.4 758.9L2151.4 758.1L2152.4 758.0L2153.4 758.0L2154.4 758.0L2155.4 758.2L2156.4 758.4L2157.4 758.0L2158.4 757.7L2159.4 757.6L2160.4 757.6L2161.4 757.6L2162.4 756.7L2163.4 755.8L2164.4 755.4L2165.4 755.4L2166.4 755.5L2167.4 755.7L2168.4 755.9L2169.4 756.1L2170.4 756.2L2171.4 756.2L2172.4 755.7L2173.4 755.1L2174.4 755.0L2175.4 755.4L2176.4 755.8L2177.4 756.3L2178.4 756.9L2179.4 756.9L2180.4 756.5L2181.4 756.0L2182.4 755.7L2183.4 755.5L2183.9 755.3"/>
<path stroke="#00FFFF" d="M132.0 476.7L133.0 477.0L134.0 477.3L135.0 477.6L136.0 478.0L137.0 476.7L138.0 474.4L139.0 473.5L140.0 474.6L141.0 475.5L142.0 475.1L143.0 474.7L144.0 474.6L145.0 474.5L146.0 474.3L147.0 474.1L148.0 473.9L149.0 473.6L150.0 473.0L151.0 471.8L152.0 471.0L153.0 471.1L154.0 471.3L155.0 470.8L156.0 470.3L157.0 469.7L158.0 469.1L159.0 469.3L160.0 470.1L161.0 470.6L162.0 470.6L163.0 470.3L164.0 469.0L165.0 467.7L166.0 468.3L167.0 468.8L168.0 468.8L169.0 468.6L170.0 468.9L171.0 469.5L172.0 469.4L173.0 468.1L174.0 466.9L175.0 466.7L176.0 466.5L177.0 467.3L178.0 468.1L179.0 467.3L180.0 466.2L181.0 466.1L182.0 466.7L183.0 466.8L184.0 466.1L185.0 465.4L186.0 464.7L187.0 463.9L188.0 465.2L189.0 466.5L190.0 465.7L191.0 464.3L192.0 463.9L193.0 464.0L194.0 463.8L195.0 463.2L196.0 462.9L197.0 463.9L198.0 464.8L199.0 463.8L200.0 462.8L201.0 461.7L202.0 460.7L203.0 460.5L204.0 460.9L205.0 461.3L206.0 462.0L207.0 462.3L208.0 461.7L209.0 461.1L210.0 461.3L211.0 461.4L212.0 460.9L213.0 460.3L214.0 459.9L215.0 459.7L216.0 459.7L217.0 460.0L218.0 460.2L219.0 460.1L220.0 460.0L221.0 458.7L222.0 457.4L223.0 458.2L224.0 459.6L225.0 459.3L226.0 457.8L227.0 457.1L228.0 457.4L229.0 457.6L230.0 457.0L231.0 456.5L232.0 456.3L233.0 456.0L234.0 457.3L235.0 459.1L236.0 458.2L237.0 455.4L238.0 454.2L239.0 455.4L240.0 456.2L241.0 455.8L242.0 455.3L243.0 454.8L244.0 454.3L245.0 453.6L246.0 452.8L247.0 453.1L248.0 454.1L249.0 454.8L250.0 454.9L251.0 455.0L252.0 454.9L253.0 454.8L254.0 453.4L255.0 452.0L256.0 452.0L257.0 452.3L258.0 453.3L259.0 454.6L260.0 454.5L261.0 452.2L262.0 450.4L263.0 450.8L264.0 451.2L265.0 451.8L266.0 452.4L267.0 451.9L268.0 451.1L269.0 450.9L270.0 451.2L271.0 451.1L272.0 450.5L273.0 450.0L274.0 449.6L275.0 449.3L276.0 448.6L277.0 447.9L278.0 447.8L279.0 448.0L280.0 448.1L281.0 448.3L282.0 448.3L283.0 448.4L284.0 448.2L285.0 447.0L286.0 445.8L287.0 445.9L288.0 446.1L289.0 445.6L290.0 445.0L291.0 445.3L292.0 446.2L293.0 446.5L294.0 446.0L295.0 445.4L296.0 444.8L297.0 444.2L298.0 444.5L299.0 444.8L300.0 445.3L301.0 445.7L302.0 445.8L303.0 445.6L304.0 445.2L305.0 444.6L306.0 443.6L307.0 441.5L308.0 439.4L309.0 441.1L310.0 442.8L311.0 443.0L312.0 442.8L313.0 442.9L314.0 443.2L315.0 443.1L316.0 442.3L317.0 441.6L318.0 441.1L319.0 440.6L320.0 441.2L321.0 441.9L322.0 441.4L323.0 440.6L324.0 440.6L325.0 441.2L326.0 441.5L327.0 441.6L328.0 441.7L329.0 441.9L330.0 442.1L331.0 441.8L332.0 441.5L333.0 441.6L334.0 441.9L335.0 441.3L336.0 440.0L337.0 439.2L338.0 439.0L339.0 438.7L340.0 437.3L341.0 435.9L342.0 436.4L343.0 436.9L344.0 437.0L345.0 436.9L346.0 437.1L347.0 437.4L348.0 437.1L349.0 435.9L350.0 435.1L351.0 435.5L352.0 435.9L353.0 434.1L354.0 432.4L355.0 431.5L356.0 430.9L357.0 431.2L358.0 432.1L359.0 432.4L360.0 431.9L361.0 431.6L362.0 432.0L363.0 432.4L364.0 433.9L365.0 435.5L366.0 435.1L367.0 434.2L368.0 434.4L369.0 435.3L370.0 436.1L371.0 437.0L372.0 437.4L373.0 436.7L374.0 435.8L375.0 435.7L376.0 435.5L377.0 436.0L378.0 436.6L379.0 436.5L380.0 435.9L381.0 436.0L382.0 437.1L383.0 437.8L384.0 437.0L385.0 436.3L386.0 436.3L387.0 436.3L388.0 436.1L389.0 435.9L390.0 435.3L391.0 434.6L392.0 433.9L393.0 433.4L394.0 433.0L395.0 432.9L396.0 432.9L397.0 432.7L398.0 432.5L399.0 431.9L400.0 431.1L401.0 430.9L402.0 431.0L403.0 430.7L404.0 429.8L405.0 429.1L406.0 429.8L407.0 430.5L408.0 429.3L409.0 428.1L410.0 428.3L411.0 428.9L412.0 428.9L413.0 428.5L414.0 428.3L415.0 428.4L416.0 428.5L417.0 429.0L418.0 429.4L419.0 429.8L420.0 430.2L421.0 430.1L422.0 429.8L423.0 430.3L424.0 431.5L425.0 432.3L426.0 432.7L427.0 433.0L428.0 433.0L429.0 432.9L430.0 433.7L431.0 434.4L432.0 435.0L433.0 435.4L434.0 435.3L435.0 434.7L436.0 434.5L437.0 434.9L438.0 435.1L439.0 435.1L440.0 435.0L441.0 435.6L442.0 436.2L443.0 436.5L444.0 436.7L445.0 437.0L446.0 437.4L447.0 437.6L448.0 437.6L449.0 437.6L450.0 437.7L451.0 437.8L452.0 438.4L453.0 439.0L454.0 438.9L455.0 438.6L456.0 438.9L457.0 439.6L458.0 440.1L459.0 440.2L460.0 440.5L461.0 441.1L462.0 441.6L463.0 440.7L464.0 439.8L465.0 440.6L466.0 441.7L467.0 442.2L468.0 442.3L469.0 442.5L470.0 442.8L471.0 443.2L472.0 444.0L473.0 444.7L474.0 444.3L475.0 443.9L476.0 443.8L477.0 443.7L478.0 443.2L479.0 442.6L480.0 442.7L481.0 444.0L482.0 445.2L483.0 446.1L484.0 447.0L485.0 446.6L486.0 446.2L487.0 446.3L488.0 446.5L489.0 446.9L490.0 447.5L491.0 448.0L492.0 448.4L493.0 448.9L494.0 449.6L495.0 450.3L496.0 450.6L497.0 450.9L498.0 451.7L499.0 452.6L500.0 452.9L501.0 452.8L502.0 453.0L503.0 453.5L504.0 454.1L505.0 455.1L506.0 456.0L507.0 456.5L508.0 457.0L509.0 458.0L510.0 459.1L511.0 459.6L512.0 459.7L513.0 460.2L514.0 461.4L515.0 462.3L516.0 462.5L517.0 462.6L518.0 463.1L519.0 463.5L520.0 464.3L521.0 465.1L522.0 464.9L523.0 464.1L524.0 463.8L525.0 464.2L526.0 464.5L527.0 464.3L528.0 464.2L529.0 464.0L530.0 463.8L531.0 463.1L532.0 462.2L533.0 462.2L534.0 462.7L535.0 463.3L536.0 464.0L537.0 464.3L538.0 463.1L539.0 461.9L540.0 462.5L541.0 463.1L542.0 463.4L543.0 463.7L544.0 463.9L545.0 464.7L546.0 466.7L547.0 469.6L548.0 472.3L549.0 474.0L550.0 475.0L551.0 475.8L552.0 476.3L553.0 477.8L554.0 479.4L555.0 479.6L556.0 478.8L557.0 478.3L558.0 478.2L559.0 478.2L560.0 479.2L561.0 480.1L562.0 480.4L563.0 480.7L564.0 480.6L565.0 480.4L566.0 480.4L567.0 480.7L568.0 480.9L569.0 481.1L570.0 481.3L571.0 482.0L572.0 482.6L573.0 482.3L574.0 481.9L575.0 481.8L576.0 481.9L577.0 481.8L578.0 481.6L579.0 481.4L580.0 481.3L581.0 481.2L582.0 481.5L583.0 481.8L584.0 481.6L585.0 481.5L586.0 481.3L587.0 481.3L588.0 481.5L589.0 481.9L590.0 482.4L591.0 482.8L592.0 483.0L593.0 482.3L594.0 481.6L595.0 483.7L596.0 485.8L597.0 485.6L598.0 484.9L599.0 484.7L600.0 484.8L601.0 485.4L602.0 486.4L603.0 487.3L604.0 488.0L605.0 488.6L606.0 489.3L607.0 490.0L608.0 490.5L609.0 491.0L610.0 491.3L611.0 491.6L612.0 491.7L613.0 491.5L614.0 491.4L615.0 491.8L616.0 492.3L617.0 493.4L618.0 494.5L619.0 495.1L620.0 495.4L621.0 496.2L622.0 497.2L623.0 497.6L624.0 497.0L625.0 496.9L626.0 498.5L627.0 500.1L628.0 500.0L629.0 499.8L630.0 499.5L631.0 499.1L632.0 499.7L633.0 501.0L634.0 501.7L635.0 501.5L636.0 501.5L637.0 502.8L638.0 504.2L639.0 503.9L640.0 503.6L641.0 504.0L642.0 504.6L643.0 504.9L644.0 505.0L645.0 505.1L646.0 505.3L647.0 505.4L648.0 505.1L649.0 504.9L650.0 504.5L651.0 504.1L652.0 504.7L653.0 505.6L654.0 506.2L655.0 506.6L656.0 506.4L657.0 505.3L658.0 504.6L659.0 505.6L660.0 506.6L661.0 506.4L662.0 506.3L663.0 507.0L664.0 507.9L665.0 508.0L666.0 507.5L667.0 507.1L668.0 506.8L669.0 506.7L670.0 507.1L671.0 507.5L672.0 508.5L673.0 509.5L674.0 508.4L675.0 506.8L676.0 506.3L677.0 506.5L678.0 507.1L679.0 508.0L680.0 508.5L681.0 507.3L682.0 506.1L683.0 507.2L684.0 508.4L685.0 508.6L686.0 508.7L687.0 508.6L688.0 508.5L689.0 508.2L690.0 507.7L691.0 507.3L692.0 507.5L693.0 507.7L694.0 507.8L695.0 507.9L696.0 508.0L697.0 508.1L698.0 508.3L699.0 508.5L700.0 508.2L701.0 507.2L702.0 506.6L703.0 507.1L704.0 507.7L705.0 508.6L706.0 509.5L707.0 509.6L708.0 509.6L709.0 509.1L710.0 508.4L711.0 508.2L712.0 508.7L713.0 509.0L714.0 508.6L715.0 508.2L716.0 507.2L717.0 506.2L718.0 506.5L719.0 507.0L720.0 507.0L721.0 506.5L722.0 506.3L723.0 506.6L724.0 507.0L725.0 507.3L726.0 507.7L727.0 506.8L728.0 505.9L729.0 505.8L730.0 505.9L731.0 505.9L732.0 505.8L733.0 505.4L734.0 504.6L735.0 504.1L736.0 504.7L737.0 505.3L738.0 504.8L739.0 504.2L740.0 504.5L741.0 505.0L742.0 505.4L743.0 505.7L744.0 505.3L745.0 503.7L746.0 502.6L747.0 503.7L748.0 504.8L749.0 504.5L750.0 504.3L751.0 503.7L752.0 503.1L753.0 502.4L754.0 501.7L755.0 501.4L756.0 501.3L757.0 501.2L758.0 500.9L759.0 500.5L760.0 501.4L761.0 502.2L762.0 502.0L763.0 501.4L764.0 501.1L765.0 501.0L766.0 500.3L767.0 498.6L768.0 497.3L769.0 497.9L770.0 498.4L771.0 498.6L772.0 498.8L773.0 497.6L774.0 496.1L775.0 495.4L776.0 495.3L777.0 495.6L778.0 496.6L779.0 497.3L780.0 496.4L781.0 495.6L782.0 495.7L783.0 495.8L784.0 496.9L785.0 498.2L786.0 498.0L787.0 497.0L788.0 496.4L789.0 496.3L790.0 496.3L791.0 496.0L792.0 495.7L793.0 495.8L794.0 495.9L795.0 495.1L796.0 494.0L797.0 494.0L798.0 494.8L799.0 495.0L800.0 494.3L801.0 493.6L802.0 492.8L803.0 491.9L804.0 492.3L805.0 492.7L806.0 492.0L807.0 491.0L808.0 491.6L809.0 493.3L810.0 494.4L811.0 494.9L812.0 494.7L813.0 492.2L814.0 489.7L815.0 490.4L816.0 491.0L817.0 491.0L818.0 490.9L819.0 490.6L820.0 490.2L821.0 489.9L822.0 489.6L823.0 489.2L824.0 488.3L825.0 487.3L826.0 487.8L827.0 488.3L828.0 486.6L829.0 484.3L830.0 483.2L831.0 482.8L832.0 482.4L833.0 482.0L834.0 481.6L835.0 481.1L836.0 480.6L837.0 479.6L838.0 478.6L839.0 478.4L840.0 478.5L841.0 478.5L842.0 478.4L843.0 478.1L844.0 477.5L845.0 477.2L846.0 477.7L847.0 478.3L848.0 478.3L849.0 478.3L850.0 477.4L851.0 476.4L852.0 476.0L853.0 476.1L854.0 476.1L855.0 475.8L856.0 475.6L857.0 475.7L858.0 475.9L859.0 476.1L860.0 476.4L861.0 476.9L862.0 477.5L863.0 478.0L864.0 478.4L865.0 478.2L866.0 476.9L867.0 476.0L868.0 475.9L869.0 475.9L870.0 475.5L871.0 475.0L872.0 475.4L873.0 476.1L874.0 476.6L875.0 477.0L876.0 477.1L877.0 476.8L878.0 476.5L879.0 476.1L880.0 475.7L881.0 476.0L882.0 476.3L883.0 476.3L884.0 476.3L885.0 476.1L886.0 475.7L887.0 475.3L888.0 474.5L889.0 474.0L890.0 473.9L891.0 473.8L892.0 474.9L893.0 475.9L894.0 476.5L895.0 477.0L896.0 477.3L897.0 477.6L898.0 477.5L899.0 477.0L900.0 476.6L901.0 476.6L902.0 476.5L903.0 475.6L904.0 474.8L905.0 475.0L906.0 475.6L907.0 475.8L908.0 475.8L909.0 475.9L910.0 476.2L911.0 476.6L912.0 476.8L913.0 476.9L914.0 475.8L915.0 474.7L916.0 474.4L917.0 474.2L918.0 474.8L919.0 476.0L920.0 476.5L921.0 476.0L922.0 475.4L923.0 474.6L924.0 473.9L925.0 472.6L926.0 471.4L927.0 471.8L928.0 472.7L929.0 472.8L930.0 472.2L931.0 471.7L932.0 471.3L933.0 471.0L934.0 471.2L935.0 471.5L936.0 470.8L937.0 470.1L938.0 470.2L939.0 470.5L940.0 470.1L941.0 469.3L942.0 469.3L943.0 470.2L944.0 470.7L945.0 469.9L946.0 469.3L947.0 469.4L948.0 469.5L949.0 469.8L950.0 470.2L951.0 470.4L952.0 470.5L953.0 470.5L954.0 470.6L955.0 470.6L956.0 470.6L957.0 470.6L958.0 470.9L959.0 471.1L960.0 471.2L961.0 471.4L962.0 471.6L963.0 471.9L964.0 472.1L965.0 472.4L966.0 472.7L967.0 473.0L968.0 473.3L969.0 473.7L970.0 474.0L971.0 474.4L972.0 474.9L973.0 475.6L974.0 476.5L975.0 477.6L976.0 478.8L977.0 480.2L978.0 481.7L979.0 483.2L980.0 484.9L981.0 486.6L982.0 488.4L983.0 490.3L984.0 492.6L985.0 495.1L986.0 498.0L987.0 501.1L988.0 504.6L989.0 508.4L990.0 513.0L991.0 518.4L992.0 524.6L993.0 531.3L994.0 538.6L995.0 546.3L996.0 555.0L997.0 564.6L998.0 574.9L999.0 585.9L1000.0 597.4L1001.0 613.1L1002.0 631.5L1003.0 646.7L1004.0 653.0L1005.0 649.3L1006.0 639.7L1007.0 626.9L1008.0 613.3L1009.0 601.4L1010.0 593.3L1011.0 585.9L1012.0 578.6L1013.0 571.5L1014.0 565.1L1015.0 559.6L1016.0 555.4L1017.0 552.7L1018.0 551.9L1019.0 552.4L1020.0 553.6L1021.0 555.5L1022.0 557.8L1023.0 560.6L1024.0 563.6L1025.0 566.9L1026.0 570.2L1027.0 573.5L1028.0 576.8L1029.0 581.2L1030.0 586.5L1031.0 592.3L1032.0 598.1L1033.0 603.4L1034.0 607.7L1035.0 610.5L1036.0 611.4L1037.0 609.9L1038.0 606.3L1039.0 601.1L1040.0 594.8L1041.0 588.0L1042.0 581.1L1043.0 574.8L1044.0 569.4L1045.0 565.0L1046.0 560.7L1047.0 556.6L1048.0 552.5L1049.0 548.5L1050.0 544.7L1051.0 541.0L1052.0 537.4L1053.0 534.0L1054.0 530.8L1055.0 527.9L1056.0 525.0L1057.0 522.3L1058.0 519.7L1059.0 517.1L1060.0 514.7L1061.0 512.4L1062.0 510.2L1063.0 508.3L1064.0 506.4L1065.0 504.8L1066.0 503.2L1067.0 501.6L1068.0 500.0L1069.0 498.6L1070.0 497.3L1071.0 496.2L1072.0 495.5L1073.0 495.1L1074.0 495.1L1075.0 495.3L1076.0 495.5L1077.0 495.9L1078.0 496.3L1079.0 496.8L1080.0 497.4L1081.0 498.0L1082.0 498.6L1083.0 499.3L1084.0 500.0L1085.0 500.9L1086.0 501.9L1087.0 503.1L1088.0 504.4L1089.0 506.0L1090.0 507.8L1091.0 511.2L1092.0 516.3L1093.0 521.9L1094.0 526.6L1095.0 529.4L1096.0 529.1L1097.0 525.6L1098.0 520.0L1099.0 513.2L1100.0 505.9L1101.0 499.3L1102.0 492.3L1103.0 484.5L1104.0 477.3L1105.0 472.0L1106.0 468.6L1107.0 465.5L1108.0 462.8L1109.0 460.3L1110.0 458.2L1111.0 456.4L1112.0 455.0L1113.0 453.9L1114.0 453.0L1115.0 452.3L1116.0 451.6L1117.0 451.0L1118.0 450.4L1119.0 450.0L1120.0 449.5L1121.0 449.1L1122.0 448.8L1123.0 448.4L1124.0 448.1L1125.0 447.9L1126.0 447.6L1127.0 447.3L1128.0 447.1L1129.0 446.8L1130.0 446.6L1131.0 446.3L1132.0 446.1L1133.0 445.9L1134.0 445.7L1135.0 445.6L1136.0 445.4L1137.0 445.3L1138.0 445.3L1139.0 445.2L1139.8 445.2"/>
<path stroke="#00FFFF" d="M1176.4 429.3L1177.4 429.3L1178.4 429.3L1179.4 429.4L1180.4 429.5L1181.4 429.6L1182.4 429.7L1183.4 429.8L1184.4 430.0L1185.4 430.2L1186.4 430.3L1187.4 430.5L1188.4 430.8L1189.4 431.0L1190.4 431.3L1191.4 431.5L1192.4 431.8L1193.4 432.1L1194.4 432.4L1195.4 432.7L1196.4 433.0L1197.4 433.3L1198.4 433.7L1199.4 434.0L1200.4 434.4L1201.4 434.8L1202.4 435.2L1203.4 435.8L1204.4 436.4L1205.4 437.1L1206.4 437.8L1207.4 438.7L1208.4 439.6L1209.4 440.5L1210.4 441.5L1211.4 442.6L1212.4 443.7L1213.4 444.8L1214.4 446.0L1215.4 447.3L1216.4 448.5L1217.4 449.9L1218.4 451.2L1219.4 452.6L1220.4 454.0L1221.4 455.4L1222.4 457.1L1223.4 458.9L1224.4 460.9L1225.4 463.0L1226.4 465.3L1227.4 467.7L1228.4 470.2L1229.4 472.7L1230.4 475.4L1231.4 478.0L1232.4 480.7L1233.4 483.3L1234.4 486.0L1235.4 488.6L1236.4 491.2L1237.4 493.7L1238.4 496.2L1239.4 498.7L1240.4 501.3L1241.4 503.9L1242.4 506.6L1243.4 509.4L1244.4 512.4L1245.4 515.4L1246.4 518.6L1247.4 522.2L1248.4 526.2L1249.4 530.5L1250.4 535.0L1251.4 539.6L1252.4 544.1L1253.4 548.5L1254.4 552.6L1255.4 556.4L1256.4 559.7L1257.4 562.7L1258.4 565.9L1259.4 569.0L1260.4 571.8L1261.4 574.3L1262.4 576.3L1263.4 577.6L1264.4 578.1L1265.4 578.3L1266.4 578.6L1267.4 578.8L1268.4 579.0L1269.4 579.2L1270.4 579.4L1271.4 579.6L1272.4 579.8L1273.4 579.9L1274.4 580.1L1275.4 580.2L1276.4 580.3L1277.4 580.4L1278.4 580.5L1279.4 580.6L1280.4 580.7L1281.4 580.7L1282.4 580.8L1283.4 580.9L1284.4 580.9L1285.4 580.9L1286.4 581.0L1287.4 581.0L1288.4 581.0L1289.4 581.0L1290.4 581.0L1291.4 580.9L1292.4 580.8L1293.4 580.6L1294.4 580.3L1295.4 580.0L1296.4 579.7L1297.4 579.3L1298.4 578.9L1299.4 578.4L1300.4 577.9L1301.4 577.4L1302.4 576.9L1303.4 576.3L1304.4 575.8L1305.4 575.2L1306.4 574.6L1307.4 574.0L1308.4 573.3L1309.4 572.5L1310.4 571.5L1311.4 570.4L1312.4 569.3L1313.4 568.0L1314.4 566.7L1315.4 565.4L1316.4 564.0L1317.4 562.7L1318.4 561.3L1319.4 560.1L1320.4 558.8L1321.4 557.7L1322.4 556.7L1323.4 555.8L1324.4 554.9L1325.4 554.2L1326.4 553.4L1327.4 552.7L1328.4 552.0L1329.4 551.3L1330.4 550.6L1331.4 549.9L1332.4 549.1L1333.4 548.2L1334.4 547.3L1335.4 546.3L1336.4 545.1L1337.4 543.7L1338.4 542.1L1339.4 540.3L1340.4 538.4L1341.4 536.5L1342.4 534.6L1343.4 532.8L1344.4 531.0L1345.4 529.4L1346.4 527.9L1347.4 526.7L1348.4 525.7L1349.4 524.9L1350.4 524.0L1351.4 523.1L1352.4 522.3L1353.4 521.5L1354.4 520.8L1355.4 520.1L1356.4 519.6L1357.4 519.1L1358.4 518.7L1359.4 518.4L1360.4 518.3L1361.4 518.5L1362.4 519.4L1363.4 520.9L1364.4 522.8L1365.4 524.9L1366.4 527.2L1367.4 530.3L1368.4 534.1L1369.4 538.4L1370.4 542.9L1371.4 547.4L1372.4 551.7L1373.4 555.8L1374.4 560.0L1375.4 564.3L1376.4 568.8L1377.4 573.6L1378.4 578.9L1379.4 585.5L1380.4 594.4L1381.4 604.3L1382.4 613.8L1383.4 621.7L1384.4 626.5L1385.4 627.0L1386.4 623.2L1387.4 616.2L1388.4 607.2L1389.4 597.3L1390.4 587.6L1391.4 579.2L1392.4 571.6L1393.4 563.9L1394.4 556.1L1395.4 548.4L1396.4 541.0L1397.4 534.0L1398.4 527.4L1399.4 521.1L1400.4 515.0L1401.4 509.1L1402.4 503.5L1403.4 498.1L1404.4 492.9L1405.4 488.1L1406.4 483.0L1407.4 478.1L1408.4 473.4L1409.4 469.4L1410.4 466.3L1411.4 464.3L1412.4 462.7L1413.4 461.2L1414.4 460.0L1415.4 459.1L1416.4 458.6L1417.4 458.7L1418.4 459.5L1419.4 460.8L1420.4 462.5L1421.4 464.5L1422.4 466.7L1423.4 468.9L1424.4 471.0L1425.4 472.9L1426.4 474.5L1427.4 475.6L1428.4 476.5L1429.4 477.2L1430.4 477.8L1431.4 478.3L1432.4 478.8L1433.4 479.3L1434.4 479.8L1435.4 480.5L1436.4 481.2L1437.4 482.2L1438.4 483.4L1439.4 484.8L1440.4 488.1L1441.4 496.6L1442.4 508.4L1443.4 521.3L1444.4 533.0L1445.4 542.3L1446.4 550.5L1447.4 558.5L1448.4 566.8L1449.4 576.0L1450.4 588.3L1451.4 603.1L1452.4 604.5L1453.4 596.2L1454.4 585.0L1455.4 575.4L1456.4 565.6L1457.4 555.2L1458.4 544.7L1459.4 534.6L1460.4 525.3L1461.4 517.4L1462.4 511.2L1463.4 506.3L1464.4 501.5L1465.4 496.9L1466.4 492.6L1467.4 488.6L1468.4 485.1L1469.4 482.2L1470.4 479.9L1471.4 478.4L1472.4 477.6L1473.4 477.8L1474.4 478.6L1475.4 480.0L1476.4 481.8L1477.4 483.9L1478.4 486.2L1479.4 488.6L1480.4 491.0L1481.4 493.2L1482.4 495.1L1483.4 496.6L1484.4 497.6L1485.4 498.0L1486.4 498.0L1487.4 497.8L1488.4 497.6L1489.4 497.3L1490.4 496.9L1491.4 496.5L1492.4 496.0L1493.4 495.5L1494.4 495.0L1495.4 494.4L1496.4 493.8L1497.4 493.2L1498.4 492.7L1499.4 492.1L1500.4 491.5L1501.4 491.0L1502.4 490.6L1503.4 490.1L1504.4 489.8L1505.4 489.5L1506.4 489.3L1507.4 489.1L1508.4 489.1L1509.4 489.2L1510.4 489.3L1511.4 489.6L1512.4 490.0L1513.4 490.4L1514.4 490.8L1515.4 491.3L1516.4 491.8L1517.4 492.8L1518.4 494.1L1519.4 495.8L1520.4 497.7L1521.4 499.8L1522.4 502.0L1523.4 504.2L1524.4 506.3L1525.4 508.2L1526.4 510.0L1527.4 511.4L1528.4 512.5L1529.4 513.1L1530.4 513.2L1531.4 512.7L1532.4 511.9L1533.4 510.7L1534.4 509.2L1535.4 507.5L1536.4 505.7L1537.4 503.7L1538.4 501.7L1539.4 499.8L1540.4 497.9L1541.4 496.2L1542.4 494.7L1543.4 493.5L1544.4 492.6L1545.4 491.7L1546.4 490.9L1547.4 490.0L1548.4 489.2L1549.4 488.4L1550.4 487.7L1551.4 487.1L1552.4 486.5L1553.4 486.0L1554.4 485.7L1555.4 485.4L1556.4 485.3L1557.4 485.4L1558.4 486.1L1559.4 487.1L1560.4 488.4L1561.4 489.8L1562.4 491.3L1563.4 492.7L1564.4 494.0L1565.4 494.9L1566.4 495.4L1567.4 495.3L1568.4 494.8L1569.4 493.9L1570.4 492.7L1571.4 491.3L1572.4 489.6L1573.4 487.8L1574.4 486.0L1575.4 484.1L1576.4 482.3L1577.4 480.7L1578.4 479.2L1579.4 478.0L1580.4 477.1L1581.4 476.5L1582.4 476.4L1583.4 476.5L1584.4 476.6L1585.4 476.7L1586.4 476.9L1587.4 477.2L1588.4 477.5L1589.4 477.8L1590.4 478.1L1591.4 478.5L1592.4 478.9L1593.4 479.7L1594.4 481.0L1595.4 482.7L1596.4 484.8L1597.4 487.2L1598.4 489.9L1599.4 492.8L1600.4 495.8L1601.4 498.9L1602.4 502.0L1603.4 505.1L1604.4 508.0L1605.4 510.8L1606.4 513.3L1607.4 515.6L1608.4 517.7L1609.4 520.0L1610.4 522.4L1611.4 524.7L1612.4 527.1L1613.4 529.4L1614.4 531.6L1615.4 533.6L1616.4 535.3L1617.4 536.7L1618.4 537.8L1619.4 538.5L1620.4 538.7L1621.4 538.7L1622.4 538.6L1623.4 538.5L1624.4 538.3L1625.4 538.2L1626.4 538.0L1627.4 537.8L1628.4 537.6L1629.4 537.4L1630.4 537.1L1631.4 536.9L1632.4 536.7L1633.4 536.5L1634.4 536.4L1635.4 536.3L1636.4 536.2L1637.4 536.1L1638.4 536.4L1639.4 541.4L1640.4 550.7L1641.4 562.0L1642.4 573.0L1643.4 581.4L1644.4 587.1L1645.4 591.8L1646.4 596.7L1647.4 603.4L1648.4 613.9L1649.4 648.7L1650.4 698.8L1651.4 740.0L1652.4 750.2L1653.4 741.3L1654.4 724.3L1655.4 702.9L1656.4 680.8L1657.4 661.6L1658.4 649.0L1659.4 641.3L1660.4 634.4L1661.4 628.6L1662.4 624.1L1663.4 621.2L1664.4 619.5L1665.4 618.2L1666.4 617.2L1667.4 616.3L1668.4 615.5L1669.4 614.6L1670.4 613.6L1671.4 612.6L1672.4 611.7L1673.4 610.8L1674.4 609.9L1675.4 609.0L1676.4 608.1L1677.4 607.2L1678.4 606.2L1679.4 605.1L1680.4 603.9L1681.4 602.6L1682.4 601.2L1683.4 599.4L1684.4 597.1L1685.4 594.4L1686.4 591.4L1687.4 588.3L1688.4 585.2L1689.4 582.4L1690.4 580.0L1691.4 577.8L1692.4 575.4L1693.4 573.1L1694.4 570.7L1695.4 568.4L1696.4 566.3L1697.4 564.4L1698.4 562.7L1699.4 561.4L1700.4 560.5L1701.4 560.0L1702.4 560.2L1703.4 561.4L1704.4 563.5L1705.4 566.3L1706.4 569.7L1707.4 573.4L1708.4 577.5L1709.4 581.5L1710.4 585.5L1711.4 589.3L1712.4 592.5L1713.4 595.2L1714.4 597.1L1715.4 598.1L1716.4 598.0L1717.4 596.6L1718.4 594.3L1719.4 591.1L1720.4 587.4L1721.4 583.3L1722.4 579.0L1723.4 574.8L1724.4 570.9L1725.4 567.4L1726.4 564.6L1727.4 562.8L1728.4 562.0L1729.4 562.6L1730.4 564.6L1731.4 567.8L1732.4 572.0L1733.4 576.8L1734.4 582.2L1735.4 587.8L1736.4 593.4L1737.4 598.8L1738.4 603.8L1739.4 608.1L1740.4 611.5L1741.4 613.8L1742.4 614.7L1743.4 614.4L1744.4 613.2L1745.4 611.5L1746.4 609.3L1747.4 606.7L1748.4 603.9L1749.4 601.0L1750.4 598.3L1751.4 595.7L1752.4 593.5L1753.4 591.8L1754.4 590.8L1755.4 590.5L1756.4 590.9L1757.4 591.9L1758.4 593.4L1759.4 595.4L1760.4 597.7L1761.4 600.3L1762.4 603.1L1763.4 606.1L1764.4 609.3L1765.4 613.8L1766.4 619.6L1767.4 626.4L1768.4 634.1L1769.4 642.2L1770.4 650.5L1771.4 658.6L1772.4 666.9L1773.4 676.8L1774.4 688.1L1775.4 700.0L1776.4 712.1L1777.4 723.7L1778.4 734.1L1779.4 742.9L1780.4 749.3L1781.4 752.8L1782.4 753.2L1783.4 752.6L1784.4 751.4L1785.4 749.8L1786.4 747.8L1787.4 745.4L1788.4 742.7L1789.4 739.8L1790.4 736.8L1791.4 733.7L1792.4 730.6L1793.4 727.5L1794.4 724.6L1795.4 721.9L1796.4 719.4L1797.4 717.3L1798.4 715.2L1799.4 713.0L1800.4 710.6L1801.4 708.3L1802.4 705.9L1803.4 703.6L1804.4 701.3L1805.4 699.1L1806.4 697.0L1807.4 695.0L1808.4 693.3L1809.4 691.7L1810.4 690.5L1811.4 689.5L1812.4 688.8L1813.4 688.5L1814.4 688.6L1815.4 689.1L1816.4 689.9L1817.4 691.1L1818.4 692.5L1819.4 694.2L1820.4 696.1L1821.4 698.1L1822.4 700.3L1823.4 702.6L1824.4 704.9L1825.4 707.3L1826.4 709.6L1827.4 711.9L1828.4 714.2L1829.4 716.9L1830.4 719.8L1831.4 723.0L1832.4 726.2L1833.4 729.6L1834.4 732.9L1835.4 736.1L1836.4 739.1L1837.4 741.9L1838.4 744.5L1839.4 747.2L1840.4 750.0L1841.4 752.8L1842.4 755.6L1843.4 758.3L1844.4 760.8L1845.4 763.0L1846.4 764.8L1847.4 766.2L1848.4 767.0L1849.4 767.3L1850.4 764.5L1851.4 758.1L1852.4 748.8L1853.4 738.0L1854.4 726.6L1855.4 715.6L1856.4 705.4L1857.4 694.0L1858.4 681.8L1859.4 669.2L1860.4 656.6L1861.4 644.4L1862.4 632.9L1863.4 622.6L1864.4 613.7L1865.4 605.7L1866.4 598.2L1867.4 591.0L1868.4 583.5L1869.4 575.3L1870.4 566.2L1871.4 555.0L1872.4 539.2L1873.4 526.7L1874.4 520.6L1875.4 515.2L1876.4 510.3L1877.4 505.9L1878.4 502.0L1879.4 498.6L1880.4 495.5L1881.4 492.7L1882.4 490.3L1883.4 488.0L1884.4 486.0L1885.4 484.1L1886.4 482.4L1887.4 480.7L1888.4 479.1L1889.4 477.7L1890.4 476.3L1891.4 475.0L1892.4 473.8L1893.4 472.7L1894.4 471.6L1895.4 470.5L1896.4 469.5L1897.4 468.6L1898.4 467.6L1899.4 466.7L1900.4 465.8L1901.4 464.9L1902.4 463.9L1903.4 463.0L1904.4 462.0L1905.4 461.0L1906.4 460.1L1907.4 459.1L1908.4 458.2L1909.4 457.2L1910.4 456.3L1911.4 455.4L1912.4 454.5L1913.4 453.6L1914.4 452.7L1915.4 451.9L1916.4 451.0L1917.4 450.2L1918.4 449.3L1919.4 448.5L1920.4 447.7L1921.4 446.9L1922.4 446.1L1923.4 445.4L1924.4 444.6L1925.4 443.8L1926.4 443.0L1927.4 442.2L1928.4 441.3L1929.4 440.4L1930.4 439.5L1931.4 438.6L1932.4 437.7L1933.4 436.9L1934.4 436.0L1935.4 435.1L1936.4 434.3L1937.4 433.6L1938.4 432.8L1939.4 432.2L1940.4 431.5L1941.4 431.0L1942.4 430.5L1943.4 430.1L1944.4 429.7L1945.4 429.5L1946.4 429.3L1947.4 429.3L1948.4 429.6L1949.4 430.3L1950.4 431.4L1951.4 432.8L1952.4 434.5L1953.4 436.4L1954.4 438.4L1955.4 440.5L1956.4 442.6L1957.4 444.6L1958.4 446.6L1959.4 448.3L1960.4 449.9L1961.4 451.2L1962.4 452.1L1963.4 452.8L1964.4 453.5L1965.4 454.2L1966.4 454.8L1967.4 455.3L1968.4 455.7L1969.4 455.9L1970.4 456.0L1971.4 455.6L1972.4 454.8L1973.4 453.8L1974.4 452.5L1975.4 451.2L1976.4 450.1L1977.4 449.1L1978.4 448.5L1979.4 448.5L1980.4 449.3L1981.4 451.2L1982.4 453.9L1983.4 457.3L1984.4 461.2L1985.4 465.6L1986.4 470.1L1987.4 474.8L1988.4 479.6L1989.4 485.4L1990.4 492.3L1991.4 500.1L1992.4 508.6L1993.4 517.6L1994.4 526.8L1995.4 536.0L1996.4 545.0L1997.4 553.6L1998.4 561.6L1999.4 569.9L2000.4 578.7L2001.4 587.5L2002.4 596.0L2003.4 603.7L2004.4 610.1L2005.4 614.7L2006.4 617.5L2007.4 619.5L2008.4 621.1L2009.4 622.5L2010.4 623.7L2011.4 625.1L2012.4 626.7L2013.4 628.7L2014.4 631.8L2015.4 636.2L2016.4 641.3L2017.4 646.5L2018.4 651.3L2019.4 655.2L2020.4 657.5L2021.4 657.7L2022.4 656.1L2023.4 653.0L2024.4 648.6L2025.4 643.4L2026.4 637.5L2027.4 631.4L2028.4 625.4L2029.4 619.3L2030.4 612.6L2031.4 605.1L2032.4 597.0L2033.4 588.2L2034.4 579.0L2035.4 569.2L2036.4 558.9L2037.4 545.8L2038.4 529.4L2039.4 511.4L2040.4 493.4L2041.4 477.1L2042.4 464.1L2043.4 456.3L2044.4 454.5L2045.4 454.2L2046.4 454.1L2047.4 453.9L2048.4 453.6L2049.4 453.4L2050.4 453.4L2051.4 453.4L2052.4 453.5L2053.4 453.6L2054.4 453.4L2055.4 452.7L2056.4 451.8L2057.4 451.0L2058.4 449.7L2059.4 448.5L2060.4 447.6L2061.4 446.8L2062.4 445.6L2063.4 444.8L2064.4 444.6L2065.4 444.9L2066.4 445.5L2067.4 446.2L2068.4 446.9L2069.4 448.0L2070.4 449.3L2071.4 450.5L2072.4 450.6L2073.4 450.4L2074.4 450.5L2075.4 451.2L2076.4 451.8L2077.4 451.7L2078.4 451.5L2079.4 451.2L2080.4 451.0L2081.4 450.7L2082.4 450.7L2083.4 450.7L2084.4 450.3L2085.4 449.6L2086.4 448.8L2087.4 448.3L2088.4 447.7L2089.4 447.2L2090.4 446.9L2091.4 446.5L2092.4 446.5L2093.4 446.3L2094.4 445.7L2095.4 444.7L2096.4 443.6L2097.4 442.6L2098.4 441.5L2099.4 440.6L2100.4 439.8L2101.4 439.1L2102.4 439.5L2103.4 440.1L2104.4 440.6L2105.4 441.0L2106.4 441.5L2107.4 440.6L2108.4 439.7L2109.4 439.7L2110.4 440.6L2111.4 441.4L2112.4 441.9L2113.4 442.4L2114.4 442.7L2115.4 442.7L2116.4 442.7L2117.4 442.5L2118.4 442.2L2119.4 441.7L2120.4 441.2L2121.4 440.4L2122.4 438.9L2123.4 437.4L2124.4 436.1L2125.4 434.9L2126.4 434.1L2127.4 434.1L2128.4 434.5L2129.4 435.1L2130.4 435.8L2131.4 436.5L2132.4 436.7L2133.4 436.9L2134.4 437.2L2135.4 437.5L2136.4 437.5L2137.4 436.2L2138.4 434.5L2139.4 433.0L2140.4 431.9L2141.4 430.6L2142.4 428.6L2143.4 426.7L2144.4 425.0L2145.4 423.6L2146.4 422.5L2147.4 421.9L2148.4 421.7L2149.4 421.9L2150.4 422.3L2151.4 422.8L2152.4 422.2L2153.4 421.7L2154.4 421.7L2155.4 422.3L2156.4 422.9L2157.4 423.9L2158.4 425.0L2159.4 425.3L2160.4 425.0L2161.4 424.6L2162.4 424.8L2163.4 424.9L2164.4 425.5L2165.4 426.5L2166.4 427.5L2167.4 426.9L2168.4 426.2L2169.4 426.0L2170.4 426.2L2171.4 426.4L2172.4 427.5L2173.4 428.6L2174.4 429.0L2175.4 428.7L2176.4 428.3L2177.4 428.6L2178.4 428.8L2179.4 429.2L2180.4 429.7L2181.4 430.2L2182.4 430.0L2183.4 429.9L2183.9 429.9"/>
<path stroke="#FF00FF" d="M132.0 252.9L133.0 252.9L134.0 252.9L135.0 251.8L136.0 250.6L137.0 250.3L138.0 250.7L139.0 250.5L140.0 249.3L141.0 248.3L142.0 247.9L143.0 247.6L144.0 247.5L145.0 247.4L146.0 247.3L147.0 247.3L148.0 246.7L149.0 245.8L150.0 245.5L151.0 246.1L152.0 246.4L153.0 245.9L154.0 245.5L155.0 245.0L156.0 244.6L157.0 244.4L158.0 244.2L159.0 244.5L160.0 245.0L161.0 245.1L162.0 244.5L163.0 244.2L164.0 244.7L165.0 245.2L166.0 245.1L167.0 244.9L168.0 245.7L169.0 246.8L170.0 246.2L171.0 244.5L172.0 244.0L173.0 245.1L174.0 245.9L175.0 245.1L176.0 244.3L177.0 244.3L178.0 244.2L179.0 244.6L180.0 245.0L181.0 245.6L182.0 246.2L183.0 246.0L184.0 244.9L185.0 243.7L186.0 242.6L187.0 241.5L188.0 241.7L189.0 241.9L190.0 241.5L191.0 240.9L192.0 240.1L193.0 239.2L194.0 238.8L195.0 239.3L196.0 239.6L197.0 238.8L198.0 238.1L199.0 239.0L200.0 239.9L201.0 239.0L202.0 237.5L203.0 236.6L204.0 236.0L205.0 236.0L206.0 236.9L207.0 237.4L208.0 236.4L209.0 235.5L210.0 234.8L211.0 234.1L212.0 233.5L213.0 233.1L214.0 233.4L215.0 234.1L216.0 234.7L217.0 234.9L218.0 235.1L219.0 235.3L220.0 235.6L221.0 235.6L222.0 235.7L223.0 235.4L224.0 235.0L225.0 234.6L226.0 234.3L227.0 234.3L228.0 234.8L229.0 235.3L230.0 235.4L231.0 235.5L232.0 234.5L233.0 233.6L234.0 233.6L235.0 233.8L236.0 233.7L237.0 233.4L238.0 233.2L239.0 233.2L240.0 233.3L241.0 233.6L242.0 234.0L243.0 233.6L244.0 233.2L245.0 232.8L246.0 232.5L247.0 232.5L248.0 232.8L249.0 233.0L250.0 233.1L251.0 233.1L252.0 233.0L253.0 232.9L254.0 231.8L255.0 230.7L256.0 229.8L257.0 228.9L258.0 229.1L259.0 229.9L260.0 230.3L261.0 230.1L262.0 229.9L263.0 229.6L264.0 229.3L265.0 230.0L266.0 230.8L267.0 230.2L268.0 229.2L269.0 228.9L270.0 228.9L271.0 229.0L272.0 229.1L273.0 228.9L274.0 227.9L275.0 226.9L276.0 227.5L277.0 228.1L278.0 228.0L279.0 227.7L280.0 227.4L281.0 227.3L282.0 227.3L283.0 227.7L284.0 228.1L285.0 228.2L286.0 228.3L287.0 228.8L288.0 229.4L289.0 229.0L290.0 228.3L291.0 228.2L292.0 228.5L293.0 229.0L294.0 229.8L295.0 230.3L296.0 229.6L297.0 229.0L298.0 228.8L299.0 228.6L300.0 228.0L301.0 227.3L302.0 227.1L303.0 227.1L304.0 227.2L305.0 227.1L306.0 226.9L307.0 226.4L308.0 226.0L309.0 226.6L310.0 227.2L311.0 227.3L312.0 227.4L313.0 226.9L314.0 226.2L315.0 225.8L316.0 225.9L317.0 225.9L318.0 225.3L319.0 224.7L320.0 225.6L321.0 226.4L322.0 226.5L323.0 226.5L324.0 225.4L325.0 223.6L326.0 222.7L327.0 223.4L328.0 223.7L329.0 223.1L330.0 222.4L331.0 223.1L332.0 223.8L333.0 222.9L334.0 221.7L335.0 221.3L336.0 221.5L337.0 221.6L338.0 221.5L339.0 221.2L340.0 220.2L341.0 219.2L342.0 220.2L343.0 221.2L344.0 220.3L345.0 219.0L346.0 218.2L347.0 217.8L348.0 217.6L349.0 217.6L350.0 217.4L351.0 216.1L352.0 214.8L353.0 216.0L354.0 217.2L355.0 217.1L356.0 216.8L357.0 216.2L358.0 215.4L359.0 215.4L360.0 216.3L361.0 217.0L362.0 216.5L363.0 216.0L364.0 217.0L365.0 218.0L366.0 218.2L367.0 218.3L368.0 219.4L369.0 221.1L370.0 221.5L371.0 219.8L372.0 218.6L373.0 219.3L374.0 220.0L375.0 219.6L376.0 219.1L377.0 219.1L378.0 219.1L379.0 219.1L380.0 219.0L381.0 218.3L382.0 216.7L383.0 215.5L384.0 215.5L385.0 215.7L386.0 213.3L387.0 211.1L388.0 212.0L389.0 213.8L390.0 214.4L391.0 214.3L392.0 214.2L393.0 214.4L394.0 214.4L395.0 213.8L396.0 213.2L397.0 212.7L398.0 212.3L399.0 212.7L400.0 213.4L401.0 213.7L402.0 213.8L403.0 214.1L404.0 214.4L405.0 214.6L406.0 214.1L407.0 213.5L408.0 215.3L409.0 217.2L410.0 217.7L411.0 217.9L412.0 217.8L413.0 217.4L414.0 217.2L415.0 217.4L416.0 217.6L417.0 218.1L418.0 218.6L419.0 219.3L420.0 220.0L421.0 219.0L422.0 217.6L423.0 217.4L424.0 217.9L425.0 218.7L426.0 220.0L427.0 220.9L428.0 220.5L429.0 220.1L430.0 220.5L431.0 220.9L432.0 221.2L433.0 221.5L434.0 221.6L435.0 221.5L436.0 221.9L437.0 222.8L438.0 224.0L439.0 225.9L440.0 227.9L441.0 227.4L442.0 227.0L443.0 227.6L444.0 228.6L445.0 229.5L446.0 230.3L447.0 231.1L448.0 231.8L449.0 232.4L450.0 232.9L451.0 233.3L452.0 232.9L453.0 232.4L454.0 233.1L455.0 234.0L456.0 234.9L457.0 235.7L458.0 235.8L459.0 234.6L460.0 234.0L461.0 235.4L462.0 236.8L463.0 236.3L464.0 235.9L465.0 235.9L466.0 236.0L467.0 236.0L468.0 236.0L469.0 236.5L470.0 237.8L471.0 239.1L472.0 240.3L473.0 241.5L474.0 240.0L475.0 238.4L476.0 239.0L477.0 240.2L478.0 240.7L479.0 240.8L480.0 240.7L481.0 240.6L482.0 240.7L483.0 241.7L484.0 242.7L485.0 242.5L486.0 242.2L487.0 242.6L488.0 243.2L489.0 243.7L490.0 244.0L491.0 244.1L492.0 243.8L493.0 244.0L494.0 245.9L495.0 247.7L496.0 247.2L497.0 246.6L498.0 246.9L499.0 247.5L500.0 247.8L501.0 247.9L502.0 248.1L503.0 248.6L504.0 249.1L505.0 249.8L506.0 250.5L507.0 251.0L508.0 251.5L509.0 252.7L510.0 254.1L511.0 254.9L512.0 255.2L513.0 255.2L514.0 254.6L515.0 254.2L516.0 254.1L517.0 254.1L518.0 254.8L519.0 255.6L520.0 255.4L521.0 254.9L522.0 255.0L523.0 255.4L524.0 256.0L525.0 257.0L526.0 257.9L527.0 258.6L528.0 259.3L529.0 258.3L530.0 257.4L531.0 257.3L532.0 257.5L533.0 258.0L534.0 258.5L535.0 258.9L536.0 259.1L537.0 259.3L538.0 259.7L539.0 260.2L540.0 260.9L541.0 261.7L542.0 261.5L543.0 261.0L544.0 261.4L545.0 262.2L546.0 263.2L547.0 265.5L548.0 269.0L549.0 272.8L550.0 275.9L551.0 276.1L552.0 275.8L553.0 275.8L554.0 275.7L555.0 276.0L556.0 276.4L557.0 277.1L558.0 278.2L559.0 279.0L560.0 278.7L561.0 278.3L562.0 278.8L563.0 279.3L564.0 279.5L565.0 279.7L566.0 279.7L567.0 279.6L568.0 279.9L569.0 280.8L570.0 281.6L571.0 281.6L572.0 281.6L573.0 281.0L574.0 280.3L575.0 280.2L576.0 280.2L577.0 280.7L578.0 281.4L579.0 281.7L580.0 281.5L581.0 281.6L582.0 282.5L583.0 283.4L584.0 283.4L585.0 283.5L586.0 282.9L587.0 282.2L588.0 282.0L589.0 282.1L590.0 282.0L591.0 281.4L592.0 281.0L593.0 281.6L594.0 282.1L595.0 281.6L596.0 281.0L597.0 281.7L598.0 282.6L599.0 283.3L600.0 283.8L601.0 283.8L602.0 283.3L603.0 283.0L604.0 283.7L605.0 284.3L606.0 285.0L607.0 285.7L608.0 285.6L609.0 285.3L610.0 285.6L611.0 286.3L612.0 287.4L613.0 289.3L614.0 290.6L615.0 289.7L616.0 288.8L617.0 289.3L618.0 289.9L619.0 291.0L620.0 292.3L621.0 292.6L622.0 292.3L623.0 292.1L624.0 292.1L625.0 292.3L626.0 293.4L627.0 294.5L628.0 294.2L629.0 293.8L630.0 294.5L631.0 295.5L632.0 296.1L633.0 296.3L634.0 296.3L635.0 296.0L636.0 295.8L637.0 296.3L638.0 296.8L639.0 297.0L640.0 297.1L641.0 297.3L642.0 297.6L643.0 298.3L644.0 299.4L645.0 300.3L646.0 301.0L647.0 301.5L648.0 301.4L649.0 301.2L650.0 301.4L651.0 301.6L652.0 302.1L653.0 302.8L654.0 303.3L655.0 303.7L656.0 303.6L657.0 302.9L658.0 302.5L659.0 303.5L660.0 304.5L661.0 303.7L662.0 302.9L663.0 303.0L664.0 303.3L665.0 303.8L666.0 304.4L667.0 304.3L668.0 303.0L669.0 302.2L670.0 303.2L671.0 304.2L672.0 303.5L673.0 302.8L674.0 302.4L675.0 302.0L676.0 302.3L677.0 303.0L678.0 302.9L679.0 301.9L680.0 301.4L681.0 302.8L682.0 304.2L683.0 303.9L684.0 303.5L685.0 303.2L686.0 302.8L687.0 302.4L688.0 301.9L689.0 301.8L690.0 302.2L691.0 302.3L692.0 301.4L693.0 300.4L694.0 301.4L695.0 302.3L696.0 302.6L697.0 302.7L698.0 302.5L699.0 302.2L700.0 301.7L701.0 301.1L702.0 300.7L703.0 300.7L704.0 300.7L705.0 301.2L706.0 301.6L707.0 300.9L708.0 299.8L709.0 300.0L710.0 301.0L711.0 301.7L712.0 301.6L713.0 301.4L714.0 300.2L715.0 299.1L716.0 300.2L717.0 301.2L718.0 300.9L719.0 300.1L720.0 300.2L721.0 300.8L722.0 301.0L723.0 300.7L724.0 300.4L725.0 300.0L726.0 299.6L727.0 299.9L728.0 300.1L729.0 299.7L730.0 299.1L731.0 299.2L732.0 299.8L733.0 299.9L734.0 299.4L735.0 298.9L736.0 298.7L737.0 298.6L738.0 298.7L739.0 298.8L740.0 298.5L741.0 298.1L742.0 297.4L743.0 296.6L744.0 296.5L745.0 297.6L746.0 298.4L747.0 298.1L748.0 297.8L749.0 297.5L750.0 297.2L751.0 297.2L752.0 297.2L753.0 297.0L754.0 296.7L755.0 296.4L756.0 296.3L757.0 296.1L758.0 295.5L759.0 294.9L760.0 294.3L761.0 293.7L762.0 293.8L763.0 294.2L764.0 294.0L765.0 293.5L766.0 293.1L767.0 293.0L768.0 292.9L769.0 292.5L770.0 292.1L771.0 291.4L772.0 290.7L773.0 290.6L774.0 290.7L775.0 290.4L776.0 289.6L777.0 289.4L778.0 290.0L779.0 290.1L780.0 288.6L781.0 287.0L782.0 286.7L783.0 286.4L784.0 286.5L785.0 286.7L786.0 286.7L787.0 286.6L788.0 286.2L789.0 285.5L790.0 285.1L791.0 285.8L792.0 286.5L793.0 286.1L794.0 285.8L795.0 285.6L796.0 285.5L797.0 285.4L798.0 285.2L799.0 284.6L800.0 283.4L801.0 282.5L802.0 283.2L803.0 283.8L804.0 283.1L805.0 282.4L806.0 282.7L807.0 283.1L808.0 283.1L809.0 282.7L810.0 282.6L811.0 283.0L812.0 283.1L813.0 282.2L814.0 281.3L815.0 279.9L816.0 278.6L817.0 278.7L818.0 279.2L819.0 279.0L820.0 278.4L821.0 277.8L822.0 277.1L823.0 276.3L824.0 275.7L825.0 275.0L826.0 274.1L827.0 273.2L828.0 272.7L829.0 272.3L830.0 271.9L831.0 271.6L832.0 271.4L833.0 271.6L834.0 271.6L835.0 270.9L836.0 270.3L837.0 270.0L838.0 269.7L839.0 269.3L840.0 268.8L841.0 269.2L842.0 270.1L843.0 270.5L844.0 269.9L845.0 269.5L846.0 269.2L847.0 268.9L848.0 268.6L849.0 268.4L850.0 268.9L851.0 269.5L852.0 269.5L853.0 269.2L854.0 268.8L855.0 268.2L856.0 267.6L857.0 266.7L858.0 265.8L859.0 266.6L860.0 267.4L861.0 266.9L862.0 266.0L863.0 265.7L864.0 265.6L865.0 265.7L866.0 265.8L867.0 265.9L868.0 265.7L869.0 265.6L870.0 264.7L871.0 263.9L872.0 264.9L873.0 266.3L874.0 266.8L875.0 266.6L876.0 266.4L877.0 266.3L878.0 266.4L879.0 267.2L880.0 268.0L881.0 267.3L882.0 266.7L883.0 266.2L884.0 265.9L885.0 266.7L886.0 268.3L887.0 268.8L888.0 267.4L889.0 266.2L890.0 265.5L891.0 264.7L892.0 266.1L893.0 267.4L894.0 267.3L895.0 266.8L896.0 266.7L897.0 266.7L898.0 266.9L899.0 267.2L900.0 267.4L901.0 266.7L902.0 266.0L903.0 266.5L904.0 267.0L905.0 267.6L906.0 268.2L907.0 268.6L908.0 269.0L909.0 268.8L910.0 267.7L911.0 266.9L912.0 267.1L913.0 267.4L914.0 266.6L915.0 265.8L916.0 266.4L917.0 267.3L918.0 267.3L919.0 266.7L920.0 266.2L921.0 266.1L922.0 266.0L923.0 266.5L924.0 267.0L925.0 266.5L926.0 265.9L927.0 265.9L928.0 265.9L929.0 265.9L930.0 265.9L931.0 265.8L932.0 265.7L933.0 265.6L934.0 265.1L935.0 264.6L936.0 264.5L937.0 264.4L938.0 263.7L939.0 262.8L940.0 262.8L941.0 263.4L942.0 263.3L943.0 262.3L944.0 261.4L945.0 260.9L946.0 260.4L947.0 260.0L948.0 259.6L949.0 259.2L950.0 258.7L951.0 258.4L952.0 258.2L953.0 257.9L954.0 257.5L955.0 257.2L956.0 257.0L957.0 256.9L958.0 256.8L959.0 256.8L960.0 256.8L961.0 256.9L962.0 257.0L963.0 257.2L964.0 257.4L965.0 257.6L966.0 257.9L967.0 258.1L968.0 258.4L969.0 258.8L970.0 259.1L971.0 259.5L972.0 259.9L973.0 260.3L974.0 260.7L975.0 261.2L976.0 261.9L977.0 262.7L978.0 263.7L979.0 264.8L980.0 266.0L981.0 267.3L982.0 268.7L983.0 270.3L984.0 272.2L985.0 274.5L986.0 277.1L987.0 279.9L988.0 282.8L989.0 285.9L990.0 289.0L991.0 292.2L992.0 296.0L993.0 300.6L994.0 305.7L995.0 311.0L996.0 316.6L997.0 322.1L998.0 327.3L999.0 332.1L1000.0 336.2L1001.0 339.5L1002.0 341.8L1003.0 342.9L1004.0 342.7L1005.0 341.5L1006.0 339.4L1007.0 336.6L1008.0 333.4L1009.0 329.8L1010.0 326.1L1011.0 322.4L1012.0 319.0L1013.0 315.9L1014.0 313.5L1015.0 311.8L1016.0 311.0L1017.0 311.2L1018.0 312.2L1019.0 313.7L1020.0 315.8L1021.0 318.4L1022.0 321.4L1023.0 324.6L1024.0 328.1L1025.0 331.7L1026.0 335.4L1027.0 339.1L1028.0 342.7L1029.0 346.0L1030.0 349.2L1031.0 351.9L1032.0 354.3L1033.0 356.1L1034.0 357.4L1035.0 358.0L1036.0 357.7L1037.0 356.3L1038.0 353.9L1039.0 350.7L1040.0 347.0L1041.0 342.9L1042.0 338.6L1043.0 334.4L1044.0 330.5L1045.0 327.0L1046.0 324.1L1047.0 321.2L1048.0 318.3L1049.0 315.5L1050.0 312.6L1051.0 309.8L1052.0 307.1L1053.0 304.4L1054.0 301.9L1055.0 299.5L1056.0 297.2L1057.0 295.1L1058.0 293.2L1059.0 291.5L1060.0 290.0L1061.0 288.4L1062.0 286.8L1063.0 285.3L1064.0 283.8L1065.0 282.5L1066.0 281.3L1067.0 280.4L1068.0 279.6L1069.0 279.1L1070.0 278.9L1071.0 278.9L1072.0 278.9L1073.0 279.0L1074.0 279.0L1075.0 279.0L1076.0 279.1L1077.0 279.2L1078.0 279.3L1079.0 279.4L1080.0 279.5L1081.0 279.6L1082.0 279.8L1083.0 279.9L1084.0 280.1L1085.0 280.3L1086.0 280.7L1087.0 281.8L1088.0 283.5L1089.0 285.5L1090.0 287.7L1091.0 289.8L1092.0 291.8L1093.0 293.5L1094.0 294.6L1095.0 295.0L1096.0 293.5L1097.0 289.5L1098.0 283.7L1099.0 276.8L1100.0 269.7L1101.0 262.9L1102.0 257.3L1103.0 253.5L1104.0 251.4L1105.0 249.5L1106.0 247.7L1107.0 246.1L1108.0 244.6L1109.0 243.2L1110.0 241.9L1111.0 240.8L1112.0 239.8L1113.0 238.9L1114.0 238.1L1115.0 237.4L1116.0 236.8L1117.0 236.4L1118.0 235.9L1119.0 235.5L1120.0 235.1L1121.0 234.7L1122.0 234.4L1123.0 234.0L1124.0 233.7L1125.0 233.3L1126.0 233.0L1127.0 232.7L1128.0 232.5L1129.0 232.2L1130.0 232.0L1131.0 231.8L1132.0 231.6L1133.0 231.5L1134.0 231.3L1135.0 231.2L1136.0 231.2L1137.0 231.1L1138.0 231.1L1138.2 231.1"/>
<path stroke="#FF00FF" d="M1176.4 215.6L1177.4 215.4L1178.4 215.2L1179.4 215.1L1180.4 214.9L1181.4 214.8L1182.4 214.7L1183.4 214.6L1184.4 214.6L1185.4 214.5L1186.4 214.4L1187.4 214.4L1188.4 214.4L1189.4 214.3L1190.4 214.3L1191.4 214.3L1192.4 214.3L1193.4 214.3L1194.4 214.3L1195.4 214.3L1196.4 214.3L1197.4 214.4L1198.4 214.6L1199.4 214.8L1200.4 215.0L1201.4 215.3L1202.4 215.6L1203.4 216.0L1204.4 216.3L1205.4 216.8L1206.4 217.2L1207.4 217.7L1208.4 218.2L1209.4 218.7L1210.4 219.2L1211.4 219.7L1212.4 220.3L1213.4 220.8L1214.4 221.4L1215.4 222.1L1216.4 222.8L1217.4 223.7L1218.4 224.5L1219.4 225.5L1220.4 226.5L1221.4 227.6L1222.4 228.7L1223.4 229.8L1224.4 231.0L1225.4 232.2L1226.4 233.4L1227.4 234.6L1228.4 235.9L1229.4 237.2L1230.4 238.5L1231.4 239.9L1232.4 241.3L1233.4 242.8L1234.4 244.3L1235.4 245.9L1236.4 247.6L1237.4 249.2L1238.4 251.0L1239.4 252.8L1240.4 254.6L1241.4 256.5L1242.4 258.5L1243.4 260.5L1244.4 262.5L1245.4 264.6L1246.4 266.7L1247.4 269.2L1248.4 272.1L1249.4 275.4L1250.4 278.9L1251.4 282.5L1252.4 286.2L1253.4 289.7L1254.4 293.0L1255.4 295.9L1256.4 298.5L1257.4 300.4L1258.4 301.7L1259.4 302.3L1260.4 302.6L1261.4 302.9L1262.4 303.2L1263.4 303.5L1264.4 303.7L1265.4 303.8L1266.4 304.0L1267.4 304.2L1268.4 304.3L1269.4 304.4L1270.4 304.6L1271.4 304.7L1272.4 304.9L1273.4 305.1L1274.4 305.3L1275.4 305.5L1276.4 305.8L1277.4 306.1L1278.4 306.5L1279.4 306.9L1280.4 307.5L1281.4 308.0L1282.4 308.6L1283.4 309.2L1284.4 309.9L1285.4 310.5L1286.4 311.2L1287.4 311.9L1288.4 312.5L1289.4 313.2L1290.4 313.8L1291.4 314.4L1292.4 315.0L1293.4 315.6L1294.4 316.2L1295.4 316.9L1296.4 317.6L1297.4 318.3L1298.4 319.0L1299.4 319.7L1300.4 320.4L1301.4 321.1L1302.4 321.7L1303.4 322.3L1304.4 322.9L1305.4 323.4L1306.4 323.9L1307.4 324.3L1308.4 324.6L1309.4 324.8L1310.4 325.0L1311.4 325.0L1312.4 324.9L1313.4 324.5L1314.4 324.1L1315.4 323.4L1316.4 322.7L1317.4 321.8L1318.4 320.8L1319.4 319.7L1320.4 318.6L1321.4 317.4L1322.4 316.2L1323.4 314.9L1324.4 313.7L1325.4 312.4L1326.4 311.2L1327.4 310.0L1328.4 308.9L1329.4 307.6L1330.4 306.2L1331.4 304.6L1332.4 303.0L1333.4 301.4L1334.4 299.6L1335.4 297.9L1336.4 296.2L1337.4 294.5L1338.4 292.9L1339.4 291.3L1340.4 289.8L1341.4 288.4L1342.4 287.1L1343.4 286.0L1344.4 285.1L1345.4 284.4L1346.4 283.8L1347.4 283.2L1348.4 282.6L1349.4 282.0L1350.4 281.5L1351.4 281.0L1352.4 280.5L1353.4 280.1L1354.4 279.8L1355.4 279.5L1356.4 279.3L1357.4 279.2L1358.4 279.2L1359.4 279.6L1360.4 280.4L1361.4 281.6L1362.4 282.9L1363.4 284.5L1364.4 286.5L1365.4 289.5L1366.4 293.2L1367.4 297.5L1368.4 302.4L1369.4 307.8L1370.4 313.5L1371.4 319.5L1372.4 325.7L1373.4 332.0L1374.4 339.4L1375.4 349.2L1376.4 360.7L1377.4 373.1L1378.4 385.8L1379.4 398.0L1380.4 409.0L1381.4 418.2L1382.4 424.7L1383.4 427.8L1384.4 427.1L1385.4 422.8L1386.4 415.6L1387.4 406.2L1388.4 395.1L1389.4 383.0L1390.4 370.5L1391.4 358.2L1392.4 346.8L1393.4 336.8L1394.4 328.6L1395.4 320.5L1396.4 312.2L1397.4 303.9L1398.4 295.9L1399.4 288.4L1400.4 281.4L1401.4 275.2L1402.4 269.9L1403.4 265.8L1404.4 262.8L1405.4 260.2L1406.4 257.7L1407.4 255.4L1408.4 253.2L1409.4 251.2L1410.4 249.4L1411.4 247.9L1412.4 246.7L1413.4 245.7L1414.4 245.1L1415.4 244.9L1416.4 245.0L1417.4 245.5L1418.4 246.3L1419.4 247.3L1420.4 248.4L1421.4 249.7L1422.4 251.1L1423.4 252.5L1424.4 253.8L1425.4 255.1L1426.4 256.5L1427.4 257.9L1428.4 259.4L1429.4 261.0L1430.4 262.8L1431.4 264.6L1432.4 266.7L1433.4 268.9L1434.4 271.4L1435.4 274.0L1436.4 277.0L1437.4 280.2L1438.4 284.5L1439.4 289.9L1440.4 296.4L1441.4 303.7L1442.4 311.8L1443.4 320.5L1444.4 329.8L1445.4 340.8L1446.4 356.7L1447.4 375.8L1448.4 396.0L1449.4 415.3L1450.4 431.6L1451.4 442.9L1452.4 447.1L1453.4 444.7L1454.4 438.0L1455.4 427.8L1456.4 415.1L1457.4 400.8L1458.4 385.5L1459.4 370.3L1460.4 356.0L1461.4 343.4L1462.4 333.4L1463.4 325.2L1464.4 316.7L1465.4 308.1L1466.4 299.8L1467.4 292.0L1468.4 284.9L1469.4 278.9L1470.4 274.0L1471.4 270.7L1472.4 269.1L1473.4 269.1L1474.4 269.6L1475.4 270.5L1476.4 271.6L1477.4 273.0L1478.4 274.4L1479.4 275.9L1480.4 277.4L1481.4 278.8L1482.4 280.0L1483.4 281.0L1484.4 282.1L1485.4 283.2L1486.4 284.2L1487.4 285.2L1488.4 286.0L1489.4 286.6L1490.4 286.8L1491.4 286.6L1492.4 285.9L1493.4 284.7L1494.4 283.3L1495.4 281.7L1496.4 280.0L1497.4 278.3L1498.4 276.8L1499.4 275.4L1500.4 274.3L1501.4 273.6L1502.4 272.9L1503.4 272.1L1504.4 271.4L1505.4 270.7L1506.4 270.1L1507.4 269.5L1508.4 268.9L1509.4 268.3L1510.4 267.9L1511.4 267.4L1512.4 267.1L1513.4 266.8L1514.4 266.6L1515.4 266.5L1516.4 266.5L1517.4 267.0L1518.4 267.7L1519.4 268.8L1520.4 270.0L1521.4 271.4L1522.4 272.7L1523.4 273.9L1524.4 275.0L1525.4 276.4L1526.4 277.9L1527.4 279.4L1528.4 280.9L1529.4 282.2L1530.4 283.3L1531.4 284.0L1532.4 284.3L1533.4 284.0L1534.4 283.2L1535.4 281.8L1536.4 280.2L1537.4 278.5L1538.4 276.7L1539.4 275.1L1540.4 273.8L1541.4 272.9L1542.4 272.3L1543.4 271.7L1544.4 271.2L1545.4 270.6L1546.4 270.1L1547.4 269.6L1548.4 269.2L1549.4 268.7L1550.4 268.3L1551.4 268.0L1552.4 267.6L1553.4 267.3L1554.4 267.1L1555.4 266.9L1556.4 266.7L1557.4 266.6L1558.4 266.5L1559.4 266.5L1560.4 267.4L1561.4 269.3L1562.4 271.9L1563.4 274.6L1564.4 277.2L1565.4 279.2L1566.4 280.4L1567.4 280.3L1568.4 279.4L1569.4 277.7L1570.4 275.5L1571.4 273.0L1572.4 270.3L1573.4 267.7L1574.4 265.3L1575.4 263.3L1576.4 261.9L1577.4 261.2L1578.4 260.6L1579.4 260.1L1580.4 259.6L1581.4 259.2L1582.4 258.8L1583.4 258.5L1584.4 258.2L1585.4 257.9L1586.4 257.8L1587.4 257.6L1588.4 257.6L1589.4 257.7L1590.4 258.0L1591.4 258.5L1592.4 259.1L1593.4 259.9L1594.4 260.8L1595.4 261.8L1596.4 262.8L1597.4 263.9L1598.4 265.2L1599.4 266.9L1600.4 268.9L1601.4 271.1L1602.4 273.6L1603.4 276.2L1604.4 278.8L1605.4 281.5L1606.4 284.1L1607.4 286.6L1608.4 289.1L1609.4 291.9L1610.4 294.9L1611.4 298.1L1612.4 301.4L1613.4 304.7L1614.4 308.0L1615.4 311.2L1616.4 314.2L1617.4 317.0L1618.4 319.5L1619.4 321.6L1620.4 323.2L1621.4 324.4L1622.4 324.9L1623.4 324.9L1624.4 324.6L1625.4 324.0L1626.4 323.2L1627.4 322.2L1628.4 321.1L1629.4 319.9L1630.4 318.7L1631.4 317.5L1632.4 316.3L1633.4 315.2L1634.4 314.2L1635.4 313.3L1636.4 312.7L1637.4 312.4L1638.4 312.3L1639.4 313.1L1640.4 314.8L1641.4 317.2L1642.4 320.2L1643.4 323.7L1644.4 327.5L1645.4 331.4L1646.4 336.3L1647.4 344.1L1648.4 353.0L1649.4 361.3L1650.4 367.0L1651.4 369.4L1652.4 371.2L1653.4 373.0L1654.4 374.6L1655.4 376.0L1656.4 377.3L1657.4 378.6L1658.4 379.6L1659.4 380.6L1660.4 381.4L1661.4 382.1L1662.4 382.6L1663.4 383.0L1664.4 383.3L1665.4 383.5L1666.4 383.5L1667.4 383.4L1668.4 383.3L1669.4 383.2L1670.4 382.9L1671.4 382.7L1672.4 382.4L1673.4 382.0L1674.4 381.7L1675.4 381.3L1676.4 380.9L1677.4 380.5L1678.4 379.9L1679.4 379.1L1680.4 378.2L1681.4 376.9L1682.4 375.0L1683.4 372.8L1684.4 370.2L1685.4 367.4L1686.4 364.4L1687.4 361.4L1688.4 358.5L1689.4 355.6L1690.4 353.0L1691.4 350.3L1692.4 347.3L1693.4 344.1L1694.4 340.8L1695.4 337.5L1696.4 334.2L1697.4 331.1L1698.4 328.3L1699.4 325.8L1700.4 323.8L1701.4 322.3L1702.4 321.4L1703.4 321.3L1704.4 322.7L1705.4 325.7L1706.4 329.9L1707.4 335.1L1708.4 340.8L1709.4 346.9L1710.4 353.1L1711.4 358.9L1712.4 364.1L1713.4 368.4L1714.4 371.5L1715.4 373.1L1716.4 373.0L1717.4 371.3L1718.4 368.2L1719.4 364.1L1720.4 359.3L1721.4 353.9L1722.4 348.4L1723.4 343.0L1724.4 337.8L1725.4 333.3L1726.4 329.7L1727.4 327.3L1728.4 326.3L1729.4 327.0L1730.4 329.5L1731.4 333.4L1732.4 338.4L1733.4 344.5L1734.4 351.2L1735.4 358.3L1736.4 365.6L1737.4 372.9L1738.4 379.9L1739.4 386.3L1740.4 391.8L1741.4 396.3L1742.4 399.5L1743.4 401.1L1744.4 401.2L1745.4 400.4L1746.4 399.0L1747.4 397.1L1748.4 394.9L1749.4 392.4L1750.4 389.9L1751.4 387.4L1752.4 385.0L1753.4 382.9L1754.4 381.3L1755.4 380.2L1756.4 379.7L1757.4 379.9L1758.4 380.4L1759.4 381.2L1760.4 382.3L1761.4 383.7L1762.4 385.3L1763.4 387.0L1764.4 389.0L1765.4 391.0L1766.4 393.1L1767.4 395.6L1768.4 399.6L1769.4 405.0L1770.4 411.2L1771.4 418.1L1772.4 425.4L1773.4 432.7L1774.4 439.7L1775.4 446.1L1776.4 451.6L1777.4 456.0L1778.4 458.8L1779.4 459.8L1780.4 459.7L1781.4 459.3L1782.4 458.6L1783.4 457.8L1784.4 456.7L1785.4 455.5L1786.4 454.1L1787.4 452.5L1788.4 450.9L1789.4 449.1L1790.4 447.3L1791.4 445.3L1792.4 443.4L1793.4 441.4L1794.4 439.3L1795.4 437.3L1796.4 435.4L1797.4 433.4L1798.4 431.6L1799.4 429.8L1800.4 428.0L1801.4 426.0L1802.4 423.7L1803.4 421.2L1804.4 418.7L1805.4 416.2L1806.4 413.8L1807.4 411.5L1808.4 409.5L1809.4 407.7L1810.4 406.4L1811.4 405.5L1812.4 405.1L1813.4 405.3L1814.4 405.9L1815.4 406.9L1816.4 408.3L1817.4 410.0L1818.4 412.0L1819.4 414.3L1820.4 416.8L1821.4 419.4L1822.4 422.2L1823.4 425.0L1824.4 428.0L1825.4 430.9L1826.4 433.9L1827.4 436.7L1828.4 439.5L1829.4 442.2L1830.4 444.7L1831.4 446.9L1832.4 449.0L1833.4 450.8L1834.4 452.7L1835.4 454.6L1836.4 456.6L1837.4 458.6L1838.4 460.6L1839.4 462.6L1840.4 464.6L1841.4 466.5L1842.4 468.4L1843.4 470.2L1844.4 471.9L1845.4 473.5L1846.4 475.0L1847.4 476.3L1848.4 477.5L1849.4 478.4L1850.4 479.2L1851.4 479.8L1852.4 480.1L1853.4 480.2L1854.4 479.8L1855.4 478.9L1856.4 477.5L1857.4 475.6L1858.4 473.3L1859.4 470.6L1860.4 467.6L1861.4 464.3L1862.4 460.7L1863.4 456.9L1864.4 452.9L1865.4 448.7L1866.4 444.4L1867.4 440.1L1868.4 435.7L1869.4 431.3L1870.4 426.9L1871.4 422.6L1872.4 418.4L1873.4 414.4L1874.4 410.3L1875.4 405.9L1876.4 401.1L1877.4 396.1L1878.4 390.9L1879.4 385.6L1880.4 380.3L1881.4 374.9L1882.4 369.5L1883.4 364.3L1884.4 359.2L1885.4 354.4L1886.4 349.8L1887.4 345.6L1888.4 341.7L1889.4 338.3L1890.4 335.0L1891.4 331.8L1892.4 328.7L1893.4 325.7L1894.4 322.9L1895.4 320.1L1896.4 317.4L1897.4 314.8L1898.4 312.3L1899.4 309.9L1900.4 307.5L1901.4 305.3L1902.4 303.0L1903.4 300.9L1904.4 298.8L1905.4 296.7L1906.4 294.7L1907.4 292.8L1908.4 290.9L1909.4 289.1L1910.4 287.3L1911.4 285.5L1912.4 283.8L1913.4 282.2L1914.4 280.5L1915.4 278.9L1916.4 277.3L1917.4 275.8L1918.4 274.2L1919.4 272.7L1920.4 271.1L1921.4 269.6L1922.4 268.1L1923.4 266.5L1924.4 264.9L1925.4 263.2L1926.4 261.5L1927.4 259.8L1928.4 258.1L1929.4 256.4L1930.4 254.6L1931.4 252.9L1932.4 251.2L1933.4 249.6L1934.4 248.0L1935.4 246.4L1936.4 244.9L1937.4 243.5L1938.4 242.1L1939.4 240.8L1940.4 239.7L1941.4 238.6L1942.4 237.6L1943.4 236.7L1944.4 236.0L1945.4 235.4L1946.4 235.0L1947.4 234.7L1948.4 234.4L1949.4 234.2L1950.4 234.0L1951.4 233.8L1952.4 233.6L1953.4 233.4L1954.4 233.2L1955.4 233.0L1956.4 232.8L1957.4 232.7L1958.4 232.5L1959.4 232.4L1960.4 232.2L1961.4 232.1L1962.4 231.9L1963.4 231.8L1964.4 231.7L1965.4 231.6L1966.4 231.5L1967.4 231.4L1968.4 231.3L1969.4 231.2L1970.4 231.1L1971.4 231.1L1972.4 231.0L1973.4 231.0L1974.4 231.0L1975.4 230.9L1976.4 230.9L1977.4 230.9L1978.4 231.2L1979.4 233.1L1980.4 236.5L1981.4 241.0L1982.4 246.4L1983.4 252.6L1984.4 259.1L1985.4 265.7L1986.4 272.3L1987.4 278.4L1988.4 284.0L1989.4 290.3L1990.4 297.3L1991.4 304.8L1992.4 312.7L1993.4 320.7L1994.4 328.6L1995.4 336.3L1996.4 343.5L1997.4 350.0L1998.4 355.6L1999.4 360.2L2000.4 363.5L2001.4 365.4L2002.4 365.6L2003.4 364.9L2004.4 363.5L2005.4 361.5L2006.4 359.0L2007.4 356.0L2008.4 352.6L2009.4 349.1L2010.4 345.3L2011.4 341.4L2012.4 337.6L2013.4 333.8L2014.4 330.2L2015.4 326.8L2016.4 323.8L2017.4 320.9L2018.4 318.0L2019.4 315.2L2020.4 312.3L2021.4 309.4L2022.4 306.6L2023.4 303.7L2024.4 300.7L2025.4 297.7L2026.4 294.7L2027.4 291.5L2028.4 288.3L2029.4 285.0L2030.4 281.6L2031.4 277.7L2032.4 273.5L2033.4 269.3L2034.4 265.5L2035.4 262.3L2036.4 259.5L2037.4 256.8L2038.4 254.2L2039.4 252.0L2040.4 250.3L2041.4 249.5L2042.4 249.5L2043.4 249.5L2044.4 249.5L2045.4 249.5L2046.4 249.5L2047.4 249.6L2048.4 249.8L2049.4 250.9L2050.4 252.7L2051.4 254.8L2052.4 257.3L2053.4 259.5L2054.4 260.6L2055.4 260.4L2056.4 259.5L2057.4 258.7L2058.4 257.7L2059.4 256.8L2060.4 256.0L2061.4 255.2L2062.4 253.8L2063.4 252.6L2064.4 252.0L2065.4 252.2L2066.4 253.4L2067.4 254.7L2068.4 256.5L2069.4 258.3L2070.4 259.8L2071.4 260.4L2072.4 261.1L2073.4 261.7L2074.4 262.2L2075.4 262.5L2076.4 262.8L2077.4 262.7L2078.4 262.6L2079.4 262.6L2080.4 262.9L2081.4 263.2L2082.4 264.4L2083.4 265.7L2084.4 266.5L2085.4 266.6L2086.4 266.6L2087.4 267.8L2088.4 268.8L2089.4 269.3L2090.4 267.9L2091.4 264.0L2092.4 258.5L2093.4 253.0L2094.4 249.0L2095.4 247.5L2096.4 246.7L2097.4 246.7L2098.4 246.9L2099.4 246.7L2100.4 246.3L2101.4 246.2L2102.4 247.1L2103.4 248.3L2104.4 249.6L2105.4 250.9L2106.4 252.0L2107.4 252.7L2108.4 253.0L2109.4 252.9L2110.4 252.8L2111.4 252.6L2112.4 252.2L2113.4 251.8L2114.4 251.1L2115.4 250.1L2116.4 249.1L2117.4 248.4L2118.4 247.4L2119.4 245.9L2120.4 244.1L2121.4 242.2L2122.4 240.8L2123.4 239.6L2124.4 238.8L2125.4 238.3L2126.4 237.8L2127.4 236.6L2128.4 235.4L2129.4 234.9L2130.4 235.1L2131.4 235.4L2132.4 234.3L2133.4 233.3L2134.4 232.6L2135.4 232.2L2136.4 231.8L2137.4 230.9L2138.4 230.1L2139.4 229.5L2140.4 229.0L2141.4 228.4L2142.4 228.1L2143.4 227.8L2144.4 227.6L2145.4 227.6L2146.4 227.6L2147.4 227.3L2148.4 227.3L2149.4 227.9L2150.4 228.8L2151.4 229.8L2152.4 229.9L2153.4 230.0L2154.4 230.8L2155.4 232.3L2156.4 233.2L2157.4 232.1L2158.4 230.7L2159.4 228.8L2160.4 226.7L2161.4 224.6L2162.4 223.5L2163.4 222.8L2164.4 222.2L2165.4 221.8L2166.4 221.3L2167.4 219.1L2168.4 216.9L2169.4 215.9L2170.4 216.1L2171.4 216.4L2172.4 215.3L2173.4 214.4L2174.4 214.1L2175.4 214.6L2176.4 216.0L2177.4 218.3L2178.4 220.7L2179.4 221.7L2180.4 220.9L2181.4 219.5L2182.4 218.7L2183.4 217.4L2183.5 217.3"/>
</g>
<g stroke="#000" fill="none">
<line x1="128" y1="53.6" x2="2188" y2="53.6" stroke-width="9"/>
<line x1="131.8" y1="49" x2="131.8" y2="1724" stroke-width="7.5"/>
<line x1="2184" y1="49" x2="2184" y2="1724" stroke-width="7.5"/>
<line x1="128" y1="1720.2" x2="1141" y2="1720.2" stroke-width="8"/>
<line x1="1175" y1="1720.2" x2="2187.75" y2="1720.2" stroke-width="8"/>
</g>
<g stroke="#000" stroke-width="5" fill="none">
<line x1="1124.6" y1="1751.6" x2="1156.7" y2="1688.2"/>
<line x1="1159" y1="1751.6" x2="1191.2" y2="1688.2"/>
</g>
<g stroke="#000" stroke-width="7.4" fill="none">
<line x1="131.4" y1="1720" x2="131.4" y2="1752.5"/>
<line x1="551.2" y1="1720" x2="551.2" y2="1752.5"/>
<line x1="972.1" y1="1720" x2="972.1" y2="1752.5"/>
<line x1="1457.2" y1="1720" x2="1457.2" y2="1752.5"/>
<line x1="1860.3" y1="1720" x2="1860.3" y2="1752.5"/>
<line x1="340.5" y1="1720" x2="340.5" y2="1735"/>
<line x1="761.4" y1="1720" x2="761.4" y2="1735"/>
<line x1="1255.9" y1="1720" x2="1255.9" y2="1735"/>
<line x1="1659.0" y1="1720" x2="1659.0" y2="1735"/>
<line x1="2062.7" y1="1720" x2="2062.7" y2="1735"/>
</g>
<g stroke="#000" stroke-width="5" fill="none">
<line x1="887" y1="236.5" x2="630" y2="143"/>
<line x1="1664" y1="219.5" x2="1895" y2="160"/>
<line x1="1791" y1="226.5" x2="1905" y2="173"/>
</g>
<polygon fill="#000" points="584.2,127 638,132 631.6,155.3"/>
<polygon fill="#000" points="1887.6,147.8 1957.2,147.8 1916,182 1893.5,176.5 1887.6,162"/>
<text transform="translate(154.93,204.80) scale(0.9929,1.0524)" font-size="62" font-weight="bold">EPZ-5</text>
<text transform="translate(152.33,419.10) scale(0.9929,1.0524)" font-size="62" font-weight="bold">EPZ-4</text>
<text transform="translate(149.03,729.30) scale(0.9929,1.0524)" font-size="62" font-weight="bold">EPZ-3</text>
<text transform="translate(151.23,956.10) scale(0.9929,1.0524)" font-size="62" font-weight="bold">EPZ-2</text>
<text transform="translate(148.83,1259.60) scale(0.9929,1.0524)" font-size="62" font-weight="bold">EPZ-1</text>
<text transform="translate(146.03,1429.90) scale(0.9929,1.0524)" font-size="62" font-weight="bold">EPZ-0</text>
<text transform="translate(61.70,1822.60) scale(0.9970,1.0381)" font-size="62" font-weight="bold">4000</text>
<text transform="translate(481.60,1822.60) scale(0.9970,1.0381)" font-size="62" font-weight="bold">3500</text>
<text transform="translate(902.50,1822.60) scale(0.9970,1.0381)" font-size="62" font-weight="bold">3000</text>
<text transform="translate(1389.01,1822.60) scale(0.9970,1.0381)" font-size="62" font-weight="bold">1500</text>
<text transform="translate(1791.01,1822.60) scale(0.9970,1.0381)" font-size="62" font-weight="bold">1000</text>
<text transform="translate(760.70,1930.20) scale(0.9849,1.0005)" font-size="86" font-weight="bold">Wavenumber (cm</text>
<text transform="translate(1461.62,1890.30) scale(0.8917,1.0000)" font-size="58" font-weight="normal">−1</text>
<text transform="translate(1531.00,1929.94) scale(0.7667,0.9475)" font-size="86" font-weight="bold">)</text>
<text transform="translate(414.00,119.20) scale(1.0098,1.0000)" font-size="58.4" font-style="italic" font-weight="normal" stroke="#000" stroke-width="1.8">aromatic C–H</text>
<text transform="translate(846.80,125.10) scale(1.0207,1.0000)" font-size="58.4" font-style="italic" font-weight="normal" stroke="#000" stroke-width="1.8">aliphatic C–H</text>
<text transform="translate(1236.20,149.70) scale(0.9953,1.0000)" font-size="58.4" font-style="italic" font-weight="normal" stroke="#000" stroke-width="1.8">aromatic –C=C–</text>
<text transform="translate(1780.07,122.30) scale(1.0141,1.0000)" font-size="55.7" font-weight="bold">C<tspan font-size="34.5" dy="16">6</tspan><tspan dy="-16">H</tspan><tspan font-size="34.5" dy="16">4</tspan><tspan dy="-16">–O–CH</tspan><tspan font-size="34.5" dy="16">2</tspan></text>
<text transform="translate(83.61,1296.30) rotate(-90) scale(1.0004,0.9938)" font-size="87" font-weight="bold">Transmittance (a.u.)</text>
</svg>
</body></html>
